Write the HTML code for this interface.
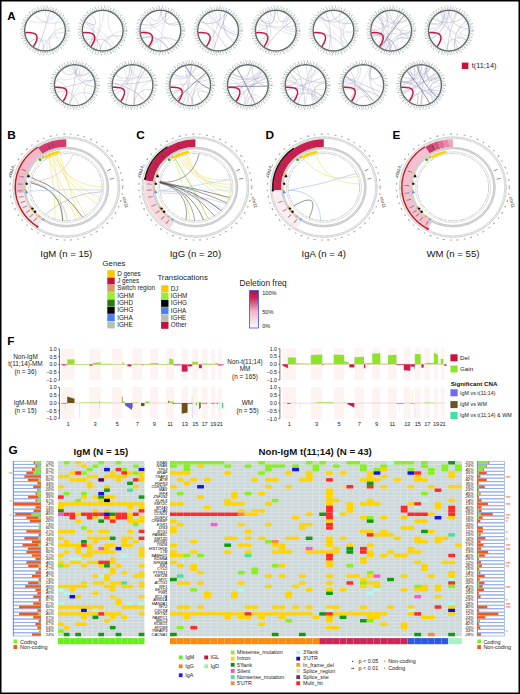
<!DOCTYPE html>
<html><head><meta charset="utf-8"><style>
html,body{margin:0;padding:0;background:#fff;}
svg{display:block;font-family:"Liberation Sans", sans-serif;}
</style></head><body>
<svg width="520" height="694" viewBox="0 0 520 694">
<rect x="0" y="0" width="520" height="694" fill="#fff"/>
<circle cx="45" cy="30.6" r="23.5" fill="none" stroke="#b9c6c1" stroke-width="1.8" stroke-dasharray="1.1 1.9 0.8 2.4 1.0 2.1"/>
<circle cx="45" cy="30.6" r="24.6" fill="none" stroke="#a0aea9" stroke-width="0.9" stroke-dasharray="0.8 4 0.6 5 0.7 3.5"/>
<circle cx="45" cy="30.6" r="21.9" fill="none" stroke="#76847f" stroke-width="1.0" stroke-dasharray="0.8 1.6"/>
<circle cx="45" cy="30.6" r="20.4" fill="#fff" stroke="#5f6e69" stroke-width="1.4"/>
<path d="M56.95,15.06 Q44.51,27.86 28.39,20.2" fill="none" stroke="#c4c4da" stroke-width="0.45" />
<path d="M42.78,50.07 Q46.39,32.27 64.54,32.07" fill="none" stroke="#b6b6d0" stroke-width="0.45" />
<path d="M62.17,21.14 Q45.6,28.07 33.89,14.45" fill="none" stroke="#b6b6d0" stroke-width="0.45" />
<path d="M33.23,46.27 Q44.76,32.18 51.64,49.04" fill="none" stroke="#c4c4da" stroke-width="0.45" />
<path d="M47.21,50.07 Q45.42,31.2 62.48,39.47" fill="none" stroke="#c4c4da" stroke-width="0.45" />
<path d="M60.32,42.82 Q49.26,30.41 59.15,17.04" fill="none" stroke="#cacade" stroke-width="0.45" />
<path d="M49.77,11.59 Q44.91,30.57 38.01,48.91" fill="none" stroke="#9c9cbe" stroke-width="0.45" />
<path d="M50.15,49.51 Q45.67,31.04 64.39,27.74" fill="none" stroke="#b6b6d0" stroke-width="0.45" />
<path d="M29.35,42.39 Q44.58,31.36 43.25,50.12" fill="none" stroke="#9c9cbe" stroke-width="0.45" />
<path d="M54.76,13.6 Q46.46,25.27 45.28,11" fill="none" stroke="#c4c4da" stroke-width="0.45" />
<path d="M25.31,32.67 C36.31,32.07 41,35.1 33.36,46.62" fill="none" stroke="#c8163f" stroke-width="1.5"/>
<circle cx="102.7" cy="30.6" r="23.5" fill="none" stroke="#b9c6c1" stroke-width="1.8" stroke-dasharray="1.1 1.9 0.8 2.4 1.0 2.1"/>
<circle cx="102.7" cy="30.6" r="24.6" fill="none" stroke="#a0aea9" stroke-width="0.9" stroke-dasharray="0.8 4 0.6 5 0.7 3.5"/>
<circle cx="102.7" cy="30.6" r="21.9" fill="none" stroke="#76847f" stroke-width="1.0" stroke-dasharray="0.8 1.6"/>
<circle cx="102.7" cy="30.6" r="20.4" fill="#fff" stroke="#5f6e69" stroke-width="1.4"/>
<path d="M85.59,40.17 Q100.06,34.63 100.79,50.11" fill="none" stroke="#9c9cbe" stroke-width="0.45" />
<path d="M83.52,26.58 Q101.74,31.83 111.29,48.22" fill="none" stroke="#c4c4da" stroke-width="0.45" />
<path d="M119.73,40.31 Q103.86,30.17 109.22,12.12" fill="none" stroke="#c4c4da" stroke-width="0.45" />
<path d="M84.57,23.15 Q102.26,30.68 88.19,43.77" fill="none" stroke="#c4c4da" stroke-width="0.45" />
<path d="M105.14,50.05 Q105.3,32.94 122.3,30.95" fill="none" stroke="#cacade" stroke-width="0.45" />
<path d="M104.08,11.05 Q102.38,30.48 91.07,46.38" fill="none" stroke="#cacade" stroke-width="0.45" />
<path d="M84.96,22.27 Q99.66,31.19 89.34,44.94" fill="none" stroke="#b6b6d0" stroke-width="0.45" />
<path d="M88.83,44.45 Q102.47,32.42 112.76,47.42" fill="none" stroke="#a6a6c6" stroke-width="0.45" />
<path d="M88.47,17.12 Q99.62,30.7 89.36,44.96" fill="none" stroke="#cacade" stroke-width="0.45" />
<path d="M85.62,20.99 Q102.36,31.02 115.5,45.44" fill="none" stroke="#c4c4da" stroke-width="0.45" />
<path d="M91.63,14.42 Q102.66,30.56 85.27,21.63" fill="none" stroke="#a6a6c6" stroke-width="0.45" />
<path d="M84.68,38.32 Q101.14,32.31 96.63,49.24" fill="none" stroke="#b6b6d0" stroke-width="0.45" />
<path d="M99.3,11.3 Q101.45,30.42 93.91,48.12" fill="none" stroke="#cacade" stroke-width="0.45" />
<path d="M100.03,50.02 Q103.85,32.38 121.48,36.2" fill="none" stroke="#9c9cbe" stroke-width="0.45" />
<path d="M83.01,32.67 C94.01,32.07 98.7,35.1 91.06,46.62" fill="none" stroke="#c8163f" stroke-width="1.5"/>
<circle cx="160.4" cy="30.6" r="23.5" fill="none" stroke="#b9c6c1" stroke-width="1.8" stroke-dasharray="1.1 1.9 0.8 2.4 1.0 2.1"/>
<circle cx="160.4" cy="30.6" r="24.6" fill="none" stroke="#a0aea9" stroke-width="0.9" stroke-dasharray="0.8 4 0.6 5 0.7 3.5"/>
<circle cx="160.4" cy="30.6" r="21.9" fill="none" stroke="#76847f" stroke-width="1.0" stroke-dasharray="0.8 1.6"/>
<circle cx="160.4" cy="30.6" r="20.4" fill="#fff" stroke="#5f6e69" stroke-width="1.4"/>
<path d="M172.1,14.88 Q159.75,29.12 140.91,28.49" fill="none" stroke="#c4c4da" stroke-width="0.45" />
<path d="M149.99,47.21 Q160.09,33.83 167.49,48.87" fill="none" stroke="#a6a6c6" stroke-width="0.45" />
<path d="M142.47,38.53 Q158.04,32.56 149.31,46.76" fill="none" stroke="#9c9cbe" stroke-width="0.45" />
<path d="M159.95,50.19 Q161.06,30.72 166.83,12.08" fill="none" stroke="#c4c4da" stroke-width="0.45" />
<path d="M146.36,16.93 Q159.98,30.49 141.55,35.98" fill="none" stroke="#c4c4da" stroke-width="0.45" />
<path d="M178.93,24.21 Q162.02,28.94 166.29,11.91" fill="none" stroke="#9c9cbe" stroke-width="0.45" />
<path d="M140.8,30.73 Q158.08,31.95 150.54,47.54" fill="none" stroke="#9c9cbe" stroke-width="0.45" />
<path d="M140.83,29.47 Q158.28,32.45 158.88,50.14" fill="none" stroke="#cacade" stroke-width="0.45" />
<path d="M160.84,11 Q159.74,28.62 148.34,15.15" fill="none" stroke="#a6a6c6" stroke-width="0.45" />
<path d="M167.1,12.18 Q159.63,29 141.84,24.3" fill="none" stroke="#9c9cbe" stroke-width="0.45" />
<path d="M144.66,18.92 Q160.22,30.79 172.76,45.81" fill="none" stroke="#c4c4da" stroke-width="0.45" />
<path d="M178.04,22.05 Q161.6,28.77 161.21,11.02" fill="none" stroke="#a6a6c6" stroke-width="0.45" />
<path d="M142.09,37.59 Q159.13,33.68 168.43,48.48" fill="none" stroke="#a6a6c6" stroke-width="0.45" />
<path d="M147.83,45.64 Q160.67,32.31 177.02,40.99" fill="none" stroke="#9c9cbe" stroke-width="0.45" />
<path d="M140.71,32.67 C151.71,32.07 156.4,35.1 148.76,46.62" fill="none" stroke="#c8163f" stroke-width="1.5"/>
<circle cx="218.1" cy="30.6" r="23.5" fill="none" stroke="#b9c6c1" stroke-width="1.8" stroke-dasharray="1.1 1.9 0.8 2.4 1.0 2.1"/>
<circle cx="218.1" cy="30.6" r="24.6" fill="none" stroke="#a0aea9" stroke-width="0.9" stroke-dasharray="0.8 4 0.6 5 0.7 3.5"/>
<circle cx="218.1" cy="30.6" r="21.9" fill="none" stroke="#76847f" stroke-width="1.0" stroke-dasharray="0.8 1.6"/>
<circle cx="218.1" cy="30.6" r="20.4" fill="#fff" stroke="#5f6e69" stroke-width="1.4"/>
<path d="M237.53,33.17 Q220.17,28.84 218.72,11.01" fill="none" stroke="#c4c4da" stroke-width="0.45" />
<path d="M234.8,40.86 Q218.84,30.02 212.04,11.96" fill="none" stroke="#cacade" stroke-width="0.45" />
<path d="M207.79,13.93 Q217.9,30.62 211.85,49.18" fill="none" stroke="#cacade" stroke-width="0.45" />
<path d="M221.47,11.29 Q218.05,30.58 206.43,46.35" fill="none" stroke="#b6b6d0" stroke-width="0.45" />
<path d="M237.14,35.26 Q218.86,29.61 208.77,13.36" fill="none" stroke="#9c9cbe" stroke-width="0.45" />
<path d="M226.06,12.69 Q217.04,27.74 200.41,22.16" fill="none" stroke="#9c9cbe" stroke-width="0.45" />
<path d="M201.23,20.63 Q217.15,31.48 226.77,48.18" fill="none" stroke="#9c9cbe" stroke-width="0.45" />
<path d="M203.61,43.8 Q216.56,33.43 214.92,49.94" fill="none" stroke="#c4c4da" stroke-width="0.45" />
<path d="M236.58,37.14 Q219.91,29.03 214.24,11.38" fill="none" stroke="#cacade" stroke-width="0.45" />
<path d="M213.46,49.64 Q218.71,30.83 227.34,13.32" fill="none" stroke="#9c9cbe" stroke-width="0.45" />
<path d="M233.55,42.66 Q219.1,30.32 225.13,12.31" fill="none" stroke="#9c9cbe" stroke-width="0.45" />
<path d="M198.63,28.34 Q215.46,31.41 203.29,43.44" fill="none" stroke="#cacade" stroke-width="0.45" />
<path d="M198.41,32.67 C209.41,32.07 214.1,35.1 206.46,46.62" fill="none" stroke="#c8163f" stroke-width="1.5"/>
<circle cx="275.8" cy="30.6" r="23.5" fill="none" stroke="#b9c6c1" stroke-width="1.8" stroke-dasharray="1.1 1.9 0.8 2.4 1.0 2.1"/>
<circle cx="275.8" cy="30.6" r="24.6" fill="none" stroke="#a0aea9" stroke-width="0.9" stroke-dasharray="0.8 4 0.6 5 0.7 3.5"/>
<circle cx="275.8" cy="30.6" r="21.9" fill="none" stroke="#76847f" stroke-width="1.0" stroke-dasharray="0.8 1.6"/>
<circle cx="275.8" cy="30.6" r="20.4" fill="#fff" stroke="#5f6e69" stroke-width="1.4"/>
<path d="M294.78,35.48 Q275.96,30.24 259.6,19.56" fill="none" stroke="#c4c4da" stroke-width="0.45" />
<path d="M295.38,29.77 Q280.32,28.53 289.21,16.31" fill="none" stroke="#b6b6d0" stroke-width="0.45" />
<path d="M291.29,18.59 Q277.47,27.5 277.31,11.06" fill="none" stroke="#b6b6d0" stroke-width="0.45" />
<path d="M266.39,13.41 Q274.22,30.63 267.13,48.18" fill="none" stroke="#c4c4da" stroke-width="0.45" />
<path d="M260.61,18.22 Q275,30.58 259.9,42.06" fill="none" stroke="#9c9cbe" stroke-width="0.45" />
<path d="M269.85,11.93 Q274.13,28.06 261.01,17.74" fill="none" stroke="#cacade" stroke-width="0.45" />
<path d="M274.77,11.03 Q275.7,30.42 259.58,19.6" fill="none" stroke="#9c9cbe" stroke-width="0.45" />
<path d="M294.83,25.93 Q275.87,29.21 257.32,24.08" fill="none" stroke="#b6b6d0" stroke-width="0.45" />
<path d="M275.52,11 Q274.76,29.57 256.2,30.64" fill="none" stroke="#b6b6d0" stroke-width="0.45" />
<path d="M295.37,31.64 Q275.99,30.51 287.61,14.96" fill="none" stroke="#b6b6d0" stroke-width="0.45" />
<path d="M266.1,47.63 Q276.32,31.11 292.74,20.74" fill="none" stroke="#9c9cbe" stroke-width="0.45" />
<path d="M289.02,16.13 Q276.01,29.71 270.21,11.82" fill="none" stroke="#c4c4da" stroke-width="0.45" />
<path d="M256.4,33.38 Q275.64,30.67 260.64,43.03" fill="none" stroke="#cacade" stroke-width="0.45" />
<path d="M256.75,25.98 Q275.38,30.71 261.76,44.28" fill="none" stroke="#cacade" stroke-width="0.45" />
<path d="M256.11,32.67 C267.11,32.07 271.8,35.1 264.16,46.62" fill="none" stroke="#c8163f" stroke-width="1.5"/>
<circle cx="333.5" cy="30.6" r="23.5" fill="none" stroke="#b9c6c1" stroke-width="1.8" stroke-dasharray="1.1 1.9 0.8 2.4 1.0 2.1"/>
<circle cx="333.5" cy="30.6" r="24.6" fill="none" stroke="#a0aea9" stroke-width="0.9" stroke-dasharray="0.8 4 0.6 5 0.7 3.5"/>
<circle cx="333.5" cy="30.6" r="21.9" fill="none" stroke="#76847f" stroke-width="1.0" stroke-dasharray="0.8 1.6"/>
<circle cx="333.5" cy="30.6" r="20.4" fill="#fff" stroke="#5f6e69" stroke-width="1.4"/>
<path d="M347.63,44.19 Q337.8,30.93 349.51,19.29" fill="none" stroke="#b6b6d0" stroke-width="0.45" />
<path d="M326.03,12.48 Q332.97,30.64 328.92,49.66" fill="none" stroke="#a6a6c6" stroke-width="0.45" />
<path d="M345,46.47 Q333.97,30.86 353.07,31.76" fill="none" stroke="#c4c4da" stroke-width="0.45" />
<path d="M317.94,18.69 Q333.27,30.85 346.58,45.2" fill="none" stroke="#cacade" stroke-width="0.45" />
<path d="M342.96,47.77 Q336.08,31.06 348.32,17.78" fill="none" stroke="#c4c4da" stroke-width="0.45" />
<path d="M341.5,12.71 Q332.56,26.37 318.69,17.77" fill="none" stroke="#9c9cbe" stroke-width="0.45" />
<path d="M351.67,23.25 Q335.69,26.82 330.86,11.18" fill="none" stroke="#9c9cbe" stroke-width="0.45" />
<path d="M321.17,15.36 Q331.52,31.23 332.29,50.16" fill="none" stroke="#c4c4da" stroke-width="0.45" />
<path d="M352.87,33.57 Q334.46,28.88 320.8,15.67" fill="none" stroke="#cacade" stroke-width="0.45" />
<path d="M347.72,44.09 Q336.11,30 340.35,12.24" fill="none" stroke="#cacade" stroke-width="0.45" />
<path d="M313.99,32.51 Q332.55,32.54 343.9,47.21" fill="none" stroke="#9c9cbe" stroke-width="0.45" />
<path d="M347.43,16.81 Q333.52,27.66 319.72,16.66" fill="none" stroke="#a6a6c6" stroke-width="0.45" />
<path d="M313.81,32.67 C324.81,32.07 329.5,35.1 321.86,46.62" fill="none" stroke="#c8163f" stroke-width="1.5"/>
<circle cx="391.2" cy="30.6" r="23.5" fill="none" stroke="#b9c6c1" stroke-width="1.8" stroke-dasharray="1.1 1.9 0.8 2.4 1.0 2.1"/>
<circle cx="391.2" cy="30.6" r="24.6" fill="none" stroke="#a0aea9" stroke-width="0.9" stroke-dasharray="0.8 4 0.6 5 0.7 3.5"/>
<circle cx="391.2" cy="30.6" r="21.9" fill="none" stroke="#76847f" stroke-width="1.0" stroke-dasharray="0.8 1.6"/>
<circle cx="391.2" cy="30.6" r="20.4" fill="#fff" stroke="#5f6e69" stroke-width="1.4"/>
<path d="M386.41,49.6 Q391.6,30.76 400.85,13.54" fill="none" stroke="#b6b6d0" stroke-width="0.45" />
<path d="M371.88,33.89 Q389.62,33.24 397.41,49.19" fill="none" stroke="#a6a6c6" stroke-width="0.45" />
<path d="M398.68,12.48 Q391.11,30.56 382.34,48.08" fill="none" stroke="#a6a6c6" stroke-width="0.45" />
<path d="M390.01,50.16 Q393.06,33.71 409.02,38.77" fill="none" stroke="#c4c4da" stroke-width="0.45" />
<path d="M387.75,11.31 Q390.61,30.26 372.8,37.35" fill="none" stroke="#c4c4da" stroke-width="0.45" />
<path d="M378.26,15.88 Q389.64,30.36 374.37,40.64" fill="none" stroke="#a6a6c6" stroke-width="0.45" />
<path d="M398.99,48.58 Q391.54,30.89 410.23,35.3" fill="none" stroke="#cacade" stroke-width="0.45" />
<path d="M407.55,19.79 Q392.41,27.11 385.07,11.98" fill="none" stroke="#c4c4da" stroke-width="0.45" />
<path d="M377.48,16.61 Q389.82,31.11 389.85,50.15" fill="none" stroke="#a6a6c6" stroke-width="0.45" />
<path d="M371.6,30.19 Q388.56,33.17 391.07,50.2" fill="none" stroke="#c4c4da" stroke-width="0.45" />
<path d="M371.63,29.5 Q389.6,31.23 377.56,44.68" fill="none" stroke="#c4c4da" stroke-width="0.45" />
<path d="M406.44,42.92 Q392.8,30.88 409.72,24.17" fill="none" stroke="#c4c4da" stroke-width="0.45" />
<path d="M409.52,37.56 Q392.55,29.57 389.23,11.1" fill="none" stroke="#a6a6c6" stroke-width="0.45" />
<path d="M372.45,24.89 Q390.26,31.05 383.76,48.73" fill="none" stroke="#cacade" stroke-width="0.45" />
<path d="M371.81,33.49 Q388.84,33.53 392.52,50.16" fill="none" stroke="#cacade" stroke-width="0.45" />
<path d="M380.51,47.03 Q391.17,30.78 395.77,49.66" fill="none" stroke="#9c9cbe" stroke-width="0.45" />
<path d="M380.02,14.5 Q388.5,30.51 378.98,45.93" fill="none" stroke="#b6b6d0" stroke-width="0.45" />
<path d="M386.63,49.66 Q392.84,32.84 410.75,32.07" fill="none" stroke="#9c9cbe" stroke-width="0.45" />
<path d="M372.54,36.6 Q391.29,31.83 410.53,33.85" fill="none" stroke="#c4c4da" stroke-width="0.45" />
<path d="M407.45,19.65 Q391.38,29.68 380.3,14.31" fill="none" stroke="#a6a6c6" stroke-width="0.45" />
<path d="M385.9,11.73 Q391.09,30.6 385.31,49.29" fill="none" stroke="#b6b6d0" stroke-width="0.45" />
<path d="M389.39,50.12 Q393.42,34.3 409.28,38.16" fill="none" stroke="#a6a6c6" stroke-width="0.45" />
<path d="M410.78,31.42 Q391.38,30 374.46,20.4" fill="none" stroke="#b6b6d0" stroke-width="0.45" />
<path d="M372.13,35.13 Q387.39,33.19 379.97,46.67" fill="none" stroke="#a6a6c6" stroke-width="0.45" />
<path d="M386.25,11.64 Q390.45,29.14 378.62,15.57" fill="none" stroke="#c4c4da" stroke-width="0.45" />
<path d="M400.87,13.55 Q390.41,29.22 371.6,30.31" fill="none" stroke="#b6b6d0" stroke-width="0.45" />
<path d="M380.57,47.19 Q391.52,30.84 403.95,15.59" fill="none" stroke="#6a6a90" stroke-width="0.7" />
<path d="M371.51,32.67 C382.51,32.07 387.2,35.1 379.56,46.62" fill="none" stroke="#c8163f" stroke-width="1.5"/>
<circle cx="448.9" cy="30.6" r="23.5" fill="none" stroke="#b9c6c1" stroke-width="1.8" stroke-dasharray="1.1 1.9 0.8 2.4 1.0 2.1"/>
<circle cx="448.9" cy="30.6" r="24.6" fill="none" stroke="#a0aea9" stroke-width="0.9" stroke-dasharray="0.8 4 0.6 5 0.7 3.5"/>
<circle cx="448.9" cy="30.6" r="21.9" fill="none" stroke="#76847f" stroke-width="1.0" stroke-dasharray="0.8 1.6"/>
<circle cx="448.9" cy="30.6" r="20.4" fill="#fff" stroke="#5f6e69" stroke-width="1.4"/>
<path d="M449.33,11 Q447.63,29.75 430.97,38.52" fill="none" stroke="#cacade" stroke-width="0.45" />
<path d="M441.8,12.33 Q446.05,27.69 430.78,23.13" fill="none" stroke="#9c9cbe" stroke-width="0.45" />
<path d="M448.89,11 Q446.69,29.25 431.46,39.55" fill="none" stroke="#a6a6c6" stroke-width="0.45" />
<path d="M456.08,12.36 Q448.3,30.27 437.41,46.48" fill="none" stroke="#c4c4da" stroke-width="0.45" />
<path d="M447,50.11 Q449.09,31.18 461.78,45.38" fill="none" stroke="#a6a6c6" stroke-width="0.45" />
<path d="M467.76,35.95 Q449.76,30.58 467.44,24.23" fill="none" stroke="#c4c4da" stroke-width="0.45" />
<path d="M446.37,11.16 Q447.53,28.9 430.47,23.93" fill="none" stroke="#cacade" stroke-width="0.45" />
<path d="M457.51,48.21 Q450.46,32.21 466.23,39.76" fill="none" stroke="#a6a6c6" stroke-width="0.45" />
<path d="M443.85,11.66 Q445.79,28.04 429.34,29.3" fill="none" stroke="#b6b6d0" stroke-width="0.45" />
<path d="M446.74,50.08 Q449.04,30.64 456.73,12.63" fill="none" stroke="#a6a6c6" stroke-width="0.45" />
<path d="M452.65,11.36 Q448.14,25.65 439.52,13.39" fill="none" stroke="#cacade" stroke-width="0.45" />
<path d="M454.7,49.32 Q449.03,30.57 444.33,11.54" fill="none" stroke="#c4c4da" stroke-width="0.45" />
<path d="M454.87,49.27 Q451.92,31.77 465.91,20.87" fill="none" stroke="#9c9cbe" stroke-width="0.45" />
<path d="M429.36,32.11 Q445.91,33.43 446.37,50.04" fill="none" stroke="#cacade" stroke-width="0.45" />
<path d="M466.48,39.26 Q453.43,31.47 468.44,29.08" fill="none" stroke="#cacade" stroke-width="0.45" />
<path d="M463.65,17.69 Q448.74,27.08 433.02,19.11" fill="none" stroke="#a6a6c6" stroke-width="0.45" />
<path d="M468.43,28.94 Q451.42,27.77 448.24,11.01" fill="none" stroke="#9c9cbe" stroke-width="0.45" />
<path d="M444.72,11.45 Q445.78,28.36 429.42,32.72" fill="none" stroke="#a6a6c6" stroke-width="0.45" />
<path d="M465.96,40.25 Q449.24,30.13 434.29,17.54" fill="none" stroke="#c4c4da" stroke-width="0.45" />
<path d="M464.57,42.37 Q448.95,30.54 435.73,16.08" fill="none" stroke="#cacade" stroke-width="0.45" />
<path d="M429.21,32.67 C440.21,32.07 444.9,35.1 437.26,46.62" fill="none" stroke="#c8163f" stroke-width="1.5"/>
<circle cx="74.8" cy="85.2" r="23.5" fill="none" stroke="#b9c6c1" stroke-width="1.8" stroke-dasharray="1.1 1.9 0.8 2.4 1.0 2.1"/>
<circle cx="74.8" cy="85.2" r="24.6" fill="none" stroke="#a0aea9" stroke-width="0.9" stroke-dasharray="0.8 4 0.6 5 0.7 3.5"/>
<circle cx="74.8" cy="85.2" r="21.9" fill="none" stroke="#76847f" stroke-width="1.0" stroke-dasharray="0.8 1.6"/>
<circle cx="74.8" cy="85.2" r="20.4" fill="#fff" stroke="#5f6e69" stroke-width="1.4"/>
<path d="M93.6,79.66 Q75.33,84.68 80.55,66.46" fill="none" stroke="#b6b6d0" stroke-width="0.45" />
<path d="M87.29,100.3 Q78.05,86.21 93.65,79.82" fill="none" stroke="#b6b6d0" stroke-width="0.45" />
<path d="M69.91,104.18 Q75.29,85.56 91.43,74.83" fill="none" stroke="#cacade" stroke-width="0.45" />
<path d="M55.82,80.3 Q73.27,85.55 59.88,97.91" fill="none" stroke="#b6b6d0" stroke-width="0.45" />
<path d="M68.84,103.87 Q75.59,87.14 92.06,94.49" fill="none" stroke="#b6b6d0" stroke-width="0.45" />
<path d="M77.28,65.76 Q74.53,85.15 69.53,104.08" fill="none" stroke="#a6a6c6" stroke-width="0.45" />
<path d="M88.94,71.63 Q75.81,82.8 74.63,65.6" fill="none" stroke="#c4c4da" stroke-width="0.45" />
<path d="M85.25,68.62 Q75.17,80.93 67.39,67.05" fill="none" stroke="#cacade" stroke-width="0.45" />
<path d="M89.81,72.59 Q76.18,81.4 71.41,65.9" fill="none" stroke="#a6a6c6" stroke-width="0.45" />
<path d="M86.75,69.66 Q74.18,83.15 56.23,78.94" fill="none" stroke="#c4c4da" stroke-width="0.45" />
<path d="M93.59,79.63 Q74.76,85.06 55.7,89.6" fill="none" stroke="#a6a6c6" stroke-width="0.45" />
<path d="M94.32,86.92 Q75.59,84.44 74.03,65.61" fill="none" stroke="#a6a6c6" stroke-width="0.45" />
<path d="M78.96,66.05 Q73.55,80.71 61.34,70.95" fill="none" stroke="#a6a6c6" stroke-width="0.45" />
<path d="M56.36,91.85 Q73.22,87.98 78.47,104.45" fill="none" stroke="#a6a6c6" stroke-width="0.45" />
<path d="M55.11,87.27 C66.11,86.67 70.8,89.7 63.16,101.22" fill="none" stroke="#c8163f" stroke-width="1.5"/>
<circle cx="132.5" cy="85.2" r="23.5" fill="none" stroke="#b9c6c1" stroke-width="1.8" stroke-dasharray="1.1 1.9 0.8 2.4 1.0 2.1"/>
<circle cx="132.5" cy="85.2" r="24.6" fill="none" stroke="#a0aea9" stroke-width="0.9" stroke-dasharray="0.8 4 0.6 5 0.7 3.5"/>
<circle cx="132.5" cy="85.2" r="21.9" fill="none" stroke="#76847f" stroke-width="1.0" stroke-dasharray="0.8 1.6"/>
<circle cx="132.5" cy="85.2" r="20.4" fill="#fff" stroke="#5f6e69" stroke-width="1.4"/>
<path d="M150.38,77.18 Q134.21,82 129.22,65.88" fill="none" stroke="#b6b6d0" stroke-width="0.45" />
<path d="M123.47,67.8 Q131.06,85.3 126.07,103.72" fill="none" stroke="#cacade" stroke-width="0.45" />
<path d="M129.96,65.77 Q130.55,83.95 113.78,90.99" fill="none" stroke="#9c9cbe" stroke-width="0.45" />
<path d="M145.03,70.13 Q132.44,85.01 113.75,79.51" fill="none" stroke="#cacade" stroke-width="0.45" />
<path d="M135,65.76 Q132.49,85.2 125.15,103.37" fill="none" stroke="#c4c4da" stroke-width="0.45" />
<path d="M147.8,72.95 Q132.33,83.04 115.48,75.48" fill="none" stroke="#c4c4da" stroke-width="0.45" />
<path d="M113.02,83.01 Q131.57,86.93 145.01,100.29" fill="none" stroke="#9c9cbe" stroke-width="0.45" />
<path d="M133.79,104.76 Q133.62,85.56 145.03,70.13" fill="none" stroke="#9c9cbe" stroke-width="0.45" />
<path d="M133.93,104.75 Q133.32,85.39 142.33,68.24" fill="none" stroke="#a6a6c6" stroke-width="0.45" />
<path d="M133.96,104.75 Q135.26,88.38 151.65,89.39" fill="none" stroke="#a6a6c6" stroke-width="0.45" />
<path d="M146.93,98.46 Q134.72,85.82 151.71,81.3" fill="none" stroke="#cacade" stroke-width="0.45" />
<path d="M151.46,80.24 Q132.5,85.19 112.95,83.87" fill="none" stroke="#a6a6c6" stroke-width="0.45" />
<path d="M115.71,75.09 Q132.07,85.66 143.62,101.34" fill="none" stroke="#c4c4da" stroke-width="0.45" />
<path d="M132.28,65.6 Q132.22,85.03 115.09,94.2" fill="none" stroke="#a6a6c6" stroke-width="0.45" />
<path d="M112.81,87.27 C123.81,86.67 128.5,89.7 120.86,101.22" fill="none" stroke="#c8163f" stroke-width="1.5"/>
<circle cx="190.2" cy="85.2" r="23.5" fill="none" stroke="#b9c6c1" stroke-width="1.8" stroke-dasharray="1.1 1.9 0.8 2.4 1.0 2.1"/>
<circle cx="190.2" cy="85.2" r="24.6" fill="none" stroke="#a0aea9" stroke-width="0.9" stroke-dasharray="0.8 4 0.6 5 0.7 3.5"/>
<circle cx="190.2" cy="85.2" r="21.9" fill="none" stroke="#76847f" stroke-width="1.0" stroke-dasharray="0.8 1.6"/>
<circle cx="190.2" cy="85.2" r="20.4" fill="#fff" stroke="#5f6e69" stroke-width="1.4"/>
<path d="M191.91,104.73 Q192.39,86.11 205.23,72.62" fill="none" stroke="#cacade" stroke-width="0.45" />
<path d="M196.73,66.72 Q189.46,83.53 172.13,77.62" fill="none" stroke="#b6b6d0" stroke-width="0.45" />
<path d="M201.81,100.99 Q191.65,86.35 208.23,92.89" fill="none" stroke="#9c9cbe" stroke-width="0.45" />
<path d="M191.75,65.66 Q189.75,84.9 172.91,94.43" fill="none" stroke="#9c9cbe" stroke-width="0.45" />
<path d="M174.18,73.91 Q188.48,85.64 181.49,102.76" fill="none" stroke="#cacade" stroke-width="0.45" />
<path d="M185.95,104.33 Q191.17,85.88 206.78,74.75" fill="none" stroke="#b6b6d0" stroke-width="0.45" />
<path d="M190.55,104.8 Q191.01,85.92 209.72,83.39" fill="none" stroke="#cacade" stroke-width="0.45" />
<path d="M208.99,79.63 Q190.2,85.17 170.6,85.44" fill="none" stroke="#b6b6d0" stroke-width="0.45" />
<path d="M188.88,65.64 Q189.87,84.63 173.9,74.31" fill="none" stroke="#c4c4da" stroke-width="0.45" />
<path d="M203.84,71.13 Q190.76,83.04 185.09,66.28" fill="none" stroke="#c4c4da" stroke-width="0.45" />
<path d="M191.7,65.66 Q190.04,85.17 183.29,103.54" fill="none" stroke="#a6a6c6" stroke-width="0.45" />
<path d="M185.08,66.28 Q189.17,85.29 188.25,104.7" fill="none" stroke="#c4c4da" stroke-width="0.45" />
<path d="M192.53,104.66 Q191.26,85.65 205.87,73.43" fill="none" stroke="#cacade" stroke-width="0.45" />
<path d="M191.73,104.74 Q190.7,85.72 209.66,87.54" fill="none" stroke="#cacade" stroke-width="0.45" />
<path d="M171.79,91.92 Q189.95,85.63 193.31,104.55" fill="none" stroke="#a6a6c6" stroke-width="0.45" />
<path d="M196.47,66.63 Q188.75,80.99 173.84,74.41" fill="none" stroke="#b6b6d0" stroke-width="0.45" />
<path d="M209.54,88.93 Q193.83,81.39 185.54,66.06" fill="none" stroke="#6a6a90" stroke-width="0.7" />
<path d="M205.76,73.12 Q190.45,85.48 176.62,99.47" fill="none" stroke="#6a6a90" stroke-width="0.7" />
<path d="M170.51,87.27 C181.51,86.67 186.2,89.7 178.56,101.22" fill="none" stroke="#c8163f" stroke-width="1.5"/>
<circle cx="247.9" cy="85.2" r="23.5" fill="none" stroke="#b9c6c1" stroke-width="1.8" stroke-dasharray="1.1 1.9 0.8 2.4 1.0 2.1"/>
<circle cx="247.9" cy="85.2" r="24.6" fill="none" stroke="#a0aea9" stroke-width="0.9" stroke-dasharray="0.8 4 0.6 5 0.7 3.5"/>
<circle cx="247.9" cy="85.2" r="21.9" fill="none" stroke="#76847f" stroke-width="1.0" stroke-dasharray="0.8 1.6"/>
<circle cx="247.9" cy="85.2" r="20.4" fill="#fff" stroke="#5f6e69" stroke-width="1.4"/>
<path d="M264.4,74.62 Q247.5,84.12 228.5,88" fill="none" stroke="#9c9cbe" stroke-width="0.45" />
<path d="M267.18,81.67 Q247.89,85.17 228.56,88.35" fill="none" stroke="#a6a6c6" stroke-width="0.45" />
<path d="M244.62,104.52 Q248.91,85.72 261.64,71.22" fill="none" stroke="#a6a6c6" stroke-width="0.45" />
<path d="M247.61,104.8 Q249.02,88 261.66,99.16" fill="none" stroke="#b6b6d0" stroke-width="0.45" />
<path d="M267.47,86.27 Q250.03,83.62 252.58,66.17" fill="none" stroke="#a6a6c6" stroke-width="0.45" />
<path d="M229.51,78.43 Q246.94,85.76 244.89,104.57" fill="none" stroke="#b6b6d0" stroke-width="0.45" />
<path d="M265.46,76.5 Q248.06,83.34 232.11,73.58" fill="none" stroke="#a6a6c6" stroke-width="0.45" />
<path d="M262.3,71.91 Q247.57,84.74 230.75,94.7" fill="none" stroke="#cacade" stroke-width="0.45" />
<path d="M260.45,70.15 Q247.85,84.96 230.18,76.83" fill="none" stroke="#a6a6c6" stroke-width="0.45" />
<path d="M234.84,99.82 Q248.42,85.94 266.09,77.91" fill="none" stroke="#a6a6c6" stroke-width="0.45" />
<path d="M251.06,104.54 Q250.4,86.07 262.4,72.01" fill="none" stroke="#b6b6d0" stroke-width="0.45" />
<path d="M250.53,65.78 Q246.75,84.59 233.26,98.23" fill="none" stroke="#b6b6d0" stroke-width="0.45" />
<path d="M261.52,71.11 Q247.84,85.05 228.35,83.78" fill="none" stroke="#b6b6d0" stroke-width="0.45" />
<path d="M252.13,66.06 Q247.06,82.94 232.16,73.52" fill="none" stroke="#a6a6c6" stroke-width="0.45" />
<path d="M246.38,104.74 Q249.09,90.06 258.27,101.83" fill="none" stroke="#c4c4da" stroke-width="0.45" />
<path d="M236.9,101.42 Q248.4,85.79 265.79,77.2" fill="none" stroke="#b6b6d0" stroke-width="0.45" />
<path d="M254.87,103.63 Q246.97,85.67 237.11,68.72" fill="none" stroke="#6a6a90" stroke-width="0.7" />
<path d="M267.57,86.25 Q247.92,85.94 228.3,87.14" fill="none" stroke="#6a6a90" stroke-width="0.7" />
<path d="M228.21,87.27 C239.21,86.67 243.9,89.7 236.26,101.22" fill="none" stroke="#c8163f" stroke-width="1.5"/>
<circle cx="305.6" cy="85.2" r="23.5" fill="none" stroke="#b9c6c1" stroke-width="1.8" stroke-dasharray="1.1 1.9 0.8 2.4 1.0 2.1"/>
<circle cx="305.6" cy="85.2" r="24.6" fill="none" stroke="#a0aea9" stroke-width="0.9" stroke-dasharray="0.8 4 0.6 5 0.7 3.5"/>
<circle cx="305.6" cy="85.2" r="21.9" fill="none" stroke="#76847f" stroke-width="1.0" stroke-dasharray="0.8 1.6"/>
<circle cx="305.6" cy="85.2" r="20.4" fill="#fff" stroke="#5f6e69" stroke-width="1.4"/>
<path d="M289.97,73.37 Q304.49,84.84 286,85.59" fill="none" stroke="#9c9cbe" stroke-width="0.45" />
<path d="M288.95,74.86 Q305.09,85.76 317.34,100.9" fill="none" stroke="#b6b6d0" stroke-width="0.45" />
<path d="M316.31,68.79 Q305.51,85.13 293.48,100.6" fill="none" stroke="#b6b6d0" stroke-width="0.45" />
<path d="M286.59,80.41 Q305.29,85.93 322.21,95.61" fill="none" stroke="#9c9cbe" stroke-width="0.45" />
<path d="M314.42,102.7 Q306.55,85.97 324.55,90.2" fill="none" stroke="#c4c4da" stroke-width="0.45" />
<path d="M318.08,100.31 Q307.76,86.07 325.08,83.05" fill="none" stroke="#a6a6c6" stroke-width="0.45" />
<path d="M311.01,66.36 Q305.56,85.19 298.1,103.31" fill="none" stroke="#a6a6c6" stroke-width="0.45" />
<path d="M286.18,87.87 Q305.23,86.78 321.84,96.17" fill="none" stroke="#b6b6d0" stroke-width="0.45" />
<path d="M319.28,71.16 Q305.34,83.88 287.6,77.43" fill="none" stroke="#cacade" stroke-width="0.45" />
<path d="M321.62,96.49 Q307.08,84.71 311.72,66.58" fill="none" stroke="#cacade" stroke-width="0.45" />
<path d="M296.84,67.67 Q304.29,85.49 304.93,104.79" fill="none" stroke="#a6a6c6" stroke-width="0.45" />
<path d="M315.97,101.83 Q307.09,84.81 306.42,65.62" fill="none" stroke="#c4c4da" stroke-width="0.45" />
<path d="M287.1,78.73 Q305.15,85.78 316.54,101.46" fill="none" stroke="#cacade" stroke-width="0.45" />
<path d="M312.62,103.5 Q308.26,86.64 324.75,81.04" fill="none" stroke="#cacade" stroke-width="0.45" />
<path d="M324.93,81.97 Q305.79,84.68 292.76,70.39" fill="none" stroke="#a6a6c6" stroke-width="0.45" />
<path d="M323.55,77.32 Q305.46,84.81 286.66,90.26" fill="none" stroke="#9c9cbe" stroke-width="0.45" />
<path d="M305.57,104.8 Q306.83,85.59 316.87,69.16" fill="none" stroke="#cacade" stroke-width="0.45" />
<path d="M291.01,98.28 Q305.59,87.4 320.04,98.45" fill="none" stroke="#9c9cbe" stroke-width="0.45" />
<path d="M285.91,87.27 C296.91,86.67 301.6,89.7 293.96,101.22" fill="none" stroke="#c8163f" stroke-width="1.5"/>
<circle cx="363.3" cy="85.2" r="23.5" fill="none" stroke="#b9c6c1" stroke-width="1.8" stroke-dasharray="1.1 1.9 0.8 2.4 1.0 2.1"/>
<circle cx="363.3" cy="85.2" r="24.6" fill="none" stroke="#a0aea9" stroke-width="0.9" stroke-dasharray="0.8 4 0.6 5 0.7 3.5"/>
<circle cx="363.3" cy="85.2" r="21.9" fill="none" stroke="#76847f" stroke-width="1.0" stroke-dasharray="0.8 1.6"/>
<circle cx="363.3" cy="85.2" r="20.4" fill="#fff" stroke="#5f6e69" stroke-width="1.4"/>
<path d="M345.34,77.35 Q362.02,86.48 371.18,103.15" fill="none" stroke="#9c9cbe" stroke-width="0.45" />
<path d="M344.08,81.34 Q363.07,85.54 373.94,101.66" fill="none" stroke="#9c9cbe" stroke-width="0.45" />
<path d="M369.72,66.68 Q362.21,84.52 349.42,99.04" fill="none" stroke="#c4c4da" stroke-width="0.45" />
<path d="M355.36,103.12 Q363.58,88.96 373.85,101.72" fill="none" stroke="#a6a6c6" stroke-width="0.45" />
<path d="M378.71,97.31 Q365.5,84.66 371.35,67.33" fill="none" stroke="#a6a6c6" stroke-width="0.45" />
<path d="M359.99,65.88 Q363.02,84.95 343.73,84.06" fill="none" stroke="#b6b6d0" stroke-width="0.45" />
<path d="M358.11,66.3 Q360.87,82.78 344.38,80.09" fill="none" stroke="#b6b6d0" stroke-width="0.45" />
<path d="M344.11,89.18 Q363.05,86.43 379.37,96.41" fill="none" stroke="#a6a6c6" stroke-width="0.45" />
<path d="M350.38,70.46 Q359.49,85.25 350.78,100.28" fill="none" stroke="#a6a6c6" stroke-width="0.45" />
<path d="M382.8,87.2 Q366.84,83.15 371.23,67.28" fill="none" stroke="#b6b6d0" stroke-width="0.45" />
<path d="M380.9,76.58 Q363.85,84.61 370.97,67.16" fill="none" stroke="#9c9cbe" stroke-width="0.45" />
<path d="M343.7,85.42 Q363.03,85.92 377.83,98.35" fill="none" stroke="#cacade" stroke-width="0.45" />
<path d="M345.85,76.28 Q362.31,86.3 373.96,101.65" fill="none" stroke="#9c9cbe" stroke-width="0.45" />
<path d="M381.52,92.42 Q363.36,85.06 345.63,76.72" fill="none" stroke="#9c9cbe" stroke-width="0.45" />
<path d="M343.61,87.27 C354.61,86.67 359.3,89.7 351.66,101.22" fill="none" stroke="#c8163f" stroke-width="1.5"/>
<circle cx="421" cy="85.2" r="23.5" fill="none" stroke="#b9c6c1" stroke-width="1.8" stroke-dasharray="1.1 1.9 0.8 2.4 1.0 2.1"/>
<circle cx="421" cy="85.2" r="24.6" fill="none" stroke="#a0aea9" stroke-width="0.9" stroke-dasharray="0.8 4 0.6 5 0.7 3.5"/>
<circle cx="421" cy="85.2" r="21.9" fill="none" stroke="#76847f" stroke-width="1.0" stroke-dasharray="0.8 1.6"/>
<circle cx="421" cy="85.2" r="20.4" fill="#fff" stroke="#5f6e69" stroke-width="1.4"/>
<path d="M440.57,84.14 Q424.1,82.67 425.94,66.23" fill="none" stroke="#c4c4da" stroke-width="0.45" />
<path d="M436.55,97.14 Q421.05,85.14 406.4,72.13" fill="none" stroke="#c4c4da" stroke-width="0.45" />
<path d="M437.96,95.02 Q422.04,85.33 439.88,79.95" fill="none" stroke="#9c9cbe" stroke-width="0.45" />
<path d="M419.99,104.77 Q422.61,87.9 438.7,93.61" fill="none" stroke="#cacade" stroke-width="0.45" />
<path d="M414.36,66.76 Q417.27,83.48 402.65,92.1" fill="none" stroke="#9c9cbe" stroke-width="0.45" />
<path d="M438.99,77.42 Q420.93,84.7 401.59,82.44" fill="none" stroke="#a6a6c6" stroke-width="0.45" />
<path d="M436.8,73.61 Q420.89,85.02 403.73,94.48" fill="none" stroke="#c4c4da" stroke-width="0.45" />
<path d="M428.3,67.01 Q421.43,82.28 419.23,65.68" fill="none" stroke="#9c9cbe" stroke-width="0.45" />
<path d="M421.68,104.79 Q421.06,85.21 426.86,66.5" fill="none" stroke="#9c9cbe" stroke-width="0.45" />
<path d="M438.75,76.89 Q423.35,82.45 426.42,66.36" fill="none" stroke="#a6a6c6" stroke-width="0.45" />
<path d="M428.56,103.29 Q423.81,86.5 439.69,79.29" fill="none" stroke="#c4c4da" stroke-width="0.45" />
<path d="M430.07,67.83 Q420.92,85.11 402.83,92.55" fill="none" stroke="#c4c4da" stroke-width="0.45" />
<path d="M436.19,72.82 Q421.24,84.2 413.07,67.27" fill="none" stroke="#cacade" stroke-width="0.45" />
<path d="M430.22,67.91 Q419.51,82.13 401.7,81.8" fill="none" stroke="#a6a6c6" stroke-width="0.45" />
<path d="M439.38,78.4 Q421,85.2 429.97,67.77" fill="none" stroke="#b6b6d0" stroke-width="0.45" />
<path d="M401.82,81.16 Q420.82,85.55 435.4,98.5" fill="none" stroke="#a6a6c6" stroke-width="0.45" />
<path d="M409.55,101.11 Q421.17,85.71 439.7,91.07" fill="none" stroke="#9c9cbe" stroke-width="0.45" />
<path d="M409.89,69.05 Q417.54,83.37 401.4,85.13" fill="none" stroke="#9c9cbe" stroke-width="0.45" />
<path d="M420.95,104.8 Q421.02,85.21 437.66,74.87" fill="none" stroke="#b6b6d0" stroke-width="0.45" />
<path d="M419.24,65.68 Q418.89,82.94 401.65,82.06" fill="none" stroke="#b6b6d0" stroke-width="0.45" />
<path d="M421.47,65.61 Q420.92,85.19 417.02,104.39" fill="none" stroke="#c4c4da" stroke-width="0.45" />
<path d="M401.67,81.95 Q420.67,85.84 434.97,98.95" fill="none" stroke="#c4c4da" stroke-width="0.45" />
<path d="M422.11,65.63 Q420.39,84.17 403.25,76.89" fill="none" stroke="#a6a6c6" stroke-width="0.45" />
<path d="M436.35,73.01 Q420.92,85.08 403.1,93.2" fill="none" stroke="#a6a6c6" stroke-width="0.45" />
<path d="M433.13,100.6 Q425.26,87.36 440.59,85.88" fill="none" stroke="#a6a6c6" stroke-width="0.45" />
<path d="M409.23,100.87 Q420.63,86.02 417.28,104.44" fill="none" stroke="#9c9cbe" stroke-width="0.45" />
<path d="M418.26,65.79 Q419.42,81.8 407.97,70.56" fill="none" stroke="#9c9cbe" stroke-width="0.45" />
<path d="M425.41,66.1 Q420.73,85.06 408.15,100" fill="none" stroke="#cacade" stroke-width="0.45" />
<path d="M436.72,97.08 Q422.67,84.14 416.85,65.94" fill="none" stroke="#6a6a90" stroke-width="0.7" />
<path d="M407.1,71.24 Q419.76,86.08 429.62,102.91" fill="none" stroke="#6a6a90" stroke-width="0.7" />
<path d="M401.31,87.27 C412.31,86.67 417,89.7 409.36,101.22" fill="none" stroke="#c8163f" stroke-width="1.5"/>
<text x="7.2" y="20.4" font-size="11.6" text-anchor="start" font-weight="bold" font-style="normal" fill="#000" >A</text>
<rect x="461.8" y="62.6" width="6.6" height="6.4" fill="#c8143c" />
<text x="471.8" y="68.4" font-size="7.3" text-anchor="start" font-weight="normal" font-style="normal" fill="#222" >t(11;14)</text>
<g transform="translate(66.3,187.1) scale(1,0.94)">
<circle cx="0" cy="0" r="56.4" fill="none" stroke="#a4a8a8" stroke-width="1.2" stroke-dasharray="2.2 4.6 1.6 5.4"/>
<circle cx="0" cy="0" r="52.75" fill="none" stroke="#bcc0c0" stroke-width="1.7" stroke-dasharray="0.35 0.9"/>
<circle cx="0" cy="0" r="51.9" fill="none" stroke="#a6aaaa" stroke-width="0.45"/>
<circle cx="0" cy="0" r="53.6" fill="none" stroke="#a6aaaa" stroke-width="0.45"/>
<path d="M0,-50.9 A50.9,50.9 0 0 0 -28.46,-42.2 L-23.82,-35.32 A42.6,42.6 0 0 1 0,-42.6 Z" fill="#d43a6e" />
<path d="M-28.46,-42.2 A50.9,50.9 0 0 0 -50.4,7.08 L-42.19,5.93 A42.6,42.6 0 0 1 -23.82,-35.32 Z" fill="#f4b8ca" />
<path d="M-50.4,7.08 A50.9,50.9 0 0 0 -28.83,41.95 L-24.13,35.11 A42.6,42.6 0 0 1 -42.19,5.93 Z" fill="#fce3e9" />
<path d="M-28.57,-42.36 A51.1,51.1 0 0 0 -28.94,42.11" fill="none" stroke="#c41616" stroke-width="1.35" />
<circle cx="-28.94" cy="42.11" r="1.2" fill="#c41616"/>
<line x1="-16.48" y1="-40.8" x2="-18.21" y2="-45.06" stroke="#444" stroke-width="1.1" stroke-opacity="0.7" stroke-dasharray="0.8 0.3"/>
<line x1="-12.86" y1="-42.08" x2="-14.21" y2="-46.48" stroke="#444" stroke-width="1.1" stroke-opacity="0.7" stroke-dasharray="0.8 0.3"/>
<line x1="-40.5" y1="-17.19" x2="-44.74" y2="-18.99" stroke="#444" stroke-width="1.1" stroke-opacity="0.7" stroke-dasharray="0.8 0.3"/>
<line x1="-42.69" y1="-10.64" x2="-47.16" y2="-11.76" stroke="#444" stroke-width="1.1" stroke-opacity="0.7" stroke-dasharray="0.8 0.3"/>
<line x1="-43.89" y1="-3.07" x2="-48.48" y2="-3.39" stroke="#444" stroke-width="1.1" stroke-opacity="0.7" stroke-dasharray="0.8 0.3"/>
<line x1="-43.83" y1="3.83" x2="-48.42" y2="4.24" stroke="#444" stroke-width="1.1" stroke-opacity="0.7" stroke-dasharray="0.8 0.3"/>
<line x1="-42.87" y1="9.9" x2="-47.35" y2="10.93" stroke="#444" stroke-width="1.1" stroke-opacity="0.7" stroke-dasharray="0.8 0.3"/>
<line x1="-41.35" y1="15.05" x2="-45.67" y2="16.62" stroke="#444" stroke-width="1.1" stroke-opacity="0.7" stroke-dasharray="0.8 0.3"/>
<line x1="-39.2" y1="19.98" x2="-43.3" y2="22.06" stroke="#444" stroke-width="1.1" stroke-opacity="0.7" stroke-dasharray="0.8 0.3"/>
<line x1="-36.48" y1="24.6" x2="-40.29" y2="27.18" stroke="#444" stroke-width="1.1" stroke-opacity="0.7" stroke-dasharray="0.8 0.3"/>
<line x1="-33.21" y1="28.87" x2="-36.68" y2="31.88" stroke="#444" stroke-width="1.1" stroke-opacity="0.7" stroke-dasharray="0.8 0.3"/>
<line x1="-29.44" y1="32.7" x2="-32.52" y2="36.12" stroke="#444" stroke-width="1.1" stroke-opacity="0.7" stroke-dasharray="0.8 0.3"/>
<line x1="40.96" y1="-17.39" x2="44.64" y2="-18.95" stroke="#555" stroke-width="0.7"/>
<line x1="43.68" y1="-8.49" x2="47.61" y2="-9.25" stroke="#555" stroke-width="0.7"/>
<circle cx="0" cy="0" r="41.6" fill="none" stroke="#e4e6e6" stroke-width="2.0"/>
<circle cx="0" cy="0" r="41.6" fill="none" stroke="#b8bcbc" stroke-width="1.6" stroke-dasharray="0.35 0.9"/>
<circle cx="0" cy="0" r="42.5" fill="none" stroke="#a6aaaa" stroke-width="0.45"/>
<circle cx="0" cy="0" r="40.7" fill="none" stroke="#a6aaaa" stroke-width="0.45"/>
<circle cx="0" cy="0" r="37.6" fill="none" stroke="#b4b8b8" stroke-width="0.45"/>
<circle cx="0" cy="0" r="35.8" fill="none" stroke="#8e9292" stroke-width="0.45" stroke-dasharray="6 1.2 3 0.8"/>
<path d="M-6.88,-39 A39.6,39.6 0 0 0 -22.14,-32.83 L-20.58,-30.51 A36.8,36.8 0 0 1 -6.39,-36.24 Z" fill="#f8d400" />
<circle cx="-26.23" cy="-29.13" r="1.25" fill="#2a9a10"/>
<circle cx="-24.13" cy="-30.89" r="1.25" fill="#b8f060"/>
<circle cx="-22.76" cy="-31.91" r="1.25" fill="#f0a878"/>
<circle cx="-38.27" cy="-13.55" r="1.25" fill="#f0b040"/>
<circle cx="-37.87" cy="-11.58" r="1.25" fill="#111"/>
<circle cx="-40.25" cy="-5.3" r="1.25" fill="#f0b040"/>
<circle cx="-39.65" cy="-3.47" r="1.25" fill="#111"/>
<circle cx="-40.41" cy="3.89" r="1.25" fill="#f0b040"/>
<circle cx="-39.61" cy="5.57" r="1.25" fill="#5c8ef0"/>
<circle cx="-35.3" cy="21.63" r="1.25" fill="#f0b040"/>
<circle cx="-33.82" cy="22.82" r="1.25" fill="#111"/>
<circle cx="-32.84" cy="25.2" r="1.25" fill="#f0b040"/>
<circle cx="-31.25" cy="26.23" r="1.25" fill="#111"/>
<circle cx="-27.03" cy="31.09" r="1.25" fill="#f0b040"/>
<circle cx="-23.04" cy="34.16" r="1.25" fill="#88aaee"/>
<path d="M-12.31,-33.83 Q1.18,-1.69 36,0" fill="none" stroke="#f0e678" stroke-width="0.7" />
<path d="M-9.32,-34.77 Q1.5,-1.42 34.24,11.12" fill="none" stroke="#f0e678" stroke-width="0.7" />
<path d="M-15.21,-32.63 Q1.2,-1.1 31.18,18" fill="none" stroke="#f0e678" stroke-width="0.7" />
<path d="M-6.25,-35.45 Q1.83,-0.51 12.9,33.61" fill="none" stroke="#f0e678" stroke-width="0.7" />
<path d="M-18,-31.18 Q-2.42,1.03 9.92,34.61" fill="none" stroke="#f0e678" stroke-width="0.7" />
<path d="M-13.49,-33.38 Q-6.65,0.99 -3.14,35.86" fill="none" stroke="#f0e678" stroke-width="0.7" />
<path d="M-16.9,-31.79 Q-11.21,0.98 -11.12,34.24" fill="none" stroke="#f0e678" stroke-width="0.7" />
<path d="M-11.12,-34.24 Q1.79,-0.83 19.08,30.53" fill="none" stroke="#f0e678" stroke-width="0.7" />
<path d="M-34.61,-9.92 Q-2.01,2.44 16.34,32.08" fill="none" stroke="#555" stroke-width="0.7" />
<path d="M-35.7,-4.64 Q-3.95,3.12 -3.76,35.8" fill="none" stroke="#444" stroke-width="0.7" />
<path d="M-35.45,-6.25 Q-4.27,3.72 1.26,35.98" fill="none" stroke="#999" stroke-width="0.5" />
<path d="M6.87,-35.34 Q-4.29,-6.24 -35.45,-6.25" fill="none" stroke="#f0b8c8" stroke-width="0.7" />
<path d="M-35.76,4.14 Q0.03,1.82 35.86,3.14" fill="none" stroke="#bcd2f2" stroke-width="0.8" />
<path d="M-20.91,29.31 Q2.58,6.01 35.65,5.01" fill="none" stroke="#b0b0e8" stroke-width="0.7" />
</g>
<g transform="translate(195.4,187.1) scale(1,0.94)">
<circle cx="0" cy="0" r="56.4" fill="none" stroke="#a4a8a8" stroke-width="1.2" stroke-dasharray="2.2 4.6 1.6 5.4"/>
<circle cx="0" cy="0" r="52.75" fill="none" stroke="#bcc0c0" stroke-width="1.7" stroke-dasharray="0.35 0.9"/>
<circle cx="0" cy="0" r="51.9" fill="none" stroke="#a6aaaa" stroke-width="0.45"/>
<circle cx="0" cy="0" r="53.6" fill="none" stroke="#a6aaaa" stroke-width="0.45"/>
<path d="M0,-50.9 A50.9,50.9 0 0 0 -50.4,-7.08 L-42.19,-5.93 A42.6,42.6 0 0 1 0,-42.6 Z" fill="#c8204e" />
<path d="M-50.4,-7.08 A50.9,50.9 0 0 0 -25.45,44.08 L-21.3,36.89 A42.6,42.6 0 0 1 -42.19,-5.93 Z" fill="#f9d8df" />
<path d="M-27.83,-42.86 A51.1,51.1 0 0 0 -50.32,-8.87" fill="none" stroke="#111" stroke-width="1.35" />
<circle cx="-50.32" cy="-8.87" r="1.2" fill="#111"/>
<line x1="-16.48" y1="-40.8" x2="-18.21" y2="-45.06" stroke="#444" stroke-width="1.1" stroke-opacity="0.7" stroke-dasharray="0.8 0.3"/>
<line x1="-31.11" y1="-31.11" x2="-34.37" y2="-34.37" stroke="#444" stroke-width="1.1" stroke-opacity="0.7" stroke-dasharray="0.8 0.3"/>
<line x1="-37.31" y1="-23.32" x2="-41.22" y2="-25.75" stroke="#444" stroke-width="1.1" stroke-opacity="0.7" stroke-dasharray="0.8 0.3"/>
<line x1="-41.35" y1="-15.05" x2="-45.67" y2="-16.62" stroke="#444" stroke-width="1.1" stroke-opacity="0.7" stroke-dasharray="0.8 0.3"/>
<line x1="-43.89" y1="-3.07" x2="-48.48" y2="-3.39" stroke="#444" stroke-width="1.1" stroke-opacity="0.7" stroke-dasharray="0.8 0.3"/>
<line x1="-43.89" y1="3.07" x2="-48.48" y2="3.39" stroke="#444" stroke-width="1.1" stroke-opacity="0.7" stroke-dasharray="0.8 0.3"/>
<line x1="-42.87" y1="9.9" x2="-47.35" y2="10.93" stroke="#444" stroke-width="1.1" stroke-opacity="0.7" stroke-dasharray="0.8 0.3"/>
<line x1="-39.88" y1="18.6" x2="-44.05" y2="20.54" stroke="#444" stroke-width="1.1" stroke-opacity="0.7" stroke-dasharray="0.8 0.3"/>
<line x1="-36.04" y1="25.24" x2="-39.81" y2="27.88" stroke="#444" stroke-width="1.1" stroke-opacity="0.7" stroke-dasharray="0.8 0.3"/>
<line x1="-31.11" y1="31.11" x2="-34.37" y2="34.37" stroke="#444" stroke-width="1.1" stroke-opacity="0.7" stroke-dasharray="0.8 0.3"/>
<line x1="-26.48" y1="35.14" x2="-29.25" y2="38.81" stroke="#444" stroke-width="1.1" stroke-opacity="0.7" stroke-dasharray="0.8 0.3"/>
<line x1="40.96" y1="-17.39" x2="44.64" y2="-18.95" stroke="#555" stroke-width="0.7"/>
<line x1="43.68" y1="-8.49" x2="47.61" y2="-9.25" stroke="#555" stroke-width="0.7"/>
<circle cx="0" cy="0" r="41.6" fill="none" stroke="#e4e6e6" stroke-width="2.0"/>
<circle cx="0" cy="0" r="41.6" fill="none" stroke="#b8bcbc" stroke-width="1.6" stroke-dasharray="0.35 0.9"/>
<circle cx="0" cy="0" r="42.5" fill="none" stroke="#a6aaaa" stroke-width="0.45"/>
<circle cx="0" cy="0" r="40.7" fill="none" stroke="#a6aaaa" stroke-width="0.45"/>
<circle cx="0" cy="0" r="37.6" fill="none" stroke="#b4b8b8" stroke-width="0.45"/>
<circle cx="0" cy="0" r="35.8" fill="none" stroke="#8e9292" stroke-width="0.45" stroke-dasharray="6 1.2 3 0.8"/>
<path d="M-6.88,-39 A39.6,39.6 0 0 0 -22.14,-32.83 L-20.58,-30.51 A36.8,36.8 0 0 1 -6.39,-36.24 Z" fill="#f8d400" />
<circle cx="-26.23" cy="-29.13" r="1.25" fill="#2a9a10"/>
<circle cx="-24.13" cy="-30.89" r="1.25" fill="#b8f060"/>
<circle cx="-22.76" cy="-31.91" r="1.25" fill="#f0a878"/>
<circle cx="-38.27" cy="-13.55" r="1.25" fill="#f0b040"/>
<circle cx="-37.87" cy="-11.58" r="1.25" fill="#111"/>
<circle cx="-40.25" cy="-5.3" r="1.25" fill="#f0b040"/>
<circle cx="-39.65" cy="-3.47" r="1.25" fill="#111"/>
<circle cx="-40.41" cy="3.89" r="1.25" fill="#f0b040"/>
<circle cx="-39.61" cy="5.57" r="1.25" fill="#5c8ef0"/>
<circle cx="-35.3" cy="21.63" r="1.25" fill="#f0b040"/>
<circle cx="-33.82" cy="22.82" r="1.25" fill="#111"/>
<circle cx="-32.84" cy="25.2" r="1.25" fill="#f0b040"/>
<circle cx="-31.25" cy="26.23" r="1.25" fill="#111"/>
<circle cx="-27.03" cy="31.09" r="1.25" fill="#f0b040"/>
<circle cx="-23.04" cy="34.16" r="1.25" fill="#88aaee"/>
<path d="M-12.31,-33.83 Q1.36,-2.54 34.96,-8.59" fill="none" stroke="#f0e678" stroke-width="0.7" />
<path d="M-9.92,-34.61 Q1.54,-1.72 35.51,5.94" fill="none" stroke="#f0e678" stroke-width="0.7" />
<path d="M-14.64,-32.89 Q1.39,-1.43 33.24,13.83" fill="none" stroke="#f0e678" stroke-width="0.7" />
<path d="M-8.1,-35.08 Q1.67,-2.03 35.98,1.26" fill="none" stroke="#f0e678" stroke-width="0.7" />
<path d="M-16.9,-31.79 Q1.14,-2.1 35.86,-3.14" fill="none" stroke="#f0e678" stroke-width="0.7" />
<path d="M-20.13,-29.85 Q-1.81,0.94 12.9,33.61" fill="none" stroke="#a8e050" stroke-width="0.9" />
<path d="M-21.16,-29.12 Q-9.38,2.25 -5.63,35.56" fill="none" stroke="#c8f080" stroke-width="0.7" />
<path d="M-35.65,-5.01 Q-0.18,0.76 34.24,11.12" fill="none" stroke="#444" stroke-width="0.6" />
<path d="M-35.56,-5.63 Q-0.47,1.41 31.79,16.9" fill="none" stroke="#555" stroke-width="0.6" />
<path d="M-35.65,-5.01 Q-1.22,2.5 25.9,25.01" fill="none" stroke="#333" stroke-width="0.7" />
<path d="M-35.45,-6.25 Q-2.05,3.03 19.08,30.53" fill="none" stroke="#555" stroke-width="0.6" />
<path d="M-35.65,-5.01 Q-3.44,3.76 8.1,35.08" fill="none" stroke="#444" stroke-width="0.6" />
<path d="M-35.56,-5.63 Q-4.52,3.8 -0.63,35.99" fill="none" stroke="#666" stroke-width="0.6" />
<path d="M-35.73,-4.39 Q-5.63,3.8 -9.32,34.77" fill="none" stroke="#555" stroke-width="0.6" />
<path d="M3.76,-35.8 Q-3.19,-4.08 -35.65,-5.01" fill="none" stroke="#555" stroke-width="0.6" />
<path d="M-35.8,3.76 Q-0.22,-1.3 35.08,-8.1" fill="none" stroke="#b8d0f0" stroke-width="0.7" />
<path d="M-35.65,5.01 Q0.06,2.44 35.86,3.14" fill="none" stroke="#c0d8f0" stroke-width="0.6" />
<path d="M-35.45,6.25 Q-1.07,6.06 31.18,18" fill="none" stroke="#e0b0c0" stroke-width="0.6" />
<path d="M-35.86,3.14 Q-1.66,5.26 27.58,23.14" fill="none" stroke="#a0c0e0" stroke-width="0.5" />
<path d="M-35.21,-7.48 Q-1.81,3.01 23.14,27.58" fill="none" stroke="#c8a8b8" stroke-width="0.5" />
</g>
<g transform="translate(323.8,187.1) scale(1,0.94)">
<circle cx="0" cy="0" r="56.4" fill="none" stroke="#a4a8a8" stroke-width="1.2" stroke-dasharray="2.2 4.6 1.6 5.4"/>
<circle cx="0" cy="0" r="52.75" fill="none" stroke="#bcc0c0" stroke-width="1.7" stroke-dasharray="0.35 0.9"/>
<circle cx="0" cy="0" r="51.9" fill="none" stroke="#a6aaaa" stroke-width="0.45"/>
<circle cx="0" cy="0" r="53.6" fill="none" stroke="#a6aaaa" stroke-width="0.45"/>
<path d="M0,-50.9 A50.9,50.9 0 0 0 -50.78,3.55 L-42.5,2.97 A42.6,42.6 0 0 1 0,-42.6 Z" fill="#c8204e" />
<path d="M-50.78,3.55 A50.9,50.9 0 0 0 -26.6,43.4 L-22.26,36.32 A42.6,42.6 0 0 1 -42.5,2.97 Z" fill="#fdedf0" />
<path d="M-30.04,-41.34 A51.1,51.1 0 0 0 -50.98,3.56" fill="none" stroke="#111" stroke-width="1.35" />
<circle cx="-50.98" cy="3.56" r="1.2" fill="#111"/>
<line x1="-38.11" y1="-22" x2="-42.09" y2="-24.3" stroke="#444" stroke-width="1.1" stroke-opacity="0.7" stroke-dasharray="0.8 0.3"/>
<line x1="-41.35" y1="-15.05" x2="-45.67" y2="-16.62" stroke="#444" stroke-width="1.1" stroke-opacity="0.7" stroke-dasharray="0.8 0.3"/>
<line x1="-43.57" y1="-6.12" x2="-48.13" y2="-6.76" stroke="#444" stroke-width="1.1" stroke-opacity="0.7" stroke-dasharray="0.8 0.3"/>
<line x1="-41.35" y1="15.05" x2="-45.67" y2="16.62" stroke="#444" stroke-width="1.1" stroke-opacity="0.7" stroke-dasharray="0.8 0.3"/>
<line x1="-37.31" y1="23.32" x2="-41.22" y2="25.75" stroke="#444" stroke-width="1.1" stroke-opacity="0.7" stroke-dasharray="0.8 0.3"/>
<line x1="-32.7" y1="29.44" x2="-36.12" y2="32.52" stroke="#444" stroke-width="1.1" stroke-opacity="0.7" stroke-dasharray="0.8 0.3"/>
<line x1="-27.09" y1="34.67" x2="-29.92" y2="38.3" stroke="#444" stroke-width="1.1" stroke-opacity="0.7" stroke-dasharray="0.8 0.3"/>
<line x1="40.96" y1="-17.39" x2="44.64" y2="-18.95" stroke="#555" stroke-width="0.7"/>
<line x1="43.68" y1="-8.49" x2="47.61" y2="-9.25" stroke="#555" stroke-width="0.7"/>
<circle cx="0" cy="0" r="41.6" fill="none" stroke="#e4e6e6" stroke-width="2.0"/>
<circle cx="0" cy="0" r="41.6" fill="none" stroke="#b8bcbc" stroke-width="1.6" stroke-dasharray="0.35 0.9"/>
<circle cx="0" cy="0" r="42.5" fill="none" stroke="#a6aaaa" stroke-width="0.45"/>
<circle cx="0" cy="0" r="40.7" fill="none" stroke="#a6aaaa" stroke-width="0.45"/>
<circle cx="0" cy="0" r="37.6" fill="none" stroke="#b4b8b8" stroke-width="0.45"/>
<circle cx="0" cy="0" r="35.8" fill="none" stroke="#8e9292" stroke-width="0.45" stroke-dasharray="6 1.2 3 0.8"/>
<path d="M-6.88,-39 A39.6,39.6 0 0 0 -22.14,-32.83 L-20.58,-30.51 A36.8,36.8 0 0 1 -6.39,-36.24 Z" fill="#f8d400" />
<circle cx="-26.23" cy="-29.13" r="1.25" fill="#2a9a10"/>
<circle cx="-24.13" cy="-30.89" r="1.25" fill="#b8f060"/>
<circle cx="-22.76" cy="-31.91" r="1.25" fill="#f0a878"/>
<circle cx="-38.27" cy="-13.55" r="1.25" fill="#f0b040"/>
<circle cx="-37.87" cy="-11.58" r="1.25" fill="#111"/>
<circle cx="-40.25" cy="-5.3" r="1.25" fill="#f0b040"/>
<circle cx="-39.65" cy="-3.47" r="1.25" fill="#111"/>
<circle cx="-40.41" cy="3.89" r="1.25" fill="#f0b040"/>
<circle cx="-39.61" cy="5.57" r="1.25" fill="#5c8ef0"/>
<circle cx="-35.3" cy="21.63" r="1.25" fill="#f0b040"/>
<circle cx="-33.82" cy="22.82" r="1.25" fill="#111"/>
<circle cx="-32.84" cy="25.2" r="1.25" fill="#f0b040"/>
<circle cx="-31.25" cy="26.23" r="1.25" fill="#111"/>
<circle cx="-27.03" cy="31.09" r="1.25" fill="#f0b040"/>
<circle cx="-23.04" cy="34.16" r="1.25" fill="#88aaee"/>
<path d="M-20.13,-29.85 Q1.04,-3.12 34.04,-11.72" fill="none" stroke="#d8ec80" stroke-width="0.7" />
<path d="M-7.85,-35.13 Q2.1,-2.88 35.85,-3.33" fill="none" stroke="#f0e678" stroke-width="0.7" />
<path d="M-35.8,3.76 Q-0.8,-2.99 32.89,-14.64" fill="none" stroke="#a8c4ec" stroke-width="0.7" />
<path d="M-35.86,3.14 Q-3.9,3.9 -3.14,35.86" fill="none" stroke="#a8c4ec" stroke-width="0.7" />
<path d="M-29.99,19.92 Q-2.23,2.64 -14.64,32.89" fill="none" stroke="#666" stroke-width="0.7" />
</g>
<g transform="translate(452.9,187.1) scale(1,0.94)">
<circle cx="0" cy="0" r="56.4" fill="none" stroke="#a4a8a8" stroke-width="1.2" stroke-dasharray="2.2 4.6 1.6 5.4"/>
<circle cx="0" cy="0" r="52.75" fill="none" stroke="#bcc0c0" stroke-width="1.7" stroke-dasharray="0.35 0.9"/>
<circle cx="0" cy="0" r="51.9" fill="none" stroke="#a6aaaa" stroke-width="0.45"/>
<circle cx="0" cy="0" r="53.6" fill="none" stroke="#a6aaaa" stroke-width="0.45"/>
<path d="M0,-50.9 A50.9,50.9 0 0 0 -4.44,-50.71 L-3.71,-42.44 A42.6,42.6 0 0 1 0,-42.6 Z" fill="#eea4bb" />
<path d="M-4.44,-50.71 A50.9,50.9 0 0 0 -9.71,-49.96 L-8.13,-41.82 A42.6,42.6 0 0 1 -3.71,-42.44 Z" fill="#e68aa8" />
<path d="M-9.71,-49.96 A50.9,50.9 0 0 0 -14.88,-48.68 L-12.46,-40.74 A42.6,42.6 0 0 1 -8.13,-41.82 Z" fill="#df6f94" />
<path d="M-14.88,-48.68 A50.9,50.9 0 0 0 -19.89,-46.85 L-16.65,-39.21 A42.6,42.6 0 0 1 -12.46,-40.74 Z" fill="#d65683" />
<path d="M-19.89,-46.85 A50.9,50.9 0 0 0 -27.72,-42.69 L-23.2,-35.73 A42.6,42.6 0 0 1 -16.65,-39.21 Z" fill="#cd3e70" />
<path d="M-27.72,-42.69 A50.9,50.9 0 0 0 -25.06,44.3 L-20.98,37.08 A42.6,42.6 0 0 1 -23.2,-35.73 Z" fill="#f7c0d0" />
<path d="M-27.83,-42.86 A51.1,51.1 0 0 0 -25.16,44.48" fill="none" stroke="#c41616" stroke-width="1.35" />
<circle cx="-25.16" cy="44.48" r="1.2" fill="#c41616"/>
<line x1="-18.6" y1="-39.88" x2="-20.54" y2="-44.05" stroke="#444" stroke-width="1.1" stroke-opacity="0.7" stroke-dasharray="0.8 0.3"/>
<line x1="-41.08" y1="-15.77" x2="-45.37" y2="-17.42" stroke="#444" stroke-width="1.1" stroke-opacity="0.7" stroke-dasharray="0.8 0.3"/>
<line x1="-43.97" y1="-1.54" x2="-48.57" y2="-1.7" stroke="#444" stroke-width="1.1" stroke-opacity="0.7" stroke-dasharray="0.8 0.3"/>
<line x1="-43.57" y1="6.12" x2="-48.13" y2="6.76" stroke="#444" stroke-width="1.1" stroke-opacity="0.7" stroke-dasharray="0.8 0.3"/>
<line x1="-42.08" y1="12.86" x2="-46.48" y2="14.21" stroke="#444" stroke-width="1.1" stroke-opacity="0.7" stroke-dasharray="0.8 0.3"/>
<line x1="-39.2" y1="19.98" x2="-43.3" y2="22.06" stroke="#444" stroke-width="1.1" stroke-opacity="0.7" stroke-dasharray="0.8 0.3"/>
<line x1="-36.48" y1="24.6" x2="-40.29" y2="27.18" stroke="#444" stroke-width="1.1" stroke-opacity="0.7" stroke-dasharray="0.8 0.3"/>
<line x1="-33.71" y1="28.28" x2="-37.23" y2="31.24" stroke="#444" stroke-width="1.1" stroke-opacity="0.7" stroke-dasharray="0.8 0.3"/>
<line x1="-30.01" y1="32.18" x2="-33.15" y2="35.54" stroke="#444" stroke-width="1.1" stroke-opacity="0.7" stroke-dasharray="0.8 0.3"/>
<line x1="-24.6" y1="36.48" x2="-27.18" y2="40.29" stroke="#444" stroke-width="1.1" stroke-opacity="0.7" stroke-dasharray="0.8 0.3"/>
<line x1="40.96" y1="-17.39" x2="44.64" y2="-18.95" stroke="#555" stroke-width="0.7"/>
<line x1="43.68" y1="-8.49" x2="47.61" y2="-9.25" stroke="#555" stroke-width="0.7"/>
<circle cx="0" cy="0" r="41.6" fill="none" stroke="#e4e6e6" stroke-width="2.0"/>
<circle cx="0" cy="0" r="41.6" fill="none" stroke="#b8bcbc" stroke-width="1.6" stroke-dasharray="0.35 0.9"/>
<circle cx="0" cy="0" r="42.5" fill="none" stroke="#a6aaaa" stroke-width="0.45"/>
<circle cx="0" cy="0" r="40.7" fill="none" stroke="#a6aaaa" stroke-width="0.45"/>
<circle cx="0" cy="0" r="37.6" fill="none" stroke="#b4b8b8" stroke-width="0.45"/>
<circle cx="0" cy="0" r="35.8" fill="none" stroke="#8e9292" stroke-width="0.45" stroke-dasharray="6 1.2 3 0.8"/>
<path d="M-6.88,-39 A39.6,39.6 0 0 0 -22.14,-32.83 L-20.58,-30.51 A36.8,36.8 0 0 1 -6.39,-36.24 Z" fill="#f8d400" />
<circle cx="-26.23" cy="-29.13" r="1.25" fill="#2a9a10"/>
<circle cx="-24.13" cy="-30.89" r="1.25" fill="#b8f060"/>
<circle cx="-22.76" cy="-31.91" r="1.25" fill="#f0a878"/>
<circle cx="-38.27" cy="-13.55" r="1.25" fill="#f0b040"/>
<circle cx="-37.87" cy="-11.58" r="1.25" fill="#111"/>
<circle cx="-40.25" cy="-5.3" r="1.25" fill="#f0b040"/>
<circle cx="-39.65" cy="-3.47" r="1.25" fill="#111"/>
<circle cx="-40.41" cy="3.89" r="1.25" fill="#f0b040"/>
<circle cx="-39.61" cy="5.57" r="1.25" fill="#5c8ef0"/>
<circle cx="-35.3" cy="21.63" r="1.25" fill="#f0b040"/>
<circle cx="-33.82" cy="22.82" r="1.25" fill="#111"/>
<circle cx="-32.84" cy="25.2" r="1.25" fill="#f0b040"/>
<circle cx="-31.25" cy="26.23" r="1.25" fill="#111"/>
<circle cx="-27.03" cy="31.09" r="1.25" fill="#f0b040"/>
<circle cx="-23.04" cy="34.16" r="1.25" fill="#88aaee"/>
</g>
<text x="0" y="0" font-size="4.6" fill="#333" transform="translate(11.1,177.5) rotate(-72)">chr14</text>
<text x="0" y="0" font-size="4.6" fill="#333" transform="translate(122.5,197.5) rotate(75)">chr11</text>
<text x="0" y="0" font-size="4.6" fill="#333" transform="translate(140.2,177.5) rotate(-72)">chr14</text>
<text x="0" y="0" font-size="4.6" fill="#333" transform="translate(251.6,197.5) rotate(75)">chr11</text>
<text x="0" y="0" font-size="4.6" fill="#333" transform="translate(268.6,177.5) rotate(-72)">chr14</text>
<text x="0" y="0" font-size="4.6" fill="#333" transform="translate(380,197.5) rotate(75)">chr11</text>
<text x="0" y="0" font-size="4.6" fill="#333" transform="translate(397.7,177.5) rotate(-72)">chr14</text>
<text x="0" y="0" font-size="4.6" fill="#333" transform="translate(509.1,197.5) rotate(75)">chr11</text>
<text x="7.3" y="138.7" font-size="11.8" text-anchor="start" font-weight="bold" font-style="normal" fill="#000" >B</text>
<text x="136.2" y="138.7" font-size="11.8" text-anchor="start" font-weight="bold" font-style="normal" fill="#000" >C</text>
<text x="265.4" y="138.7" font-size="11.8" text-anchor="start" font-weight="bold" font-style="normal" fill="#000" >D</text>
<text x="392.4" y="138.7" font-size="11.8" text-anchor="start" font-weight="bold" font-style="normal" fill="#000" >E</text>
<text x="66.3" y="256.6" font-size="9.6" text-anchor="middle" font-weight="normal" font-style="normal" fill="#111" >IgM (n = 15)</text>
<text x="195.4" y="256.6" font-size="9.6" text-anchor="middle" font-weight="normal" font-style="normal" fill="#111" >IgG (n = 20)</text>
<text x="323.8" y="256.6" font-size="9.6" text-anchor="middle" font-weight="normal" font-style="normal" fill="#111" >IgA (n = 4)</text>
<text x="452.9" y="256.6" font-size="9.6" text-anchor="middle" font-weight="normal" font-style="normal" fill="#111" >WM (n = 55)</text>
<text x="102.5" y="265.6" font-size="7.8" text-anchor="start" font-weight="normal" font-style="normal" fill="#222" >Genes</text>
<rect x="107.3" y="270.2" width="7.4" height="7" fill="#f8c800" />
<text x="117.2" y="275.6" font-size="6.3" text-anchor="start" font-weight="normal" font-style="normal" fill="#222" >D genes</text>
<rect x="107.3" y="277.52" width="7.4" height="7" fill="#c0143c" />
<text x="117.2" y="282.92" font-size="6.3" text-anchor="start" font-weight="normal" font-style="normal" fill="#222" >J genes</text>
<rect x="107.3" y="284.84" width="7.4" height="7" fill="#d2a264" />
<text x="117.2" y="290.24" font-size="6.3" text-anchor="start" font-weight="normal" font-style="normal" fill="#222" >Switch region</text>
<rect x="107.3" y="292.16" width="7.4" height="7" fill="#9aee30" />
<text x="117.2" y="297.56" font-size="6.3" text-anchor="start" font-weight="normal" font-style="normal" fill="#222" >IGHM</text>
<rect x="107.3" y="299.48" width="7.4" height="7" fill="#2e7a12" />
<text x="117.2" y="304.88" font-size="6.3" text-anchor="start" font-weight="normal" font-style="normal" fill="#222" >IGHD</text>
<rect x="107.3" y="306.8" width="7.4" height="7" fill="#050505" />
<text x="117.2" y="312.2" font-size="6.3" text-anchor="start" font-weight="normal" font-style="normal" fill="#222" >IGHG</text>
<rect x="107.3" y="314.12" width="7.4" height="7" fill="#4a80ee" />
<text x="117.2" y="319.52" font-size="6.3" text-anchor="start" font-weight="normal" font-style="normal" fill="#222" >IGHA</text>
<rect x="107.3" y="321.44" width="7.4" height="7" fill="#b2bfbd" />
<text x="117.2" y="326.84" font-size="6.3" text-anchor="start" font-weight="normal" font-style="normal" fill="#222" >IGHE</text>
<text x="157.4" y="280.2" font-size="7.8" text-anchor="start" font-weight="normal" font-style="normal" fill="#222" >Translocations</text>
<rect x="161.1" y="285.2" width="7.4" height="7" fill="#f8c800" />
<text x="170.8" y="290.6" font-size="6.3" text-anchor="start" font-weight="normal" font-style="normal" fill="#222" >DJ</text>
<rect x="161.1" y="292.52" width="7.4" height="7" fill="#9aee30" />
<text x="170.8" y="297.92" font-size="6.3" text-anchor="start" font-weight="normal" font-style="normal" fill="#222" >IGHM</text>
<rect x="161.1" y="299.84" width="7.4" height="7" fill="#050505" />
<text x="170.8" y="305.24" font-size="6.3" text-anchor="start" font-weight="normal" font-style="normal" fill="#222" >IGHG</text>
<rect x="161.1" y="307.16" width="7.4" height="7" fill="#4a80ee" />
<text x="170.8" y="312.56" font-size="6.3" text-anchor="start" font-weight="normal" font-style="normal" fill="#222" >IGHA</text>
<rect x="161.1" y="314.48" width="7.4" height="7" fill="#b2bfbd" />
<text x="170.8" y="319.88" font-size="6.3" text-anchor="start" font-weight="normal" font-style="normal" fill="#222" >IGHE</text>
<rect x="161.1" y="321.8" width="7.4" height="7" fill="#c0143c" />
<text x="170.8" y="327.2" font-size="6.3" text-anchor="start" font-weight="normal" font-style="normal" fill="#222" >Other</text>
<text x="239.6" y="285.8" font-size="8.3" text-anchor="start" font-weight="normal" font-style="normal" fill="#222" >Deletion freq</text>
<defs><linearGradient id="delg" x1="0" y1="0" x2="0" y2="1"><stop offset="0" stop-color="#b5103f"/><stop offset="0.2" stop-color="#c52a5a"/><stop offset="0.55" stop-color="#f0b4c6"/><stop offset="1" stop-color="#fffafa"/></linearGradient></defs>
<rect x="249.6" y="290.6" width="8.8" height="37.4" fill="url(#delg)" stroke="#3a4ee0" stroke-width="0.8"/>
<text x="262.2" y="294.6" font-size="5.6" text-anchor="start" font-weight="normal" font-style="normal" fill="#222" >100%</text>
<text x="262.2" y="313.6" font-size="5.6" text-anchor="start" font-weight="normal" font-style="normal" fill="#222" >50%</text>
<text x="262.2" y="327.8" font-size="5.6" text-anchor="start" font-weight="normal" font-style="normal" fill="#222" >0%</text>
<rect x="61.3" y="348.7" width="13.2" height="31.4" fill="#fdf3f1" />
<rect x="89.3" y="348.7" width="11.4" height="31.4" fill="#fdf3f1" />
<rect x="112" y="348.7" width="10.4" height="31.4" fill="#fdf3f1" />
<rect x="132.5" y="348.7" width="9.5" height="31.4" fill="#fdf3f1" />
<rect x="150.2" y="348.7" width="8" height="31.4" fill="#fdf3f1" />
<rect x="165.8" y="348.7" width="8.4" height="31.4" fill="#fdf3f1" />
<rect x="181.4" y="348.7" width="6.5" height="31.4" fill="#fdf3f1" />
<rect x="192.3" y="348.7" width="5.8" height="31.4" fill="#fdf3f1" />
<rect x="201.8" y="348.7" width="5.6" height="31.4" fill="#fdf3f1" />
<rect x="211.2" y="348.7" width="4" height="31.4" fill="#fdf3f1" />
<rect x="218" y="348.7" width="3.6" height="31.4" fill="#fdf3f1" />
<line x1="61.3" y1="364.5" x2="223.6" y2="364.5" stroke="#f4b8c8" stroke-width="0.6"/>
<path d="M61.3,364.5 L61.3,365.12 L67.24,365.12 L67.24,364.5 Z" fill="#d2184c"/>
<path d="M63.28,364.5 L63.28,365.74 L64.6,365.74 L64.6,364.5 Z" fill="#d2184c"/>
<path d="M67.24,364.5 L67.24,359.38 L74.5,359.38 L74.5,364.5 Z" fill="#8ee42a"/>
<path d="M74.5,364.5 L74.5,364.04 L89.3,364.04 L89.3,364.5 Z" fill="#8ee42a"/>
<path d="M89.3,364.5 L89.3,365.58 L92.72,365.58 L92.72,364.5 Z" fill="#d2184c"/>
<path d="M92.72,364.5 L92.72,362.95 L100.7,362.33 L100.7,364.5 Z" fill="#8ee42a"/>
<path d="M100.7,364.5 L100.7,363.73 L112,363.73 L112,364.5 Z" fill="#8ee42a"/>
<path d="M112,364.5 L112,364.19 L122.4,364.19 L122.4,364.5 Z" fill="#8ee42a"/>
<path d="M122.4,364.5 L122.4,362.02 L124.42,363.73 L124.42,364.5 Z" fill="#8ee42a"/>
<path d="M127.45,364.5 L127.45,366.36 L131.49,366.36 L131.49,364.5 Z" fill="#d2184c"/>
<path d="M132.5,364.5 L132.5,363.88 L142,363.88 L142,364.5 Z" fill="#8ee42a"/>
<path d="M142,364.5 L142,365.27 L143.23,365.27 L143.23,364.5 Z" fill="#d2184c"/>
<path d="M143.23,364.5 L143.23,363.88 L150.2,363.88 L150.2,364.5 Z" fill="#8ee42a"/>
<path d="M150.2,364.5 L150.2,363.26 L158.2,362.95 L158.2,364.5 Z" fill="#8ee42a"/>
<path d="M158.2,364.5 L158.2,364.04 L165.8,364.04 L165.8,364.5 Z" fill="#8ee42a"/>
<path d="M165.8,364.5 L165.8,363.88 L169.16,363.88 L169.16,364.5 Z" fill="#8ee42a"/>
<path d="M169.16,364.5 L169.16,358.61 L173.36,359.38 L173.36,364.5 Z" fill="#8ee42a"/>
<path d="M173.36,364.5 L173.36,365.27 L174.2,365.27 L174.2,364.5 Z" fill="#d2184c"/>
<path d="M174.2,364.5 L174.2,365.27 L181.4,365.27 L181.4,364.5 Z" fill="#d2184c"/>
<path d="M181.72,364.5 L181.72,371.63 L187.58,371.63 L187.58,364.5 Z" fill="#d2184c"/>
<path d="M187.9,364.5 L187.9,366.36 L192.3,366.36 L192.3,364.5 Z" fill="#d2184c"/>
<path d="M192.3,364.5 L192.3,361.87 L198.1,361.87 L198.1,364.5 Z" fill="#8ee42a"/>
<path d="M198.84,364.5 L198.84,368.22 L201.8,368.22 L201.8,364.5 Z" fill="#d2184c"/>
<path d="M201.8,364.5 L201.8,363.57 L207.4,363.57 L207.4,364.5 Z" fill="#8ee42a"/>
<path d="M207.4,364.5 L207.4,363.73 L211.2,363.73 L211.2,364.5 Z" fill="#8ee42a"/>
<path d="M211.2,364.5 L211.2,363.88 L215.2,363.88 L215.2,364.5 Z" fill="#8ee42a"/>
<path d="M215.2,364.5 L215.2,362.95 L218,362.95 L218,364.5 Z" fill="#8ee42a"/>
<path d="M218,364.5 L218,365.43 L221.6,365.43 L221.6,364.5 Z" fill="#d2184c"/>
<path d="M221.6,364.5 L221.6,365.27 L223.6,365.27 L223.6,364.5 Z" fill="#d2184c"/>
<line x1="59.5" y1="348.9" x2="59.5" y2="380.1" stroke="#222" stroke-width="0.6"/>
<line x1="58" y1="348.9" x2="59.5" y2="348.9" stroke="#222" stroke-width="0.6"/>
<text x="56.6" y="350.75" font-size="5.2" text-anchor="end" font-weight="normal" font-style="normal" fill="#111" >1.0</text>
<line x1="58" y1="356.7" x2="59.5" y2="356.7" stroke="#222" stroke-width="0.6"/>
<text x="56.6" y="358.55" font-size="5.2" text-anchor="end" font-weight="normal" font-style="normal" fill="#111" >0.5</text>
<line x1="58" y1="364.5" x2="59.5" y2="364.5" stroke="#222" stroke-width="0.6"/>
<text x="56.6" y="366.35" font-size="5.2" text-anchor="end" font-weight="normal" font-style="normal" fill="#111" >0.0</text>
<line x1="58" y1="372.3" x2="59.5" y2="372.3" stroke="#222" stroke-width="0.6"/>
<text x="56.6" y="374.15" font-size="5.2" text-anchor="end" font-weight="normal" font-style="normal" fill="#111" >−0.5</text>
<line x1="58" y1="380.1" x2="59.5" y2="380.1" stroke="#222" stroke-width="0.6"/>
<text x="56.6" y="381.95" font-size="5.2" text-anchor="end" font-weight="normal" font-style="normal" fill="#111" >−1.0</text>
<rect x="282.5" y="348.5" width="13.33" height="31.4" fill="#fdf3f1" />
<rect x="310.78" y="348.5" width="11.51" height="31.4" fill="#fdf3f1" />
<rect x="333.7" y="348.5" width="10.5" height="31.4" fill="#fdf3f1" />
<rect x="354.4" y="348.5" width="9.59" height="31.4" fill="#fdf3f1" />
<rect x="372.28" y="348.5" width="8.08" height="31.4" fill="#fdf3f1" />
<rect x="388.03" y="348.5" width="8.48" height="31.4" fill="#fdf3f1" />
<rect x="403.79" y="348.5" width="6.56" height="31.4" fill="#fdf3f1" />
<rect x="414.8" y="348.5" width="5.86" height="31.4" fill="#fdf3f1" />
<rect x="424.39" y="348.5" width="5.66" height="31.4" fill="#fdf3f1" />
<rect x="433.88" y="348.5" width="4.04" height="31.4" fill="#fdf3f1" />
<rect x="440.75" y="348.5" width="3.64" height="31.4" fill="#fdf3f1" />
<line x1="282.5" y1="364.3" x2="446.41" y2="364.3" stroke="#f4b8c8" stroke-width="0.6"/>
<path d="M282.5,364.3 L282.5,365.54 L287.83,368.18 L287.83,364.3 Z" fill="#d2184c"/>
<path d="M287.83,364.3 L287.83,357.48 L295.83,357.48 L295.83,364.3 Z" fill="#8ee42a"/>
<path d="M295.83,364.3 L295.83,363.37 L310.78,363.68 L310.78,364.3 Z" fill="#8ee42a"/>
<path d="M310.78,364.3 L310.78,355 L322.29,354.38 L322.29,364.3 Z" fill="#8ee42a"/>
<path d="M322.29,364.3 L322.29,365.07 L323.43,365.07 L323.43,364.3 Z" fill="#d2184c"/>
<path d="M323.43,364.3 L323.43,363.53 L333.7,363.53 L333.7,364.3 Z" fill="#8ee42a"/>
<path d="M333.7,364.3 L333.7,354.38 L344.2,355 L344.2,364.3 Z" fill="#8ee42a"/>
<path d="M344.2,364.3 L344.2,360.89 L348.79,362.44 L348.79,364.3 Z" fill="#8ee42a"/>
<path d="M349.3,364.3 L349.3,367.4 L354.4,367.4 L354.4,364.3 Z" fill="#d2184c"/>
<path d="M354.4,364.3 L354.4,357.32 L364,356.86 L364,364.3 Z" fill="#8ee42a"/>
<path d="M364,364.3 L364,368.18 L365.24,368.18 L365.24,364.3 Z" fill="#d2184c"/>
<path d="M365.24,364.3 L365.24,363.37 L372.28,362.75 L372.28,364.3 Z" fill="#8ee42a"/>
<path d="M372.28,364.3 L372.28,353.45 L380.36,353.14 L380.36,364.3 Z" fill="#8ee42a"/>
<path d="M380.36,364.3 L380.36,363.68 L388.03,363.68 L388.03,364.3 Z" fill="#8ee42a"/>
<path d="M388.03,364.3 L388.03,355.31 L396.52,354.69 L396.52,364.3 Z" fill="#8ee42a"/>
<path d="M396.52,364.3 L396.52,365.07 L403.79,365.07 L403.79,364.3 Z" fill="#d2184c"/>
<path d="M403.79,364.3 L403.79,370.19 L410.35,370.81 L410.35,364.3 Z" fill="#d2184c"/>
<path d="M410.35,364.3 L410.35,366.62 L414.8,366.62 L414.8,364.3 Z" fill="#d2184c"/>
<path d="M413.91,364.3 L413.91,368.95 L414.35,368.95 L414.35,364.3 Z" fill="#d2184c"/>
<path d="M414.8,364.3 L414.8,354.07 L420.65,354.07 L420.65,364.3 Z" fill="#8ee42a"/>
<path d="M421.4,364.3 L421.4,367.71 L423.64,367.71 L423.64,364.3 Z" fill="#d2184c"/>
<path d="M424.39,364.3 L424.39,363.53 L430.05,362.44 L430.05,364.3 Z" fill="#8ee42a"/>
<path d="M430.05,364.3 L430.05,363.06 L433.88,362.75 L433.88,364.3 Z" fill="#8ee42a"/>
<path d="M433.88,364.3 L433.88,352.21 L437.92,355 L437.92,364.3 Z" fill="#8ee42a"/>
<path d="M437.92,364.3 L437.92,363.68 L440.75,363.68 L440.75,364.3 Z" fill="#8ee42a"/>
<path d="M440.75,364.3 L440.75,358.88 L443.3,358.88 L443.3,364.3 Z" fill="#8ee42a"/>
<path d="M444.39,364.3 L444.39,365.85 L446.41,365.85 L446.41,364.3 Z" fill="#d2184c"/>
<line x1="279.9" y1="348.7" x2="279.9" y2="379.9" stroke="#222" stroke-width="0.6"/>
<line x1="278.4" y1="348.7" x2="279.9" y2="348.7" stroke="#222" stroke-width="0.6"/>
<text x="277" y="350.55" font-size="5.2" text-anchor="end" font-weight="normal" font-style="normal" fill="#111" >1.0</text>
<line x1="278.4" y1="356.5" x2="279.9" y2="356.5" stroke="#222" stroke-width="0.6"/>
<text x="277" y="358.35" font-size="5.2" text-anchor="end" font-weight="normal" font-style="normal" fill="#111" >0.5</text>
<line x1="278.4" y1="364.3" x2="279.9" y2="364.3" stroke="#222" stroke-width="0.6"/>
<text x="277" y="366.15" font-size="5.2" text-anchor="end" font-weight="normal" font-style="normal" fill="#111" >0.0</text>
<line x1="278.4" y1="372.1" x2="279.9" y2="372.1" stroke="#222" stroke-width="0.6"/>
<text x="277" y="373.95" font-size="5.2" text-anchor="end" font-weight="normal" font-style="normal" fill="#111" >−0.5</text>
<line x1="278.4" y1="379.9" x2="279.9" y2="379.9" stroke="#222" stroke-width="0.6"/>
<text x="277" y="381.75" font-size="5.2" text-anchor="end" font-weight="normal" font-style="normal" fill="#111" >−1.0</text>
<rect x="61.3" y="387.2" width="13.2" height="31.4" fill="#fdf3f1" />
<rect x="89.3" y="387.2" width="11.4" height="31.4" fill="#fdf3f1" />
<rect x="112" y="387.2" width="10.4" height="31.4" fill="#fdf3f1" />
<rect x="132.5" y="387.2" width="9.5" height="31.4" fill="#fdf3f1" />
<rect x="150.2" y="387.2" width="8" height="31.4" fill="#fdf3f1" />
<rect x="165.8" y="387.2" width="8.4" height="31.4" fill="#fdf3f1" />
<rect x="181.4" y="387.2" width="6.5" height="31.4" fill="#fdf3f1" />
<rect x="192.3" y="387.2" width="5.8" height="31.4" fill="#fdf3f1" />
<rect x="201.8" y="387.2" width="5.6" height="31.4" fill="#fdf3f1" />
<rect x="211.2" y="387.2" width="4" height="31.4" fill="#fdf3f1" />
<rect x="218" y="387.2" width="3.6" height="31.4" fill="#fdf3f1" />
<line x1="61.3" y1="403" x2="223.6" y2="403" stroke="#f4b8c8" stroke-width="0.6"/>
<path d="M61.3,403 L61.3,403.46 L67.24,403.46 L67.24,403 Z" fill="#d2184c"/>
<path d="M67.24,403 L67.24,396.49 L74.5,398.66 L74.5,403 Z" fill="#6b5018"/>
<path d="M80.42,403 L80.42,402.54 L89.3,402.54 L89.3,403 Z" fill="#8ee42a"/>
<path d="M89.3,403 L89.3,402.54 L100.7,402.54 L100.7,403 Z" fill="#8ee42a"/>
<path d="M98.99,403 L98.99,401.45 L100.13,401.45 L100.13,403 Z" fill="#8ee42a"/>
<path d="M100.7,403 L100.7,402.69 L112,402.69 L112,403 Z" fill="#8ee42a"/>
<path d="M121.88,403 L121.88,396.8 L122.4,396.8 L122.4,403 Z" fill="#6b5018"/>
<path d="M122.4,403 L122.4,401.45 L124.93,401.45 L124.93,403 Z" fill="#8ee42a"/>
<path d="M124.93,403 L124.93,405.32 L132,409.98 L132,403 Z" fill="#5b5bf0"/>
<path d="M131.49,403 L131.49,407.65 L132.5,407.65 L132.5,403 Z" fill="#d2184c"/>
<path d="M132.5,403 L132.5,402.54 L138.2,402.54 L138.2,403 Z" fill="#8ee42a"/>
<path d="M141.05,403 L141.05,406.1 L142,406.1 L142,403 Z" fill="#6b5018"/>
<path d="M142,403 L142,406.1 L144.46,406.1 L144.46,403 Z" fill="#6b5018"/>
<path d="M145.28,403 L145.28,401.45 L149.38,401.45 L149.38,403 Z" fill="#8ee42a"/>
<path d="M168.32,403 L168.32,400.68 L169.16,400.68 L169.16,403 Z" fill="#6b5018"/>
<path d="M169.16,403 L169.16,401.45 L173.36,401.45 L173.36,403 Z" fill="#8ee42a"/>
<path d="M172.52,403 L172.52,403.77 L174.2,403.77 L174.2,403 Z" fill="#d2184c"/>
<path d="M174.2,403 L174.2,403.46 L181.4,403.46 L181.4,403 Z" fill="#d2184c"/>
<path d="M181.72,403 L181.72,413.85 L187.58,412.61 L187.58,403 Z" fill="#6b5018"/>
<path d="M187.9,403 L187.9,403.62 L192.3,403.62 L192.3,403 Z" fill="#d2184c"/>
<path d="M195.78,403 L195.78,405.32 L196.94,405.32 L196.94,403 Z" fill="#3ee0a0"/>
<path d="M198.47,403 L198.47,402.07 L201.43,402.07 L201.43,403 Z" fill="#8ee42a"/>
<path d="M199.21,403 L199.21,409.2 L200.69,407.65 L200.69,403 Z" fill="#6b5018"/>
<path d="M201.8,403 L201.8,403.46 L207.4,403.46 L207.4,403 Z" fill="#d2184c"/>
<path d="M211.2,403 L211.2,403.46 L215.2,403.46 L215.2,403 Z" fill="#d2184c"/>
<path d="M216.6,403 L216.6,403.77 L218,403.77 L218,403 Z" fill="#d2184c"/>
<path d="M221.8,403 L221.8,408.43 L223.4,408.43 L223.4,403 Z" fill="#3ee0a0"/>
<line x1="65.26" y1="403" x2="65.26" y2="409.2" stroke="#3ee0a0" stroke-width="0.5" stroke-opacity="0.6"/>
<line x1="79.68" y1="403" x2="79.68" y2="418.5" stroke="#3ee0a0" stroke-width="0.5" stroke-opacity="0.6"/>
<line x1="99.56" y1="403" x2="99.56" y2="408.43" stroke="#3ee0a0" stroke-width="0.5" stroke-opacity="0.6"/>
<line x1="192.3" y1="403" x2="192.3" y2="418.5" stroke="#9a9af0" stroke-width="0.5" stroke-opacity="0.6"/>
<line x1="192.08" y1="403" x2="192.08" y2="395.25" stroke="#8ee42a" stroke-width="0.5" stroke-opacity="0.6"/>
<line x1="219.44" y1="403" x2="219.44" y2="410.75" stroke="#f0b0c8" stroke-width="0.5" stroke-opacity="0.6"/>
<line x1="59.5" y1="387.4" x2="59.5" y2="418.6" stroke="#222" stroke-width="0.6"/>
<line x1="58" y1="387.4" x2="59.5" y2="387.4" stroke="#222" stroke-width="0.6"/>
<text x="56.6" y="389.25" font-size="5.2" text-anchor="end" font-weight="normal" font-style="normal" fill="#111" >1.0</text>
<line x1="58" y1="395.2" x2="59.5" y2="395.2" stroke="#222" stroke-width="0.6"/>
<text x="56.6" y="397.05" font-size="5.2" text-anchor="end" font-weight="normal" font-style="normal" fill="#111" >0.5</text>
<line x1="58" y1="403" x2="59.5" y2="403" stroke="#222" stroke-width="0.6"/>
<text x="56.6" y="404.85" font-size="5.2" text-anchor="end" font-weight="normal" font-style="normal" fill="#111" >0.0</text>
<line x1="58" y1="410.8" x2="59.5" y2="410.8" stroke="#222" stroke-width="0.6"/>
<text x="56.6" y="412.65" font-size="5.2" text-anchor="end" font-weight="normal" font-style="normal" fill="#111" >−0.5</text>
<line x1="58" y1="418.6" x2="59.5" y2="418.6" stroke="#222" stroke-width="0.6"/>
<text x="56.6" y="420.45" font-size="5.2" text-anchor="end" font-weight="normal" font-style="normal" fill="#111" >−1.0</text>
<rect x="282.5" y="387.3" width="13.33" height="31.4" fill="#fdf3f1" />
<rect x="310.78" y="387.3" width="11.51" height="31.4" fill="#fdf3f1" />
<rect x="333.7" y="387.3" width="10.5" height="31.4" fill="#fdf3f1" />
<rect x="354.4" y="387.3" width="9.59" height="31.4" fill="#fdf3f1" />
<rect x="372.28" y="387.3" width="8.08" height="31.4" fill="#fdf3f1" />
<rect x="388.03" y="387.3" width="8.48" height="31.4" fill="#fdf3f1" />
<rect x="403.79" y="387.3" width="6.56" height="31.4" fill="#fdf3f1" />
<rect x="414.8" y="387.3" width="5.86" height="31.4" fill="#fdf3f1" />
<rect x="424.39" y="387.3" width="5.66" height="31.4" fill="#fdf3f1" />
<rect x="433.88" y="387.3" width="4.04" height="31.4" fill="#fdf3f1" />
<rect x="440.75" y="387.3" width="3.64" height="31.4" fill="#fdf3f1" />
<line x1="282.5" y1="403.1" x2="446.41" y2="403.1" stroke="#f4b8c8" stroke-width="0.6"/>
<path d="M287.17,403.1 L287.17,403.88 L290.5,403.88 L290.5,403.1 Z" fill="#d2184c"/>
<path d="M316.53,403.1 L316.53,402.33 L322.29,402.33 L322.29,403.1 Z" fill="#8ee42a"/>
<path d="M322.29,403.1 L322.29,402.33 L333.7,402.33 L333.7,403.1 Z" fill="#8ee42a"/>
<path d="M344.2,403.1 L344.2,402.48 L346.24,402.48 L346.24,403.1 Z" fill="#8ee42a"/>
<path d="M347.26,403.1 L347.26,403.88 L354.4,407.75 L354.4,403.1 Z" fill="#d2184c"/>
<path d="M396.52,403.1 L396.52,403.56 L403.79,403.56 L403.79,403.1 Z" fill="#d2184c"/>
<path d="M410.35,403.1 L410.35,403.41 L414.8,403.41 L414.8,403.1 Z" fill="#d2184c"/>
<path d="M424.39,403.1 L424.39,402.48 L430.05,402.48 L430.05,403.1 Z" fill="#8ee42a"/>
<path d="M430.05,403.1 L430.05,402.64 L433.88,402.64 L433.88,403.1 Z" fill="#8ee42a"/>
<line x1="300.31" y1="403.1" x2="300.31" y2="409.3" stroke="#f0b0c8" stroke-width="0.5" stroke-opacity="0.6"/>
<line x1="412.13" y1="403.1" x2="412.13" y2="389.93" stroke="#8ee42a" stroke-width="0.5" stroke-opacity="0.6"/>
<line x1="414.8" y1="403.1" x2="414.8" y2="417.83" stroke="#f0b0c8" stroke-width="0.5" stroke-opacity="0.6"/>
<line x1="399.43" y1="403.1" x2="399.43" y2="410.85" stroke="#c8c8f0" stroke-width="0.5" stroke-opacity="0.6"/>
<line x1="279.9" y1="387.5" x2="279.9" y2="418.7" stroke="#222" stroke-width="0.6"/>
<line x1="278.4" y1="387.5" x2="279.9" y2="387.5" stroke="#222" stroke-width="0.6"/>
<text x="277" y="389.35" font-size="5.2" text-anchor="end" font-weight="normal" font-style="normal" fill="#111" >1.0</text>
<line x1="278.4" y1="395.3" x2="279.9" y2="395.3" stroke="#222" stroke-width="0.6"/>
<text x="277" y="397.15" font-size="5.2" text-anchor="end" font-weight="normal" font-style="normal" fill="#111" >0.5</text>
<line x1="278.4" y1="403.1" x2="279.9" y2="403.1" stroke="#222" stroke-width="0.6"/>
<text x="277" y="404.95" font-size="5.2" text-anchor="end" font-weight="normal" font-style="normal" fill="#111" >0.0</text>
<line x1="278.4" y1="410.9" x2="279.9" y2="410.9" stroke="#222" stroke-width="0.6"/>
<text x="277" y="412.75" font-size="5.2" text-anchor="end" font-weight="normal" font-style="normal" fill="#111" >−0.5</text>
<line x1="278.4" y1="418.7" x2="279.9" y2="418.7" stroke="#222" stroke-width="0.6"/>
<text x="277" y="420.55" font-size="5.2" text-anchor="end" font-weight="normal" font-style="normal" fill="#111" >−1.0</text>
<text x="67.9" y="426.4" font-size="5.7" text-anchor="middle" font-weight="normal" font-style="normal" fill="#222" letter-spacing="-0.3">1</text>
<text x="289.17" y="426.4" font-size="5.7" text-anchor="middle" font-weight="normal" font-style="normal" fill="#222" letter-spacing="-0.3">1</text>
<text x="95" y="426.4" font-size="5.7" text-anchor="middle" font-weight="normal" font-style="normal" fill="#222" letter-spacing="-0.3">3</text>
<text x="316.53" y="426.4" font-size="5.7" text-anchor="middle" font-weight="normal" font-style="normal" fill="#222" letter-spacing="-0.3">3</text>
<text x="117.2" y="426.4" font-size="5.7" text-anchor="middle" font-weight="normal" font-style="normal" fill="#222" letter-spacing="-0.3">5</text>
<text x="338.95" y="426.4" font-size="5.7" text-anchor="middle" font-weight="normal" font-style="normal" fill="#222" letter-spacing="-0.3">5</text>
<text x="137.25" y="426.4" font-size="5.7" text-anchor="middle" font-weight="normal" font-style="normal" fill="#222" letter-spacing="-0.3">7</text>
<text x="359.2" y="426.4" font-size="5.7" text-anchor="middle" font-weight="normal" font-style="normal" fill="#222" letter-spacing="-0.3">7</text>
<text x="154.2" y="426.4" font-size="5.7" text-anchor="middle" font-weight="normal" font-style="normal" fill="#222" letter-spacing="-0.3">9</text>
<text x="376.32" y="426.4" font-size="5.7" text-anchor="middle" font-weight="normal" font-style="normal" fill="#222" letter-spacing="-0.3">9</text>
<text x="170" y="426.4" font-size="5.7" text-anchor="middle" font-weight="normal" font-style="normal" fill="#222" letter-spacing="-0.3">11</text>
<text x="392.28" y="426.4" font-size="5.7" text-anchor="middle" font-weight="normal" font-style="normal" fill="#222" letter-spacing="-0.3">11</text>
<text x="184.65" y="426.4" font-size="5.7" text-anchor="middle" font-weight="normal" font-style="normal" fill="#222" letter-spacing="-0.3">13</text>
<text x="407.07" y="426.4" font-size="5.7" text-anchor="middle" font-weight="normal" font-style="normal" fill="#222" letter-spacing="-0.3">13</text>
<text x="195.2" y="426.4" font-size="5.7" text-anchor="middle" font-weight="normal" font-style="normal" fill="#222" letter-spacing="-0.3">15</text>
<text x="417.73" y="426.4" font-size="5.7" text-anchor="middle" font-weight="normal" font-style="normal" fill="#222" letter-spacing="-0.3">15</text>
<text x="204.6" y="426.4" font-size="5.7" text-anchor="middle" font-weight="normal" font-style="normal" fill="#222" letter-spacing="-0.3">17</text>
<text x="427.22" y="426.4" font-size="5.7" text-anchor="middle" font-weight="normal" font-style="normal" fill="#222" letter-spacing="-0.3">17</text>
<text x="213.2" y="426.4" font-size="5.7" text-anchor="middle" font-weight="normal" font-style="normal" fill="#222" letter-spacing="-0.3">19</text>
<text x="435.9" y="426.4" font-size="5.7" text-anchor="middle" font-weight="normal" font-style="normal" fill="#222" letter-spacing="-0.3">19</text>
<text x="219.8" y="426.4" font-size="5.7" text-anchor="middle" font-weight="normal" font-style="normal" fill="#222" letter-spacing="-0.3">21</text>
<text x="442.57" y="426.4" font-size="5.7" text-anchor="middle" font-weight="normal" font-style="normal" fill="#222" letter-spacing="-0.3">21</text>
<text x="7.3" y="345.4" font-size="11.8" text-anchor="start" font-weight="bold" font-style="normal" fill="#000" >F</text>
<text x="25.5" y="358.6" font-size="6.4" text-anchor="middle" font-weight="normal" font-style="normal" fill="#222" >Non-IgM</text>
<text x="25.5" y="366.2" font-size="6.4" text-anchor="middle" font-weight="normal" font-style="normal" fill="#222" >t(11;14)-MM</text>
<text x="25.5" y="373.8" font-size="6.4" text-anchor="middle" font-weight="normal" font-style="normal" fill="#222" >(n = 36)</text>
<text x="25.5" y="405.4" font-size="6.4" text-anchor="middle" font-weight="normal" font-style="normal" fill="#222" >IgM-MM</text>
<text x="25.5" y="412.8" font-size="6.4" text-anchor="middle" font-weight="normal" font-style="normal" fill="#222" >(n = 15)</text>
<text x="245" y="363.9" font-size="6.4" text-anchor="middle" font-weight="normal" font-style="normal" fill="#222" >Non-t(11;14)</text>
<text x="245" y="371.4" font-size="6.4" text-anchor="middle" font-weight="normal" font-style="normal" fill="#222" >MM</text>
<text x="245" y="378.9" font-size="6.4" text-anchor="middle" font-weight="normal" font-style="normal" fill="#222" >(n = 165)</text>
<text x="247.5" y="404.6" font-size="6.4" text-anchor="middle" font-weight="normal" font-style="normal" fill="#222" >WM</text>
<text x="247.5" y="412.6" font-size="6.4" text-anchor="middle" font-weight="normal" font-style="normal" fill="#222" >(n = 55)</text>
<rect x="450.4" y="354.3" width="7.2" height="7" fill="#c8143c" />
<text x="460" y="359.6" font-size="6.2" text-anchor="start" font-weight="normal" font-style="normal" fill="#222" >Del</text>
<rect x="450.4" y="365.5" width="7.2" height="7" fill="#8ee42a" />
<text x="460" y="370.8" font-size="6.2" text-anchor="start" font-weight="normal" font-style="normal" fill="#222" >Gain</text>
<text x="450.7" y="385.6" font-size="6.2" text-anchor="start" font-weight="bold" font-style="normal" fill="#111" >Significant CNA</text>
<rect x="450.4" y="389.3" width="7.2" height="7" fill="#6a6cf2" />
<text x="460" y="394.5" font-size="5.4" text-anchor="start" font-weight="normal" font-style="normal" fill="#222" >IgM vs t(11;14)</text>
<rect x="450.4" y="401.1" width="7.2" height="7" fill="#6d5222" />
<text x="460" y="406.3" font-size="5.4" text-anchor="start" font-weight="normal" font-style="normal" fill="#222" >IgM vs WM</text>
<rect x="450.4" y="412" width="7.2" height="7" fill="#42e2a2" />
<text x="460" y="417.2" font-size="5.4" text-anchor="start" font-weight="normal" font-style="normal" fill="#222" >IgM vs t(11;14) &amp; WM</text>
<rect x="58" y="461" width="86.4" height="175.24" fill="#ccd8d9" />
<path d="M63.76,461V636.24M69.52,461V636.24M75.28,461V636.24M81.04,461V636.24M86.8,461V636.24M92.56,461V636.24M98.32,461V636.24M104.08,461V636.24M109.84,461V636.24M115.6,461V636.24M121.36,461V636.24M127.12,461V636.24M132.88,461V636.24M138.64,461V636.24M58,464.44H144.4M58,467.87H144.4M58,471.31H144.4M58,474.74H144.4M58,478.18H144.4M58,481.62H144.4M58,485.05H144.4M58,488.49H144.4M58,491.92H144.4M58,495.36H144.4M58,498.8H144.4M58,502.23H144.4M58,505.67H144.4M58,509.1H144.4M58,512.54H144.4M58,515.98H144.4M58,519.41H144.4M58,522.85H144.4M58,526.28H144.4M58,529.72H144.4M58,533.16H144.4M58,536.59H144.4M58,540.03H144.4M58,543.46H144.4M58,546.9H144.4M58,550.34H144.4M58,553.77H144.4M58,557.21H144.4M58,560.64H144.4M58,564.08H144.4M58,567.52H144.4M58,570.95H144.4M58,574.39H144.4M58,577.82H144.4M58,581.26H144.4M58,584.7H144.4M58,588.13H144.4M58,591.57H144.4M58,595H144.4M58,598.44H144.4M58,601.88H144.4M58,605.31H144.4M58,608.75H144.4M58,612.18H144.4M58,615.62H144.4M58,619.06H144.4M58,622.49H144.4M58,625.93H144.4M58,629.36H144.4M58,632.8H144.4" stroke="#dfe6e8" stroke-width="0.7" fill="none"/>
<rect x="63.76" y="461" width="5.76" height="3.44" fill="#88f01e" />
<rect x="75.28" y="461" width="5.76" height="3.44" fill="#ffd400" />
<rect x="98.32" y="461" width="5.76" height="3.44" fill="#88f01e" />
<rect x="115.6" y="461" width="5.76" height="3.44" fill="#88f01e" />
<rect x="81.04" y="464.44" width="5.76" height="3.44" fill="#ffd400" />
<rect x="92.56" y="464.44" width="5.76" height="3.44" fill="#88f01e" />
<rect x="132.88" y="464.44" width="5.76" height="3.44" fill="#88f01e" />
<rect x="86.8" y="467.87" width="5.76" height="3.44" fill="#88f01e" />
<rect x="104.08" y="467.87" width="5.76" height="3.44" fill="#1414e0" />
<rect x="115.6" y="467.87" width="5.76" height="3.44" fill="#ff2a2a" />
<rect x="121.36" y="467.87" width="5.76" height="3.44" fill="#88f01e" />
<rect x="138.64" y="467.87" width="5.76" height="3.44" fill="#1414e0" />
<rect x="69.52" y="471.31" width="5.76" height="3.44" fill="#ffd400" />
<rect x="75.28" y="471.31" width="5.76" height="3.44" fill="#ff2a2a" />
<rect x="81.04" y="471.31" width="5.76" height="3.44" fill="#88f01e" />
<rect x="109.84" y="471.31" width="5.76" height="3.44" fill="#ffd400" />
<rect x="121.36" y="471.31" width="5.76" height="3.44" fill="#ff2a2a" />
<rect x="127.12" y="471.31" width="5.76" height="3.44" fill="#ffd400" />
<rect x="132.88" y="471.31" width="5.76" height="3.44" fill="#88f01e" />
<rect x="138.64" y="471.31" width="5.76" height="3.44" fill="#ffd400" />
<rect x="58" y="474.74" width="5.76" height="3.44" fill="#ffd400" />
<rect x="63.76" y="474.74" width="5.76" height="3.44" fill="#ffd400" />
<rect x="86.8" y="474.74" width="5.76" height="3.44" fill="#ffd400" />
<rect x="92.56" y="474.74" width="5.76" height="3.44" fill="#ffd400" />
<rect x="104.08" y="474.74" width="5.76" height="3.44" fill="#ffd400" />
<rect x="109.84" y="474.74" width="5.76" height="3.44" fill="#ffd400" />
<rect x="115.6" y="474.74" width="5.76" height="3.44" fill="#ffd400" />
<rect x="121.36" y="474.74" width="5.76" height="3.44" fill="#ffd400" />
<rect x="138.64" y="474.74" width="5.76" height="3.44" fill="#ffd400" />
<rect x="69.52" y="478.18" width="5.76" height="3.44" fill="#ffd400" />
<rect x="75.28" y="478.18" width="5.76" height="3.44" fill="#ffd400" />
<rect x="81.04" y="478.18" width="5.76" height="3.44" fill="#ffd400" />
<rect x="98.32" y="478.18" width="5.76" height="3.44" fill="#5a0a50" />
<rect x="115.6" y="478.18" width="5.76" height="3.44" fill="#ffd400" />
<rect x="132.88" y="478.18" width="5.76" height="3.44" fill="#ff2a2a" />
<rect x="138.64" y="478.18" width="5.76" height="3.44" fill="#ffd400" />
<rect x="86.8" y="481.62" width="5.76" height="3.44" fill="#ffd400" />
<rect x="127.12" y="481.62" width="5.76" height="3.44" fill="#129a12" />
<rect x="58" y="485.05" width="5.76" height="3.44" fill="#ffd400" />
<rect x="86.8" y="485.05" width="5.76" height="3.44" fill="#ffd400" />
<rect x="104.08" y="485.05" width="5.76" height="3.44" fill="#ffd400" />
<rect x="132.88" y="485.05" width="5.76" height="3.44" fill="#ffd400" />
<rect x="104.08" y="488.49" width="5.76" height="3.44" fill="#129a12" />
<rect x="127.12" y="488.49" width="5.76" height="3.44" fill="#44e29c" />
<rect x="63.76" y="491.92" width="5.76" height="3.44" fill="#88f01e" />
<rect x="81.04" y="491.92" width="5.76" height="3.44" fill="#88f01e" />
<rect x="98.32" y="491.92" width="5.76" height="3.44" fill="#1414e0" />
<rect x="58" y="495.36" width="5.76" height="3.44" fill="#ff2a2a" />
<rect x="81.04" y="495.36" width="5.76" height="3.44" fill="#ffd400" />
<rect x="92.56" y="495.36" width="5.76" height="3.44" fill="#ffd400" />
<rect x="98.32" y="495.36" width="5.76" height="3.44" fill="#129a12" />
<rect x="104.08" y="495.36" width="5.76" height="3.44" fill="#ffd400" />
<rect x="109.84" y="495.36" width="5.76" height="3.44" fill="#ffd400" />
<rect x="138.64" y="495.36" width="5.76" height="3.44" fill="#129a12" />
<rect x="75.28" y="498.8" width="5.76" height="3.44" fill="#88f01e" />
<rect x="98.32" y="498.8" width="5.76" height="3.44" fill="#ffd400" />
<rect x="104.08" y="498.8" width="5.76" height="3.44" fill="#050505" />
<rect x="58" y="502.23" width="5.76" height="3.44" fill="#ffd400" />
<rect x="63.76" y="502.23" width="5.76" height="3.44" fill="#ffd400" />
<rect x="69.52" y="502.23" width="5.76" height="3.44" fill="#ffd400" />
<rect x="75.28" y="502.23" width="5.76" height="3.44" fill="#ffd400" />
<rect x="81.04" y="502.23" width="5.76" height="3.44" fill="#ffd400" />
<rect x="86.8" y="502.23" width="5.76" height="3.44" fill="#ffd400" />
<rect x="92.56" y="502.23" width="5.76" height="3.44" fill="#ffd400" />
<rect x="98.32" y="502.23" width="5.76" height="3.44" fill="#ffd400" />
<rect x="104.08" y="502.23" width="5.76" height="3.44" fill="#ffd400" />
<rect x="109.84" y="502.23" width="5.76" height="3.44" fill="#ffd400" />
<rect x="115.6" y="502.23" width="5.76" height="3.44" fill="#ffd400" />
<rect x="121.36" y="502.23" width="5.76" height="3.44" fill="#ffd400" />
<rect x="127.12" y="502.23" width="5.76" height="3.44" fill="#ffd400" />
<rect x="132.88" y="502.23" width="5.76" height="3.44" fill="#ffd400" />
<rect x="138.64" y="502.23" width="5.76" height="3.44" fill="#ffd400" />
<rect x="58" y="505.67" width="5.76" height="3.44" fill="#ffd400" />
<rect x="127.12" y="505.67" width="5.76" height="3.44" fill="#ffd400" />
<rect x="138.64" y="505.67" width="5.76" height="3.44" fill="#ffd400" />
<rect x="58" y="509.1" width="5.76" height="3.44" fill="#129a12" />
<rect x="92.56" y="509.1" width="5.76" height="3.44" fill="#ffd400" />
<rect x="104.08" y="509.1" width="5.76" height="3.44" fill="#ffd400" />
<rect x="138.64" y="509.1" width="5.76" height="3.44" fill="#ff2a2a" />
<rect x="58" y="512.54" width="5.76" height="3.44" fill="#ff55d4" />
<rect x="63.76" y="512.54" width="5.76" height="3.44" fill="#ff2a2a" />
<rect x="69.52" y="512.54" width="5.76" height="3.44" fill="#ff2a2a" />
<rect x="75.28" y="512.54" width="5.76" height="3.44" fill="#ffd400" />
<rect x="81.04" y="512.54" width="5.76" height="3.44" fill="#ff2a2a" />
<rect x="86.8" y="512.54" width="5.76" height="3.44" fill="#ff2a2a" />
<rect x="92.56" y="512.54" width="5.76" height="3.44" fill="#ff2a2a" />
<rect x="98.32" y="512.54" width="5.76" height="3.44" fill="#ff2a2a" />
<rect x="104.08" y="512.54" width="5.76" height="3.44" fill="#1414e0" />
<rect x="109.84" y="512.54" width="5.76" height="3.44" fill="#129a12" />
<rect x="115.6" y="512.54" width="5.76" height="3.44" fill="#ff2a2a" />
<rect x="121.36" y="512.54" width="5.76" height="3.44" fill="#ff2a2a" />
<rect x="127.12" y="512.54" width="5.76" height="3.44" fill="#ffd400" />
<rect x="132.88" y="512.54" width="5.76" height="3.44" fill="#ff2a2a" />
<rect x="69.52" y="515.98" width="5.76" height="3.44" fill="#ff2a2a" />
<rect x="86.8" y="515.98" width="5.76" height="3.44" fill="#ff2a2a" />
<rect x="92.56" y="515.98" width="5.76" height="3.44" fill="#ffd400" />
<rect x="104.08" y="515.98" width="5.76" height="3.44" fill="#ff2a2a" />
<rect x="109.84" y="515.98" width="5.76" height="3.44" fill="#ffd400" />
<rect x="115.6" y="515.98" width="5.76" height="3.44" fill="#ff2a2a" />
<rect x="121.36" y="515.98" width="5.76" height="3.44" fill="#ff2a2a" />
<rect x="127.12" y="515.98" width="5.76" height="3.44" fill="#ffd400" />
<rect x="138.64" y="515.98" width="5.76" height="3.44" fill="#ffd400" />
<rect x="75.28" y="519.41" width="5.76" height="3.44" fill="#ffd400" />
<rect x="98.32" y="519.41" width="5.76" height="3.44" fill="#129a12" />
<rect x="109.84" y="519.41" width="5.76" height="3.44" fill="#ff2a2a" />
<rect x="127.12" y="519.41" width="5.76" height="3.44" fill="#ffd400" />
<rect x="132.88" y="519.41" width="5.76" height="3.44" fill="#ffd400" />
<rect x="138.64" y="519.41" width="5.76" height="3.44" fill="#ffd400" />
<rect x="132.88" y="522.85" width="5.76" height="3.44" fill="#88f01e" />
<rect x="81.04" y="526.28" width="5.76" height="3.44" fill="#88f01e" />
<rect x="58" y="529.72" width="5.76" height="3.44" fill="#ffd400" />
<rect x="63.76" y="529.72" width="5.76" height="3.44" fill="#ffd400" />
<rect x="69.52" y="529.72" width="5.76" height="3.44" fill="#ffd400" />
<rect x="86.8" y="529.72" width="5.76" height="3.44" fill="#ffd400" />
<rect x="98.32" y="529.72" width="5.76" height="3.44" fill="#ffd400" />
<rect x="104.08" y="529.72" width="5.76" height="3.44" fill="#ffd400" />
<rect x="127.12" y="529.72" width="5.76" height="3.44" fill="#ffd400" />
<rect x="138.64" y="529.72" width="5.76" height="3.44" fill="#ff2a2a" />
<rect x="138.64" y="533.16" width="5.76" height="3.44" fill="#b4f7ea" />
<rect x="58" y="536.59" width="5.76" height="3.44" fill="#ffd400" />
<rect x="86.8" y="536.59" width="5.76" height="3.44" fill="#ffd400" />
<rect x="92.56" y="536.59" width="5.76" height="3.44" fill="#ffd400" />
<rect x="98.32" y="536.59" width="5.76" height="3.44" fill="#ffd400" />
<rect x="104.08" y="536.59" width="5.76" height="3.44" fill="#ffd400" />
<rect x="109.84" y="536.59" width="5.76" height="3.44" fill="#129a12" />
<rect x="121.36" y="536.59" width="5.76" height="3.44" fill="#ffd400" />
<rect x="127.12" y="536.59" width="5.76" height="3.44" fill="#ffd400" />
<rect x="138.64" y="536.59" width="5.76" height="3.44" fill="#ff2a2a" />
<rect x="63.76" y="540.03" width="5.76" height="3.44" fill="#ffd400" />
<rect x="81.04" y="540.03" width="5.76" height="3.44" fill="#129a12" />
<rect x="92.56" y="540.03" width="5.76" height="3.44" fill="#ffd400" />
<rect x="121.36" y="540.03" width="5.76" height="3.44" fill="#ffd400" />
<rect x="132.88" y="540.03" width="5.76" height="3.44" fill="#ffd400" />
<rect x="58" y="543.46" width="5.76" height="3.44" fill="#ffd400" />
<rect x="63.76" y="543.46" width="5.76" height="3.44" fill="#ffd400" />
<rect x="69.52" y="543.46" width="5.76" height="3.44" fill="#ffd400" />
<rect x="75.28" y="543.46" width="5.76" height="3.44" fill="#ffd400" />
<rect x="81.04" y="543.46" width="5.76" height="3.44" fill="#ff2a2a" />
<rect x="86.8" y="543.46" width="5.76" height="3.44" fill="#ffd400" />
<rect x="104.08" y="543.46" width="5.76" height="3.44" fill="#ffd400" />
<rect x="109.84" y="543.46" width="5.76" height="3.44" fill="#ffd400" />
<rect x="121.36" y="543.46" width="5.76" height="3.44" fill="#ffd400" />
<rect x="127.12" y="543.46" width="5.76" height="3.44" fill="#ffd400" />
<rect x="75.28" y="546.9" width="5.76" height="3.44" fill="#ffd400" />
<rect x="86.8" y="546.9" width="5.76" height="3.44" fill="#ffd400" />
<rect x="98.32" y="546.9" width="5.76" height="3.44" fill="#ff55d4" />
<rect x="104.08" y="546.9" width="5.76" height="3.44" fill="#ffd400" />
<rect x="115.6" y="546.9" width="5.76" height="3.44" fill="#1414e0" />
<rect x="138.64" y="546.9" width="5.76" height="3.44" fill="#ffd400" />
<rect x="63.76" y="550.34" width="5.76" height="3.44" fill="#ffd400" />
<rect x="75.28" y="550.34" width="5.76" height="3.44" fill="#ffd400" />
<rect x="86.8" y="550.34" width="5.76" height="3.44" fill="#ffd400" />
<rect x="92.56" y="550.34" width="5.76" height="3.44" fill="#ffd400" />
<rect x="98.32" y="550.34" width="5.76" height="3.44" fill="#ffd400" />
<rect x="104.08" y="550.34" width="5.76" height="3.44" fill="#ffd400" />
<rect x="109.84" y="550.34" width="5.76" height="3.44" fill="#ffd400" />
<rect x="138.64" y="550.34" width="5.76" height="3.44" fill="#ffd400" />
<rect x="58" y="553.77" width="5.76" height="3.44" fill="#ffd400" />
<rect x="81.04" y="553.77" width="5.76" height="3.44" fill="#ffd400" />
<rect x="86.8" y="553.77" width="5.76" height="3.44" fill="#ffd400" />
<rect x="121.36" y="553.77" width="5.76" height="3.44" fill="#b4f7ea" />
<rect x="138.64" y="553.77" width="5.76" height="3.44" fill="#ffd400" />
<rect x="69.52" y="557.21" width="5.76" height="3.44" fill="#b4f7ea" />
<rect x="75.28" y="557.21" width="5.76" height="3.44" fill="#b4f7ea" />
<rect x="109.84" y="557.21" width="5.76" height="3.44" fill="#ffd400" />
<rect x="58" y="560.64" width="5.76" height="3.44" fill="#ffd400" />
<rect x="69.52" y="560.64" width="5.76" height="3.44" fill="#ffd400" />
<rect x="75.28" y="560.64" width="5.76" height="3.44" fill="#ffd400" />
<rect x="86.8" y="560.64" width="5.76" height="3.44" fill="#ffd400" />
<rect x="92.56" y="560.64" width="5.76" height="3.44" fill="#ffd400" />
<rect x="98.32" y="560.64" width="5.76" height="3.44" fill="#ff2a2a" />
<rect x="104.08" y="560.64" width="5.76" height="3.44" fill="#ff2a2a" />
<rect x="109.84" y="560.64" width="5.76" height="3.44" fill="#ffd400" />
<rect x="58" y="564.08" width="5.76" height="3.44" fill="#88f01e" />
<rect x="63.76" y="564.08" width="5.76" height="3.44" fill="#ffd400" />
<rect x="81.04" y="564.08" width="5.76" height="3.44" fill="#ffd400" />
<rect x="98.32" y="564.08" width="5.76" height="3.44" fill="#ffd400" />
<rect x="104.08" y="564.08" width="5.76" height="3.44" fill="#129a12" />
<rect x="115.6" y="564.08" width="5.76" height="3.44" fill="#ffd400" />
<rect x="138.64" y="564.08" width="5.76" height="3.44" fill="#ffd400" />
<rect x="109.84" y="567.52" width="5.76" height="3.44" fill="#ffd400" />
<rect x="109.84" y="570.95" width="5.76" height="3.44" fill="#ffd400" />
<rect x="121.36" y="570.95" width="5.76" height="3.44" fill="#ffd400" />
<rect x="138.64" y="570.95" width="5.76" height="3.44" fill="#ffd400" />
<rect x="92.56" y="574.39" width="5.76" height="3.44" fill="#ffd400" />
<rect x="98.32" y="574.39" width="5.76" height="3.44" fill="#b4f7ea" />
<rect x="104.08" y="574.39" width="5.76" height="3.44" fill="#ffd400" />
<rect x="132.88" y="574.39" width="5.76" height="3.44" fill="#ffd400" />
<rect x="138.64" y="574.39" width="5.76" height="3.44" fill="#ffd400" />
<rect x="104.08" y="577.82" width="5.76" height="3.44" fill="#ffd400" />
<rect x="81.04" y="581.26" width="5.76" height="3.44" fill="#ffd400" />
<rect x="92.56" y="581.26" width="5.76" height="3.44" fill="#ffd400" />
<rect x="98.32" y="581.26" width="5.76" height="3.44" fill="#ffd400" />
<rect x="109.84" y="581.26" width="5.76" height="3.44" fill="#ffd400" />
<rect x="115.6" y="581.26" width="5.76" height="3.44" fill="#ffd400" />
<rect x="121.36" y="581.26" width="5.76" height="3.44" fill="#44e29c" />
<rect x="138.64" y="581.26" width="5.76" height="3.44" fill="#ffd400" />
<rect x="58" y="584.7" width="5.76" height="3.44" fill="#ffd400" />
<rect x="63.76" y="584.7" width="5.76" height="3.44" fill="#ffd400" />
<rect x="69.52" y="584.7" width="5.76" height="3.44" fill="#ffd400" />
<rect x="75.28" y="584.7" width="5.76" height="3.44" fill="#ffd400" />
<rect x="81.04" y="584.7" width="5.76" height="3.44" fill="#ffd400" />
<rect x="104.08" y="584.7" width="5.76" height="3.44" fill="#ffd400" />
<rect x="109.84" y="584.7" width="5.76" height="3.44" fill="#ffd400" />
<rect x="121.36" y="584.7" width="5.76" height="3.44" fill="#ffd400" />
<rect x="127.12" y="584.7" width="5.76" height="3.44" fill="#ffd400" />
<rect x="138.64" y="584.7" width="5.76" height="3.44" fill="#ffd400" />
<rect x="58" y="588.13" width="5.76" height="3.44" fill="#b4f7ea" />
<rect x="69.52" y="588.13" width="5.76" height="3.44" fill="#ffd400" />
<rect x="109.84" y="588.13" width="5.76" height="3.44" fill="#ffd400" />
<rect x="63.76" y="591.57" width="5.76" height="3.44" fill="#b4f7ea" />
<rect x="92.56" y="591.57" width="5.76" height="3.44" fill="#ffd400" />
<rect x="69.52" y="595" width="5.76" height="3.44" fill="#1414e0" />
<rect x="75.28" y="595" width="5.76" height="3.44" fill="#ffd400" />
<rect x="109.84" y="595" width="5.76" height="3.44" fill="#ffd400" />
<rect x="138.64" y="595" width="5.76" height="3.44" fill="#ffd400" />
<rect x="115.6" y="598.44" width="5.76" height="3.44" fill="#ffd400" />
<rect x="58" y="601.88" width="5.76" height="3.44" fill="#b4f7ea" />
<rect x="115.6" y="601.88" width="5.76" height="3.44" fill="#ffd400" />
<rect x="127.12" y="601.88" width="5.76" height="3.44" fill="#b4f7ea" />
<rect x="138.64" y="601.88" width="5.76" height="3.44" fill="#b4f7ea" />
<rect x="58" y="605.31" width="5.76" height="3.44" fill="#ffd400" />
<rect x="63.76" y="605.31" width="5.76" height="3.44" fill="#ffd400" />
<rect x="69.52" y="605.31" width="5.76" height="3.44" fill="#ffd400" />
<rect x="75.28" y="605.31" width="5.76" height="3.44" fill="#ffd400" />
<rect x="81.04" y="605.31" width="5.76" height="3.44" fill="#ffd400" />
<rect x="86.8" y="605.31" width="5.76" height="3.44" fill="#ffd400" />
<rect x="92.56" y="605.31" width="5.76" height="3.44" fill="#ffd400" />
<rect x="98.32" y="605.31" width="5.76" height="3.44" fill="#ffd400" />
<rect x="121.36" y="605.31" width="5.76" height="3.44" fill="#ffd400" />
<rect x="127.12" y="605.31" width="5.76" height="3.44" fill="#ffd400" />
<rect x="132.88" y="605.31" width="5.76" height="3.44" fill="#ffd400" />
<rect x="138.64" y="605.31" width="5.76" height="3.44" fill="#ffd400" />
<rect x="81.04" y="608.75" width="5.76" height="3.44" fill="#1414e0" />
<rect x="92.56" y="608.75" width="5.76" height="3.44" fill="#b4f7ea" />
<rect x="58" y="612.18" width="5.76" height="3.44" fill="#ffd400" />
<rect x="63.76" y="612.18" width="5.76" height="3.44" fill="#ffd400" />
<rect x="69.52" y="612.18" width="5.76" height="3.44" fill="#ffd400" />
<rect x="75.28" y="612.18" width="5.76" height="3.44" fill="#ffd400" />
<rect x="81.04" y="612.18" width="5.76" height="3.44" fill="#ffd400" />
<rect x="86.8" y="612.18" width="5.76" height="3.44" fill="#ffd400" />
<rect x="92.56" y="612.18" width="5.76" height="3.44" fill="#ffd400" />
<rect x="98.32" y="612.18" width="5.76" height="3.44" fill="#ff2a2a" />
<rect x="104.08" y="612.18" width="5.76" height="3.44" fill="#ffd400" />
<rect x="109.84" y="612.18" width="5.76" height="3.44" fill="#ffd400" />
<rect x="115.6" y="612.18" width="5.76" height="3.44" fill="#ffd400" />
<rect x="138.64" y="612.18" width="5.76" height="3.44" fill="#ffd400" />
<rect x="81.04" y="615.62" width="5.76" height="3.44" fill="#ffd400" />
<rect x="92.56" y="615.62" width="5.76" height="3.44" fill="#129a12" />
<rect x="109.84" y="615.62" width="5.76" height="3.44" fill="#ffd400" />
<rect x="121.36" y="615.62" width="5.76" height="3.44" fill="#ffd400" />
<rect x="104.08" y="619.06" width="5.76" height="3.44" fill="#ffd400" />
<rect x="58" y="622.49" width="5.76" height="3.44" fill="#ffd400" />
<rect x="75.28" y="622.49" width="5.76" height="3.44" fill="#ffd400" />
<rect x="81.04" y="622.49" width="5.76" height="3.44" fill="#ffd400" />
<rect x="63.76" y="625.93" width="5.76" height="3.44" fill="#ffd400" />
<rect x="109.84" y="625.93" width="5.76" height="3.44" fill="#129a12" />
<rect x="58" y="629.36" width="5.76" height="3.44" fill="#88f01e" />
<rect x="63.76" y="632.8" width="5.76" height="3.44" fill="#129a12" />
<rect x="75.28" y="632.8" width="5.76" height="3.44" fill="#129a12" />
<rect x="98.32" y="632.8" width="5.76" height="3.44" fill="#129a12" />
<rect x="115.6" y="632.8" width="5.76" height="3.44" fill="#129a12" />
<rect x="138.64" y="632.8" width="5.76" height="3.44" fill="#129a12" />
<rect x="170" y="461" width="291.8" height="175.24" fill="#ccd8d9" />
<path d="M176.79,461V636.24M183.57,461V636.24M190.36,461V636.24M197.14,461V636.24M203.93,461V636.24M210.72,461V636.24M217.5,461V636.24M224.29,461V636.24M231.07,461V636.24M237.86,461V636.24M244.65,461V636.24M251.43,461V636.24M258.22,461V636.24M265,461V636.24M271.79,461V636.24M278.58,461V636.24M285.36,461V636.24M292.15,461V636.24M298.93,461V636.24M305.72,461V636.24M312.51,461V636.24M319.29,461V636.24M326.08,461V636.24M332.86,461V636.24M339.65,461V636.24M346.44,461V636.24M353.22,461V636.24M360.01,461V636.24M366.79,461V636.24M373.58,461V636.24M380.37,461V636.24M387.15,461V636.24M393.94,461V636.24M400.72,461V636.24M407.51,461V636.24M414.3,461V636.24M421.08,461V636.24M427.87,461V636.24M434.65,461V636.24M441.44,461V636.24M448.23,461V636.24M455.01,461V636.24M170,464.44H461.8M170,467.87H461.8M170,471.31H461.8M170,474.74H461.8M170,478.18H461.8M170,481.62H461.8M170,485.05H461.8M170,488.49H461.8M170,491.92H461.8M170,495.36H461.8M170,498.8H461.8M170,502.23H461.8M170,505.67H461.8M170,509.1H461.8M170,512.54H461.8M170,515.98H461.8M170,519.41H461.8M170,522.85H461.8M170,526.28H461.8M170,529.72H461.8M170,533.16H461.8M170,536.59H461.8M170,540.03H461.8M170,543.46H461.8M170,546.9H461.8M170,550.34H461.8M170,553.77H461.8M170,557.21H461.8M170,560.64H461.8M170,564.08H461.8M170,567.52H461.8M170,570.95H461.8M170,574.39H461.8M170,577.82H461.8M170,581.26H461.8M170,584.7H461.8M170,588.13H461.8M170,591.57H461.8M170,595H461.8M170,598.44H461.8M170,601.88H461.8M170,605.31H461.8M170,608.75H461.8M170,612.18H461.8M170,615.62H461.8M170,619.06H461.8M170,622.49H461.8M170,625.93H461.8M170,629.36H461.8M170,632.8H461.8" stroke="#dfe6e8" stroke-width="0.7" fill="none"/>
<rect x="170" y="461" width="6.79" height="3.44" fill="#88f01e" />
<rect x="176.79" y="461" width="6.79" height="3.44" fill="#88f01e" />
<rect x="183.57" y="461" width="6.79" height="3.44" fill="#88f01e" />
<rect x="190.36" y="461" width="6.79" height="3.44" fill="#88f01e" />
<rect x="197.14" y="461" width="6.79" height="3.44" fill="#88f01e" />
<rect x="203.93" y="461" width="6.79" height="3.44" fill="#88f01e" />
<rect x="210.72" y="461" width="6.79" height="3.44" fill="#88f01e" />
<rect x="217.5" y="461" width="6.79" height="3.44" fill="#88f01e" />
<rect x="258.22" y="461" width="6.79" height="3.44" fill="#88f01e" />
<rect x="305.72" y="461" width="6.79" height="3.44" fill="#88f01e" />
<rect x="319.29" y="461" width="6.79" height="3.44" fill="#88f01e" />
<rect x="346.44" y="461" width="6.79" height="3.44" fill="#88f01e" />
<rect x="353.22" y="461" width="6.79" height="3.44" fill="#88f01e" />
<rect x="387.15" y="461" width="6.79" height="3.44" fill="#b4f7ea" />
<rect x="393.94" y="461" width="6.79" height="3.44" fill="#88f01e" />
<rect x="400.72" y="461" width="6.79" height="3.44" fill="#88f01e" />
<rect x="407.51" y="461" width="6.79" height="3.44" fill="#88f01e" />
<rect x="421.08" y="461" width="6.79" height="3.44" fill="#88f01e" />
<rect x="448.23" y="461" width="6.79" height="3.44" fill="#129a12" />
<rect x="170" y="464.44" width="6.79" height="3.44" fill="#88f01e" />
<rect x="183.57" y="464.44" width="6.79" height="3.44" fill="#88f01e" />
<rect x="197.14" y="464.44" width="6.79" height="3.44" fill="#ffd400" />
<rect x="224.29" y="464.44" width="6.79" height="3.44" fill="#88f01e" />
<rect x="244.65" y="464.44" width="6.79" height="3.44" fill="#88f01e" />
<rect x="265" y="464.44" width="6.79" height="3.44" fill="#88f01e" />
<rect x="271.79" y="464.44" width="6.79" height="3.44" fill="#88f01e" />
<rect x="278.58" y="464.44" width="6.79" height="3.44" fill="#88f01e" />
<rect x="292.15" y="464.44" width="6.79" height="3.44" fill="#88f01e" />
<rect x="312.51" y="464.44" width="6.79" height="3.44" fill="#88f01e" />
<rect x="332.86" y="464.44" width="6.79" height="3.44" fill="#88f01e" />
<rect x="360.01" y="464.44" width="6.79" height="3.44" fill="#88f01e" />
<rect x="380.37" y="464.44" width="6.79" height="3.44" fill="#88f01e" />
<rect x="421.08" y="464.44" width="6.79" height="3.44" fill="#88f01e" />
<rect x="441.44" y="464.44" width="6.79" height="3.44" fill="#88f01e" />
<rect x="455.01" y="464.44" width="6.79" height="3.44" fill="#88f01e" />
<rect x="183.57" y="467.87" width="6.79" height="3.44" fill="#88f01e" />
<rect x="265" y="467.87" width="6.79" height="3.44" fill="#88f01e" />
<rect x="292.15" y="467.87" width="6.79" height="3.44" fill="#1414e0" />
<rect x="312.51" y="467.87" width="6.79" height="3.44" fill="#88f01e" />
<rect x="360.01" y="467.87" width="6.79" height="3.44" fill="#88f01e" />
<rect x="373.58" y="467.87" width="6.79" height="3.44" fill="#88f01e" />
<rect x="380.37" y="467.87" width="6.79" height="3.44" fill="#ffd400" />
<rect x="407.51" y="467.87" width="6.79" height="3.44" fill="#88f01e" />
<rect x="427.87" y="467.87" width="6.79" height="3.44" fill="#88f01e" />
<rect x="441.44" y="467.87" width="6.79" height="3.44" fill="#88f01e" />
<rect x="455.01" y="467.87" width="6.79" height="3.44" fill="#88f01e" />
<rect x="170" y="471.31" width="6.79" height="3.44" fill="#ffd400" />
<rect x="176.79" y="471.31" width="6.79" height="3.44" fill="#ffd400" />
<rect x="183.57" y="471.31" width="6.79" height="3.44" fill="#ffd400" />
<rect x="224.29" y="471.31" width="6.79" height="3.44" fill="#ffd400" />
<rect x="258.22" y="471.31" width="6.79" height="3.44" fill="#88f01e" />
<rect x="285.36" y="471.31" width="6.79" height="3.44" fill="#ffd400" />
<rect x="305.72" y="471.31" width="6.79" height="3.44" fill="#ffd400" />
<rect x="326.08" y="471.31" width="6.79" height="3.44" fill="#ffd400" />
<rect x="339.65" y="471.31" width="6.79" height="3.44" fill="#ffd400" />
<rect x="366.79" y="471.31" width="6.79" height="3.44" fill="#ffd400" />
<rect x="373.58" y="471.31" width="6.79" height="3.44" fill="#1414e0" />
<rect x="407.51" y="471.31" width="6.79" height="3.44" fill="#1414e0" />
<rect x="414.3" y="471.31" width="6.79" height="3.44" fill="#ff2a2a" />
<rect x="427.87" y="471.31" width="6.79" height="3.44" fill="#88f01e" />
<rect x="448.23" y="471.31" width="6.79" height="3.44" fill="#ffd400" />
<rect x="305.72" y="474.74" width="6.79" height="3.44" fill="#ffd400" />
<rect x="366.79" y="474.74" width="6.79" height="3.44" fill="#ffd400" />
<rect x="380.37" y="474.74" width="6.79" height="3.44" fill="#ffd400" />
<rect x="414.3" y="474.74" width="6.79" height="3.44" fill="#ffd400" />
<rect x="448.23" y="474.74" width="6.79" height="3.44" fill="#ffd400" />
<rect x="176.79" y="478.18" width="6.79" height="3.44" fill="#ffd400" />
<rect x="190.36" y="478.18" width="6.79" height="3.44" fill="#ffd400" />
<rect x="203.93" y="478.18" width="6.79" height="3.44" fill="#ffd400" />
<rect x="251.43" y="478.18" width="6.79" height="3.44" fill="#ffd400" />
<rect x="265" y="478.18" width="6.79" height="3.44" fill="#ffd400" />
<rect x="271.79" y="478.18" width="6.79" height="3.44" fill="#ffd400" />
<rect x="298.93" y="478.18" width="6.79" height="3.44" fill="#ffd400" />
<rect x="305.72" y="478.18" width="6.79" height="3.44" fill="#ffd400" />
<rect x="326.08" y="478.18" width="6.79" height="3.44" fill="#ff2a2a" />
<rect x="360.01" y="478.18" width="6.79" height="3.44" fill="#ffd400" />
<rect x="366.79" y="478.18" width="6.79" height="3.44" fill="#ffd400" />
<rect x="373.58" y="478.18" width="6.79" height="3.44" fill="#ffd400" />
<rect x="393.94" y="478.18" width="6.79" height="3.44" fill="#ffd400" />
<rect x="414.3" y="478.18" width="6.79" height="3.44" fill="#ffd400" />
<rect x="421.08" y="478.18" width="6.79" height="3.44" fill="#ffd400" />
<rect x="183.57" y="481.62" width="6.79" height="3.44" fill="#ffd400" />
<rect x="366.79" y="481.62" width="6.79" height="3.44" fill="#129a12" />
<rect x="170" y="485.05" width="6.79" height="3.44" fill="#ffd400" />
<rect x="197.14" y="485.05" width="6.79" height="3.44" fill="#1414e0" />
<rect x="265" y="485.05" width="6.79" height="3.44" fill="#ffd400" />
<rect x="285.36" y="485.05" width="6.79" height="3.44" fill="#ffd400" />
<rect x="339.65" y="485.05" width="6.79" height="3.44" fill="#ecd7a6" />
<rect x="346.44" y="485.05" width="6.79" height="3.44" fill="#ff2a2a" />
<rect x="366.79" y="485.05" width="6.79" height="3.44" fill="#ff2a2a" />
<rect x="380.37" y="485.05" width="6.79" height="3.44" fill="#ffd400" />
<rect x="407.51" y="485.05" width="6.79" height="3.44" fill="#ffd400" />
<rect x="427.87" y="485.05" width="6.79" height="3.44" fill="#ffd400" />
<rect x="448.23" y="485.05" width="6.79" height="3.44" fill="#ffd400" />
<rect x="455.01" y="485.05" width="6.79" height="3.44" fill="#ffd400" />
<rect x="326.08" y="488.49" width="6.79" height="3.44" fill="#ffd400" />
<rect x="434.65" y="488.49" width="6.79" height="3.44" fill="#ff2a2a" />
<rect x="176.79" y="491.92" width="6.79" height="3.44" fill="#88f01e" />
<rect x="231.07" y="491.92" width="6.79" height="3.44" fill="#ffd400" />
<rect x="244.65" y="491.92" width="6.79" height="3.44" fill="#88f01e" />
<rect x="258.22" y="491.92" width="6.79" height="3.44" fill="#ffd400" />
<rect x="326.08" y="491.92" width="6.79" height="3.44" fill="#ffd400" />
<rect x="421.08" y="491.92" width="6.79" height="3.44" fill="#88f01e" />
<rect x="197.14" y="495.36" width="6.79" height="3.44" fill="#ffd400" />
<rect x="231.07" y="495.36" width="6.79" height="3.44" fill="#ffd400" />
<rect x="326.08" y="495.36" width="6.79" height="3.44" fill="#ffd400" />
<rect x="224.29" y="498.8" width="6.79" height="3.44" fill="#ffd400" />
<rect x="271.79" y="498.8" width="6.79" height="3.44" fill="#88f01e" />
<rect x="326.08" y="498.8" width="6.79" height="3.44" fill="#ffd400" />
<rect x="332.86" y="498.8" width="6.79" height="3.44" fill="#ffd400" />
<rect x="366.79" y="498.8" width="6.79" height="3.44" fill="#ffd400" />
<rect x="421.08" y="498.8" width="6.79" height="3.44" fill="#b4f7ea" />
<rect x="448.23" y="498.8" width="6.79" height="3.44" fill="#ffd400" />
<rect x="170" y="502.23" width="6.79" height="3.44" fill="#ffd400" />
<rect x="176.79" y="502.23" width="6.79" height="3.44" fill="#ffd400" />
<rect x="224.29" y="502.23" width="6.79" height="3.44" fill="#ffd400" />
<rect x="231.07" y="502.23" width="6.79" height="3.44" fill="#ffd400" />
<rect x="237.86" y="502.23" width="6.79" height="3.44" fill="#ffd400" />
<rect x="265" y="502.23" width="6.79" height="3.44" fill="#ffd400" />
<rect x="326.08" y="502.23" width="6.79" height="3.44" fill="#ffd400" />
<rect x="346.44" y="502.23" width="6.79" height="3.44" fill="#ffd400" />
<rect x="360.01" y="502.23" width="6.79" height="3.44" fill="#ffd400" />
<rect x="366.79" y="502.23" width="6.79" height="3.44" fill="#ffd400" />
<rect x="373.58" y="502.23" width="6.79" height="3.44" fill="#ffd400" />
<rect x="407.51" y="502.23" width="6.79" height="3.44" fill="#ffd400" />
<rect x="414.3" y="502.23" width="6.79" height="3.44" fill="#ff2a2a" />
<rect x="434.65" y="502.23" width="6.79" height="3.44" fill="#ffd400" />
<rect x="203.93" y="505.67" width="6.79" height="3.44" fill="#ffd400" />
<rect x="326.08" y="505.67" width="6.79" height="3.44" fill="#ff2a2a" />
<rect x="346.44" y="505.67" width="6.79" height="3.44" fill="#ffd400" />
<rect x="400.72" y="505.67" width="6.79" height="3.44" fill="#ff2a2a" />
<rect x="414.3" y="505.67" width="6.79" height="3.44" fill="#b4f7ea" />
<rect x="434.65" y="505.67" width="6.79" height="3.44" fill="#ffd400" />
<rect x="448.23" y="505.67" width="6.79" height="3.44" fill="#ff2a2a" />
<rect x="237.86" y="509.1" width="6.79" height="3.44" fill="#ffd400" />
<rect x="251.43" y="509.1" width="6.79" height="3.44" fill="#ffd400" />
<rect x="258.22" y="509.1" width="6.79" height="3.44" fill="#ffd400" />
<rect x="326.08" y="509.1" width="6.79" height="3.44" fill="#ff2a2a" />
<rect x="346.44" y="509.1" width="6.79" height="3.44" fill="#ffd400" />
<rect x="400.72" y="509.1" width="6.79" height="3.44" fill="#ff2a2a" />
<rect x="448.23" y="509.1" width="6.79" height="3.44" fill="#ff2a2a" />
<rect x="170" y="512.54" width="6.79" height="3.44" fill="#ff2a2a" />
<rect x="176.79" y="512.54" width="6.79" height="3.44" fill="#ff2a2a" />
<rect x="183.57" y="512.54" width="6.79" height="3.44" fill="#ff2a2a" />
<rect x="190.36" y="512.54" width="6.79" height="3.44" fill="#ff2a2a" />
<rect x="197.14" y="512.54" width="6.79" height="3.44" fill="#ff2a2a" />
<rect x="203.93" y="512.54" width="6.79" height="3.44" fill="#ff2a2a" />
<rect x="210.72" y="512.54" width="6.79" height="3.44" fill="#ff2a2a" />
<rect x="217.5" y="512.54" width="6.79" height="3.44" fill="#ff2a2a" />
<rect x="224.29" y="512.54" width="6.79" height="3.44" fill="#ff2a2a" />
<rect x="231.07" y="512.54" width="6.79" height="3.44" fill="#ff2a2a" />
<rect x="237.86" y="512.54" width="6.79" height="3.44" fill="#f58a48" />
<rect x="244.65" y="512.54" width="6.79" height="3.44" fill="#ffd400" />
<rect x="251.43" y="512.54" width="6.79" height="3.44" fill="#ffd400" />
<rect x="305.72" y="512.54" width="6.79" height="3.44" fill="#ffd400" />
<rect x="319.29" y="512.54" width="6.79" height="3.44" fill="#129a12" />
<rect x="326.08" y="512.54" width="6.79" height="3.44" fill="#ff2a2a" />
<rect x="332.86" y="512.54" width="6.79" height="3.44" fill="#b4f7ea" />
<rect x="339.65" y="512.54" width="6.79" height="3.44" fill="#ffd400" />
<rect x="407.51" y="512.54" width="6.79" height="3.44" fill="#ff2a2a" />
<rect x="414.3" y="512.54" width="6.79" height="3.44" fill="#ff2a2a" />
<rect x="421.08" y="512.54" width="6.79" height="3.44" fill="#ff2a2a" />
<rect x="427.87" y="512.54" width="6.79" height="3.44" fill="#ffd400" />
<rect x="448.23" y="512.54" width="6.79" height="3.44" fill="#ff2a2a" />
<rect x="292.15" y="515.98" width="6.79" height="3.44" fill="#ffd400" />
<rect x="326.08" y="515.98" width="6.79" height="3.44" fill="#ff2a2a" />
<rect x="360.01" y="515.98" width="6.79" height="3.44" fill="#ffd400" />
<rect x="366.79" y="515.98" width="6.79" height="3.44" fill="#88f01e" />
<rect x="380.37" y="515.98" width="6.79" height="3.44" fill="#ffd400" />
<rect x="400.72" y="515.98" width="6.79" height="3.44" fill="#ffd400" />
<rect x="434.65" y="515.98" width="6.79" height="3.44" fill="#1414e0" />
<rect x="448.23" y="515.98" width="6.79" height="3.44" fill="#ffd400" />
<rect x="170" y="519.41" width="6.79" height="3.44" fill="#ffd400" />
<rect x="326.08" y="519.41" width="6.79" height="3.44" fill="#ffd400" />
<rect x="366.79" y="519.41" width="6.79" height="3.44" fill="#129a12" />
<rect x="414.3" y="519.41" width="6.79" height="3.44" fill="#ffd400" />
<rect x="421.08" y="519.41" width="6.79" height="3.44" fill="#ffd400" />
<rect x="176.79" y="522.85" width="6.79" height="3.44" fill="#ffd400" />
<rect x="210.72" y="522.85" width="6.79" height="3.44" fill="#ff55d4" />
<rect x="237.86" y="522.85" width="6.79" height="3.44" fill="#ffd400" />
<rect x="265" y="522.85" width="6.79" height="3.44" fill="#ffd400" />
<rect x="298.93" y="522.85" width="6.79" height="3.44" fill="#ffd400" />
<rect x="305.72" y="522.85" width="6.79" height="3.44" fill="#ffd400" />
<rect x="326.08" y="522.85" width="6.79" height="3.44" fill="#ff2a2a" />
<rect x="170" y="526.28" width="6.79" height="3.44" fill="#ffd400" />
<rect x="298.93" y="526.28" width="6.79" height="3.44" fill="#ffd400" />
<rect x="326.08" y="526.28" width="6.79" height="3.44" fill="#ff2a2a" />
<rect x="400.72" y="526.28" width="6.79" height="3.44" fill="#ffd400" />
<rect x="407.51" y="526.28" width="6.79" height="3.44" fill="#ffd400" />
<rect x="170" y="529.72" width="6.79" height="3.44" fill="#ffd400" />
<rect x="244.65" y="529.72" width="6.79" height="3.44" fill="#ffd400" />
<rect x="360.01" y="529.72" width="6.79" height="3.44" fill="#ffd400" />
<rect x="366.79" y="529.72" width="6.79" height="3.44" fill="#ffd400" />
<rect x="380.37" y="529.72" width="6.79" height="3.44" fill="#ffd400" />
<rect x="421.08" y="529.72" width="6.79" height="3.44" fill="#129a12" />
<rect x="427.87" y="529.72" width="6.79" height="3.44" fill="#ffd400" />
<rect x="366.79" y="533.16" width="6.79" height="3.44" fill="#ff2a2a" />
<rect x="373.58" y="533.16" width="6.79" height="3.44" fill="#ffd400" />
<rect x="380.37" y="533.16" width="6.79" height="3.44" fill="#ffd400" />
<rect x="387.15" y="533.16" width="6.79" height="3.44" fill="#ffd400" />
<rect x="448.23" y="533.16" width="6.79" height="3.44" fill="#44e29c" />
<rect x="224.29" y="536.59" width="6.79" height="3.44" fill="#ffd400" />
<rect x="231.07" y="536.59" width="6.79" height="3.44" fill="#ffd400" />
<rect x="244.65" y="536.59" width="6.79" height="3.44" fill="#ffd400" />
<rect x="258.22" y="536.59" width="6.79" height="3.44" fill="#ffd400" />
<rect x="285.36" y="536.59" width="6.79" height="3.44" fill="#ffd400" />
<rect x="292.15" y="536.59" width="6.79" height="3.44" fill="#ffd400" />
<rect x="305.72" y="536.59" width="6.79" height="3.44" fill="#129a12" />
<rect x="326.08" y="536.59" width="6.79" height="3.44" fill="#ffd400" />
<rect x="339.65" y="536.59" width="6.79" height="3.44" fill="#ffd400" />
<rect x="393.94" y="536.59" width="6.79" height="3.44" fill="#ffd400" />
<rect x="414.3" y="536.59" width="6.79" height="3.44" fill="#ffd400" />
<rect x="434.65" y="536.59" width="6.79" height="3.44" fill="#ffd400" />
<rect x="441.44" y="536.59" width="6.79" height="3.44" fill="#ffd400" />
<rect x="190.36" y="540.03" width="6.79" height="3.44" fill="#ffd400" />
<rect x="265" y="540.03" width="6.79" height="3.44" fill="#88f01e" />
<rect x="271.79" y="540.03" width="6.79" height="3.44" fill="#f58a48" />
<rect x="326.08" y="540.03" width="6.79" height="3.44" fill="#ffd400" />
<rect x="414.3" y="540.03" width="6.79" height="3.44" fill="#ffd400" />
<rect x="421.08" y="540.03" width="6.79" height="3.44" fill="#ffd400" />
<rect x="434.65" y="540.03" width="6.79" height="3.44" fill="#ffd400" />
<rect x="170" y="543.46" width="6.79" height="3.44" fill="#ffd400" />
<rect x="224.29" y="543.46" width="6.79" height="3.44" fill="#129a12" />
<rect x="237.86" y="543.46" width="6.79" height="3.44" fill="#ffd400" />
<rect x="244.65" y="543.46" width="6.79" height="3.44" fill="#ffd400" />
<rect x="271.79" y="543.46" width="6.79" height="3.44" fill="#ffd400" />
<rect x="278.58" y="543.46" width="6.79" height="3.44" fill="#ffd400" />
<rect x="326.08" y="543.46" width="6.79" height="3.44" fill="#ffd400" />
<rect x="346.44" y="543.46" width="6.79" height="3.44" fill="#ffd400" />
<rect x="366.79" y="543.46" width="6.79" height="3.44" fill="#ffd400" />
<rect x="455.01" y="543.46" width="6.79" height="3.44" fill="#ffd400" />
<rect x="278.58" y="546.9" width="6.79" height="3.44" fill="#ffd400" />
<rect x="305.72" y="546.9" width="6.79" height="3.44" fill="#ff55d4" />
<rect x="332.86" y="546.9" width="6.79" height="3.44" fill="#ffd400" />
<rect x="346.44" y="546.9" width="6.79" height="3.44" fill="#129a12" />
<rect x="360.01" y="546.9" width="6.79" height="3.44" fill="#ff2a2a" />
<rect x="407.51" y="546.9" width="6.79" height="3.44" fill="#ffd400" />
<rect x="170" y="550.34" width="6.79" height="3.44" fill="#ffd400" />
<rect x="190.36" y="550.34" width="6.79" height="3.44" fill="#ffd400" />
<rect x="224.29" y="550.34" width="6.79" height="3.44" fill="#ffd400" />
<rect x="244.65" y="550.34" width="6.79" height="3.44" fill="#ffd400" />
<rect x="271.79" y="550.34" width="6.79" height="3.44" fill="#ffd400" />
<rect x="278.58" y="550.34" width="6.79" height="3.44" fill="#ffd400" />
<rect x="285.36" y="550.34" width="6.79" height="3.44" fill="#ffd400" />
<rect x="305.72" y="550.34" width="6.79" height="3.44" fill="#ffd400" />
<rect x="312.51" y="550.34" width="6.79" height="3.44" fill="#ffd400" />
<rect x="319.29" y="550.34" width="6.79" height="3.44" fill="#ffd400" />
<rect x="326.08" y="550.34" width="6.79" height="3.44" fill="#ffd400" />
<rect x="332.86" y="550.34" width="6.79" height="3.44" fill="#ffd400" />
<rect x="346.44" y="550.34" width="6.79" height="3.44" fill="#129a12" />
<rect x="360.01" y="550.34" width="6.79" height="3.44" fill="#ff2a2a" />
<rect x="366.79" y="550.34" width="6.79" height="3.44" fill="#ffd400" />
<rect x="387.15" y="550.34" width="6.79" height="3.44" fill="#ffd400" />
<rect x="407.51" y="550.34" width="6.79" height="3.44" fill="#ffd400" />
<rect x="414.3" y="550.34" width="6.79" height="3.44" fill="#ffd400" />
<rect x="170" y="553.77" width="6.79" height="3.44" fill="#ffd400" />
<rect x="176.79" y="553.77" width="6.79" height="3.44" fill="#ffd400" />
<rect x="183.57" y="553.77" width="6.79" height="3.44" fill="#88f01e" />
<rect x="197.14" y="553.77" width="6.79" height="3.44" fill="#88f01e" />
<rect x="244.65" y="553.77" width="6.79" height="3.44" fill="#44e29c" />
<rect x="326.08" y="553.77" width="6.79" height="3.44" fill="#ff2a2a" />
<rect x="366.79" y="553.77" width="6.79" height="3.44" fill="#ffd400" />
<rect x="380.37" y="553.77" width="6.79" height="3.44" fill="#ffd400" />
<rect x="393.94" y="553.77" width="6.79" height="3.44" fill="#ffd400" />
<rect x="400.72" y="553.77" width="6.79" height="3.44" fill="#ffd400" />
<rect x="448.23" y="553.77" width="6.79" height="3.44" fill="#ff2a2a" />
<rect x="326.08" y="557.21" width="6.79" height="3.44" fill="#ff2a2a" />
<rect x="360.01" y="557.21" width="6.79" height="3.44" fill="#ffd400" />
<rect x="170" y="560.64" width="6.79" height="3.44" fill="#ffd400" />
<rect x="326.08" y="560.64" width="6.79" height="3.44" fill="#ffd400" />
<rect x="360.01" y="560.64" width="6.79" height="3.44" fill="#ffd400" />
<rect x="414.3" y="560.64" width="6.79" height="3.44" fill="#ffd400" />
<rect x="441.44" y="560.64" width="6.79" height="3.44" fill="#ffd400" />
<rect x="448.23" y="560.64" width="6.79" height="3.44" fill="#ffd400" />
<rect x="176.79" y="564.08" width="6.79" height="3.44" fill="#ffd400" />
<rect x="190.36" y="564.08" width="6.79" height="3.44" fill="#ffd400" />
<rect x="271.79" y="564.08" width="6.79" height="3.44" fill="#88f01e" />
<rect x="278.58" y="564.08" width="6.79" height="3.44" fill="#ffd400" />
<rect x="326.08" y="564.08" width="6.79" height="3.44" fill="#ffd400" />
<rect x="346.44" y="564.08" width="6.79" height="3.44" fill="#88f01e" />
<rect x="421.08" y="564.08" width="6.79" height="3.44" fill="#ffd400" />
<rect x="190.36" y="567.52" width="6.79" height="3.44" fill="#ffd400" />
<rect x="251.43" y="567.52" width="6.79" height="3.44" fill="#88f01e" />
<rect x="421.08" y="567.52" width="6.79" height="3.44" fill="#ffd400" />
<rect x="197.14" y="570.95" width="6.79" height="3.44" fill="#ffd400" />
<rect x="237.86" y="570.95" width="6.79" height="3.44" fill="#88f01e" />
<rect x="251.43" y="570.95" width="6.79" height="3.44" fill="#88f01e" />
<rect x="366.79" y="570.95" width="6.79" height="3.44" fill="#88f01e" />
<rect x="448.23" y="570.95" width="6.79" height="3.44" fill="#ffd400" />
<rect x="176.79" y="574.39" width="6.79" height="3.44" fill="#44e29c" />
<rect x="265" y="574.39" width="6.79" height="3.44" fill="#ffd400" />
<rect x="278.58" y="574.39" width="6.79" height="3.44" fill="#ffd400" />
<rect x="298.93" y="574.39" width="6.79" height="3.44" fill="#ffd400" />
<rect x="326.08" y="574.39" width="6.79" height="3.44" fill="#ffd400" />
<rect x="346.44" y="574.39" width="6.79" height="3.44" fill="#ffd400" />
<rect x="353.22" y="574.39" width="6.79" height="3.44" fill="#ffd400" />
<rect x="366.79" y="574.39" width="6.79" height="3.44" fill="#ffd400" />
<rect x="373.58" y="574.39" width="6.79" height="3.44" fill="#ff55d4" />
<rect x="400.72" y="574.39" width="6.79" height="3.44" fill="#ffd400" />
<rect x="427.87" y="574.39" width="6.79" height="3.44" fill="#ffd400" />
<rect x="448.23" y="574.39" width="6.79" height="3.44" fill="#ffd400" />
<rect x="170" y="577.82" width="6.79" height="3.44" fill="#129a12" />
<rect x="360.01" y="577.82" width="6.79" height="3.44" fill="#ffd400" />
<rect x="387.15" y="577.82" width="6.79" height="3.44" fill="#129a12" />
<rect x="448.23" y="577.82" width="6.79" height="3.44" fill="#b4f7ea" />
<rect x="176.79" y="581.26" width="6.79" height="3.44" fill="#ffd400" />
<rect x="183.57" y="581.26" width="6.79" height="3.44" fill="#ffd400" />
<rect x="197.14" y="581.26" width="6.79" height="3.44" fill="#ffd400" />
<rect x="237.86" y="581.26" width="6.79" height="3.44" fill="#ffd400" />
<rect x="298.93" y="581.26" width="6.79" height="3.44" fill="#ffd400" />
<rect x="326.08" y="581.26" width="6.79" height="3.44" fill="#ffd400" />
<rect x="346.44" y="581.26" width="6.79" height="3.44" fill="#ff2a2a" />
<rect x="360.01" y="581.26" width="6.79" height="3.44" fill="#88f01e" />
<rect x="366.79" y="581.26" width="6.79" height="3.44" fill="#ffd400" />
<rect x="373.58" y="581.26" width="6.79" height="3.44" fill="#ffd400" />
<rect x="448.23" y="581.26" width="6.79" height="3.44" fill="#ff2a2a" />
<rect x="265" y="584.7" width="6.79" height="3.44" fill="#ffd400" />
<rect x="292.15" y="584.7" width="6.79" height="3.44" fill="#ffd400" />
<rect x="360.01" y="584.7" width="6.79" height="3.44" fill="#ffd400" />
<rect x="373.58" y="584.7" width="6.79" height="3.44" fill="#ffd400" />
<rect x="414.3" y="584.7" width="6.79" height="3.44" fill="#88f01e" />
<rect x="421.08" y="584.7" width="6.79" height="3.44" fill="#ffd400" />
<rect x="434.65" y="584.7" width="6.79" height="3.44" fill="#ffd400" />
<rect x="448.23" y="584.7" width="6.79" height="3.44" fill="#88f01e" />
<rect x="190.36" y="588.13" width="6.79" height="3.44" fill="#88f01e" />
<rect x="237.86" y="588.13" width="6.79" height="3.44" fill="#b4f7ea" />
<rect x="305.72" y="588.13" width="6.79" height="3.44" fill="#ffd400" />
<rect x="326.08" y="588.13" width="6.79" height="3.44" fill="#ffd400" />
<rect x="339.65" y="588.13" width="6.79" height="3.44" fill="#ffd400" />
<rect x="373.58" y="588.13" width="6.79" height="3.44" fill="#b4f7ea" />
<rect x="400.72" y="588.13" width="6.79" height="3.44" fill="#ffd400" />
<rect x="414.3" y="588.13" width="6.79" height="3.44" fill="#ffd400" />
<rect x="421.08" y="588.13" width="6.79" height="3.44" fill="#ffd400" />
<rect x="434.65" y="588.13" width="6.79" height="3.44" fill="#ffd400" />
<rect x="203.93" y="591.57" width="6.79" height="3.44" fill="#ffd400" />
<rect x="231.07" y="591.57" width="6.79" height="3.44" fill="#ffd400" />
<rect x="285.36" y="591.57" width="6.79" height="3.44" fill="#ffd400" />
<rect x="326.08" y="591.57" width="6.79" height="3.44" fill="#129a12" />
<rect x="366.79" y="591.57" width="6.79" height="3.44" fill="#b4f7ea" />
<rect x="203.93" y="595" width="6.79" height="3.44" fill="#ffd400" />
<rect x="231.07" y="595" width="6.79" height="3.44" fill="#ffd400" />
<rect x="285.36" y="595" width="6.79" height="3.44" fill="#ffd400" />
<rect x="414.3" y="595" width="6.79" height="3.44" fill="#ff55d4" />
<rect x="434.65" y="595" width="6.79" height="3.44" fill="#ffd400" />
<rect x="448.23" y="601.88" width="6.79" height="3.44" fill="#b4f7ea" />
<rect x="176.79" y="605.31" width="6.79" height="3.44" fill="#ffd400" />
<rect x="183.57" y="605.31" width="6.79" height="3.44" fill="#ffd400" />
<rect x="197.14" y="605.31" width="6.79" height="3.44" fill="#ffd400" />
<rect x="244.65" y="605.31" width="6.79" height="3.44" fill="#ffd400" />
<rect x="251.43" y="605.31" width="6.79" height="3.44" fill="#ffd400" />
<rect x="271.79" y="605.31" width="6.79" height="3.44" fill="#ffd400" />
<rect x="278.58" y="605.31" width="6.79" height="3.44" fill="#ffd400" />
<rect x="292.15" y="605.31" width="6.79" height="3.44" fill="#ffd400" />
<rect x="305.72" y="605.31" width="6.79" height="3.44" fill="#ffd400" />
<rect x="326.08" y="605.31" width="6.79" height="3.44" fill="#ffd400" />
<rect x="332.86" y="605.31" width="6.79" height="3.44" fill="#ffd400" />
<rect x="360.01" y="605.31" width="6.79" height="3.44" fill="#ffd400" />
<rect x="387.15" y="605.31" width="6.79" height="3.44" fill="#ffd400" />
<rect x="407.51" y="605.31" width="6.79" height="3.44" fill="#ffd400" />
<rect x="434.65" y="605.31" width="6.79" height="3.44" fill="#ff2a2a" />
<rect x="448.23" y="605.31" width="6.79" height="3.44" fill="#ffd400" />
<rect x="326.08" y="608.75" width="6.79" height="3.44" fill="#b4f7ea" />
<rect x="407.51" y="608.75" width="6.79" height="3.44" fill="#b4f7ea" />
<rect x="448.23" y="608.75" width="6.79" height="3.44" fill="#1414e0" />
<rect x="170" y="612.18" width="6.79" height="3.44" fill="#ffd400" />
<rect x="176.79" y="612.18" width="6.79" height="3.44" fill="#ffd400" />
<rect x="183.57" y="612.18" width="6.79" height="3.44" fill="#ffd400" />
<rect x="190.36" y="612.18" width="6.79" height="3.44" fill="#ffd400" />
<rect x="197.14" y="612.18" width="6.79" height="3.44" fill="#ffd400" />
<rect x="203.93" y="612.18" width="6.79" height="3.44" fill="#ffd400" />
<rect x="210.72" y="612.18" width="6.79" height="3.44" fill="#ffd400" />
<rect x="217.5" y="612.18" width="6.79" height="3.44" fill="#ffd400" />
<rect x="224.29" y="612.18" width="6.79" height="3.44" fill="#ffd400" />
<rect x="231.07" y="612.18" width="6.79" height="3.44" fill="#ffd400" />
<rect x="237.86" y="612.18" width="6.79" height="3.44" fill="#ffd400" />
<rect x="244.65" y="612.18" width="6.79" height="3.44" fill="#ff2a2a" />
<rect x="251.43" y="612.18" width="6.79" height="3.44" fill="#ffd400" />
<rect x="258.22" y="612.18" width="6.79" height="3.44" fill="#ffd400" />
<rect x="265" y="612.18" width="6.79" height="3.44" fill="#ffd400" />
<rect x="271.79" y="612.18" width="6.79" height="3.44" fill="#ffd400" />
<rect x="278.58" y="612.18" width="6.79" height="3.44" fill="#ffd400" />
<rect x="285.36" y="612.18" width="6.79" height="3.44" fill="#ffd400" />
<rect x="292.15" y="612.18" width="6.79" height="3.44" fill="#ffd400" />
<rect x="298.93" y="612.18" width="6.79" height="3.44" fill="#ffd400" />
<rect x="305.72" y="612.18" width="6.79" height="3.44" fill="#ffd400" />
<rect x="319.29" y="612.18" width="6.79" height="3.44" fill="#129a12" />
<rect x="326.08" y="612.18" width="6.79" height="3.44" fill="#ff2a2a" />
<rect x="332.86" y="612.18" width="6.79" height="3.44" fill="#ffd400" />
<rect x="339.65" y="612.18" width="6.79" height="3.44" fill="#ffd400" />
<rect x="346.44" y="612.18" width="6.79" height="3.44" fill="#ffd400" />
<rect x="353.22" y="612.18" width="6.79" height="3.44" fill="#ffd400" />
<rect x="360.01" y="612.18" width="6.79" height="3.44" fill="#ffd400" />
<rect x="366.79" y="612.18" width="6.79" height="3.44" fill="#ffd400" />
<rect x="373.58" y="612.18" width="6.79" height="3.44" fill="#ffd400" />
<rect x="380.37" y="612.18" width="6.79" height="3.44" fill="#ffd400" />
<rect x="407.51" y="612.18" width="6.79" height="3.44" fill="#ffd400" />
<rect x="414.3" y="612.18" width="6.79" height="3.44" fill="#ff2a2a" />
<rect x="448.23" y="612.18" width="6.79" height="3.44" fill="#ffd400" />
<rect x="183.57" y="615.62" width="6.79" height="3.44" fill="#ffd400" />
<rect x="224.29" y="615.62" width="6.79" height="3.44" fill="#ffd400" />
<rect x="237.86" y="615.62" width="6.79" height="3.44" fill="#ffd400" />
<rect x="244.65" y="615.62" width="6.79" height="3.44" fill="#ffd400" />
<rect x="258.22" y="615.62" width="6.79" height="3.44" fill="#ffd400" />
<rect x="278.58" y="615.62" width="6.79" height="3.44" fill="#ffd400" />
<rect x="312.51" y="615.62" width="6.79" height="3.44" fill="#ffd400" />
<rect x="326.08" y="615.62" width="6.79" height="3.44" fill="#ffd400" />
<rect x="339.65" y="615.62" width="6.79" height="3.44" fill="#129a12" />
<rect x="366.79" y="615.62" width="6.79" height="3.44" fill="#ffd400" />
<rect x="373.58" y="615.62" width="6.79" height="3.44" fill="#ffd400" />
<rect x="421.08" y="615.62" width="6.79" height="3.44" fill="#ffd400" />
<rect x="427.87" y="615.62" width="6.79" height="3.44" fill="#ffd400" />
<rect x="285.36" y="619.06" width="6.79" height="3.44" fill="#88f01e" />
<rect x="326.08" y="619.06" width="6.79" height="3.44" fill="#ffd400" />
<rect x="360.01" y="619.06" width="6.79" height="3.44" fill="#129a12" />
<rect x="366.79" y="619.06" width="6.79" height="3.44" fill="#88f01e" />
<rect x="258.22" y="622.49" width="6.79" height="3.44" fill="#ffd400" />
<rect x="380.37" y="622.49" width="6.79" height="3.44" fill="#ffd400" />
<rect x="400.72" y="622.49" width="6.79" height="3.44" fill="#ffd400" />
<rect x="176.79" y="625.93" width="6.79" height="3.44" fill="#88f01e" />
<rect x="190.36" y="625.93" width="6.79" height="3.44" fill="#ff2a2a" />
<rect x="326.08" y="625.93" width="6.79" height="3.44" fill="#ffd400" />
<rect x="332.86" y="625.93" width="6.79" height="3.44" fill="#ffd400" />
<rect x="400.72" y="625.93" width="6.79" height="3.44" fill="#ffd400" />
<rect x="170" y="632.8" width="6.79" height="3.44" fill="#129a12" />
<rect x="271.79" y="632.8" width="6.79" height="3.44" fill="#129a12" />
<rect x="298.93" y="632.8" width="6.79" height="3.44" fill="#129a12" />
<rect x="414.3" y="632.8" width="6.79" height="3.44" fill="#129a12" />
<rect x="427.87" y="632.8" width="6.79" height="3.44" fill="#f58a48" />
<rect x="448.23" y="632.8" width="6.79" height="3.44" fill="#129a12" />
<rect x="58" y="638.1" width="5.81" height="6.1" fill="#66f01a" />
<rect x="63.76" y="638.1" width="5.81" height="6.1" fill="#66f01a" />
<rect x="69.52" y="638.1" width="5.81" height="6.1" fill="#66f01a" />
<rect x="75.28" y="638.1" width="5.81" height="6.1" fill="#66f01a" />
<rect x="81.04" y="638.1" width="5.81" height="6.1" fill="#66f01a" />
<rect x="86.8" y="638.1" width="5.81" height="6.1" fill="#66f01a" />
<rect x="92.56" y="638.1" width="5.81" height="6.1" fill="#66f01a" />
<rect x="98.32" y="638.1" width="5.81" height="6.1" fill="#66f01a" />
<rect x="104.08" y="638.1" width="5.81" height="6.1" fill="#66f01a" />
<rect x="109.84" y="638.1" width="5.81" height="6.1" fill="#66f01a" />
<rect x="115.6" y="638.1" width="5.81" height="6.1" fill="#66f01a" />
<rect x="121.36" y="638.1" width="5.81" height="6.1" fill="#66f01a" />
<rect x="127.12" y="638.1" width="5.81" height="6.1" fill="#66f01a" />
<rect x="132.88" y="638.1" width="5.81" height="6.1" fill="#66f01a" />
<rect x="138.64" y="638.1" width="5.81" height="6.1" fill="#66f01a" />
<line x1="63.76" y1="638.1" x2="63.76" y2="644.2" stroke="#ffffff" stroke-opacity="0.25" stroke-width="0.4"/>
<line x1="69.52" y1="638.1" x2="69.52" y2="644.2" stroke="#ffffff" stroke-opacity="0.25" stroke-width="0.4"/>
<line x1="75.28" y1="638.1" x2="75.28" y2="644.2" stroke="#ffffff" stroke-opacity="0.25" stroke-width="0.4"/>
<line x1="81.04" y1="638.1" x2="81.04" y2="644.2" stroke="#ffffff" stroke-opacity="0.25" stroke-width="0.4"/>
<line x1="86.8" y1="638.1" x2="86.8" y2="644.2" stroke="#ffffff" stroke-opacity="0.25" stroke-width="0.4"/>
<line x1="92.56" y1="638.1" x2="92.56" y2="644.2" stroke="#ffffff" stroke-opacity="0.25" stroke-width="0.4"/>
<line x1="98.32" y1="638.1" x2="98.32" y2="644.2" stroke="#ffffff" stroke-opacity="0.25" stroke-width="0.4"/>
<line x1="104.08" y1="638.1" x2="104.08" y2="644.2" stroke="#ffffff" stroke-opacity="0.25" stroke-width="0.4"/>
<line x1="109.84" y1="638.1" x2="109.84" y2="644.2" stroke="#ffffff" stroke-opacity="0.25" stroke-width="0.4"/>
<line x1="115.6" y1="638.1" x2="115.6" y2="644.2" stroke="#ffffff" stroke-opacity="0.25" stroke-width="0.4"/>
<line x1="121.36" y1="638.1" x2="121.36" y2="644.2" stroke="#ffffff" stroke-opacity="0.25" stroke-width="0.4"/>
<line x1="127.12" y1="638.1" x2="127.12" y2="644.2" stroke="#ffffff" stroke-opacity="0.25" stroke-width="0.4"/>
<line x1="132.88" y1="638.1" x2="132.88" y2="644.2" stroke="#ffffff" stroke-opacity="0.25" stroke-width="0.4"/>
<line x1="138.64" y1="638.1" x2="138.64" y2="644.2" stroke="#ffffff" stroke-opacity="0.25" stroke-width="0.4"/>
<rect x="170" y="638.1" width="6.84" height="6.1" fill="#fb8a0e" />
<rect x="176.79" y="638.1" width="6.84" height="6.1" fill="#fb8a0e" />
<rect x="183.57" y="638.1" width="6.84" height="6.1" fill="#fb8a0e" />
<rect x="190.36" y="638.1" width="6.84" height="6.1" fill="#fb8a0e" />
<rect x="197.14" y="638.1" width="6.84" height="6.1" fill="#fb8a0e" />
<rect x="203.93" y="638.1" width="6.84" height="6.1" fill="#fb8a0e" />
<rect x="210.72" y="638.1" width="6.84" height="6.1" fill="#fb8a0e" />
<rect x="217.5" y="638.1" width="6.84" height="6.1" fill="#fb8a0e" />
<rect x="224.29" y="638.1" width="6.84" height="6.1" fill="#fb8a0e" />
<rect x="231.07" y="638.1" width="6.84" height="6.1" fill="#fb8a0e" />
<rect x="237.86" y="638.1" width="6.84" height="6.1" fill="#fb8a0e" />
<rect x="244.65" y="638.1" width="6.84" height="6.1" fill="#fb8a0e" />
<rect x="251.43" y="638.1" width="6.84" height="6.1" fill="#fb8a0e" />
<rect x="258.22" y="638.1" width="6.84" height="6.1" fill="#fb8a0e" />
<rect x="265" y="638.1" width="6.84" height="6.1" fill="#fb8a0e" />
<rect x="271.79" y="638.1" width="6.84" height="6.1" fill="#fb8a0e" />
<rect x="278.58" y="638.1" width="6.84" height="6.1" fill="#fb8a0e" />
<rect x="285.36" y="638.1" width="6.84" height="6.1" fill="#fb8a0e" />
<rect x="292.15" y="638.1" width="6.84" height="6.1" fill="#fb8a0e" />
<rect x="298.93" y="638.1" width="6.84" height="6.1" fill="#fb8a0e" />
<rect x="305.72" y="638.1" width="6.84" height="6.1" fill="#fb8a0e" />
<rect x="312.51" y="638.1" width="6.84" height="6.1" fill="#fb8a0e" />
<rect x="319.29" y="638.1" width="6.84" height="6.1" fill="#d02458" />
<rect x="326.08" y="638.1" width="6.84" height="6.1" fill="#d02458" />
<rect x="332.86" y="638.1" width="6.84" height="6.1" fill="#d02458" />
<rect x="339.65" y="638.1" width="6.84" height="6.1" fill="#d02458" />
<rect x="346.44" y="638.1" width="6.84" height="6.1" fill="#d02458" />
<rect x="353.22" y="638.1" width="6.84" height="6.1" fill="#d02458" />
<rect x="360.01" y="638.1" width="6.84" height="6.1" fill="#d02458" />
<rect x="366.79" y="638.1" width="6.84" height="6.1" fill="#d02458" />
<rect x="373.58" y="638.1" width="6.84" height="6.1" fill="#d02458" />
<rect x="380.37" y="638.1" width="6.84" height="6.1" fill="#d02458" />
<rect x="387.15" y="638.1" width="6.84" height="6.1" fill="#d02458" />
<rect x="393.94" y="638.1" width="6.84" height="6.1" fill="#d02458" />
<rect x="400.72" y="638.1" width="6.84" height="6.1" fill="#d02458" />
<rect x="407.51" y="638.1" width="6.84" height="6.1" fill="#2c58e6" />
<rect x="414.3" y="638.1" width="6.84" height="6.1" fill="#2c58e6" />
<rect x="421.08" y="638.1" width="6.84" height="6.1" fill="#2c58e6" />
<rect x="427.87" y="638.1" width="6.84" height="6.1" fill="#2c58e6" />
<rect x="434.65" y="638.1" width="6.84" height="6.1" fill="#2c58e6" />
<rect x="441.44" y="638.1" width="6.84" height="6.1" fill="#2c58e6" />
<rect x="448.23" y="638.1" width="6.84" height="6.1" fill="#a6f2c2" />
<rect x="455.01" y="638.1" width="6.84" height="6.1" fill="#a6f2c2" />
<line x1="176.79" y1="638.1" x2="176.79" y2="644.2" stroke="#ffffff" stroke-opacity="0.25" stroke-width="0.4"/>
<line x1="183.57" y1="638.1" x2="183.57" y2="644.2" stroke="#ffffff" stroke-opacity="0.25" stroke-width="0.4"/>
<line x1="190.36" y1="638.1" x2="190.36" y2="644.2" stroke="#ffffff" stroke-opacity="0.25" stroke-width="0.4"/>
<line x1="197.14" y1="638.1" x2="197.14" y2="644.2" stroke="#ffffff" stroke-opacity="0.25" stroke-width="0.4"/>
<line x1="203.93" y1="638.1" x2="203.93" y2="644.2" stroke="#ffffff" stroke-opacity="0.25" stroke-width="0.4"/>
<line x1="210.72" y1="638.1" x2="210.72" y2="644.2" stroke="#ffffff" stroke-opacity="0.25" stroke-width="0.4"/>
<line x1="217.5" y1="638.1" x2="217.5" y2="644.2" stroke="#ffffff" stroke-opacity="0.25" stroke-width="0.4"/>
<line x1="224.29" y1="638.1" x2="224.29" y2="644.2" stroke="#ffffff" stroke-opacity="0.25" stroke-width="0.4"/>
<line x1="231.07" y1="638.1" x2="231.07" y2="644.2" stroke="#ffffff" stroke-opacity="0.25" stroke-width="0.4"/>
<line x1="237.86" y1="638.1" x2="237.86" y2="644.2" stroke="#ffffff" stroke-opacity="0.25" stroke-width="0.4"/>
<line x1="244.65" y1="638.1" x2="244.65" y2="644.2" stroke="#ffffff" stroke-opacity="0.25" stroke-width="0.4"/>
<line x1="251.43" y1="638.1" x2="251.43" y2="644.2" stroke="#ffffff" stroke-opacity="0.25" stroke-width="0.4"/>
<line x1="258.22" y1="638.1" x2="258.22" y2="644.2" stroke="#ffffff" stroke-opacity="0.25" stroke-width="0.4"/>
<line x1="265" y1="638.1" x2="265" y2="644.2" stroke="#ffffff" stroke-opacity="0.25" stroke-width="0.4"/>
<line x1="271.79" y1="638.1" x2="271.79" y2="644.2" stroke="#ffffff" stroke-opacity="0.25" stroke-width="0.4"/>
<line x1="278.58" y1="638.1" x2="278.58" y2="644.2" stroke="#ffffff" stroke-opacity="0.25" stroke-width="0.4"/>
<line x1="285.36" y1="638.1" x2="285.36" y2="644.2" stroke="#ffffff" stroke-opacity="0.25" stroke-width="0.4"/>
<line x1="292.15" y1="638.1" x2="292.15" y2="644.2" stroke="#ffffff" stroke-opacity="0.25" stroke-width="0.4"/>
<line x1="298.93" y1="638.1" x2="298.93" y2="644.2" stroke="#ffffff" stroke-opacity="0.25" stroke-width="0.4"/>
<line x1="305.72" y1="638.1" x2="305.72" y2="644.2" stroke="#ffffff" stroke-opacity="0.25" stroke-width="0.4"/>
<line x1="312.51" y1="638.1" x2="312.51" y2="644.2" stroke="#ffffff" stroke-opacity="0.25" stroke-width="0.4"/>
<line x1="319.29" y1="638.1" x2="319.29" y2="644.2" stroke="#ffffff" stroke-opacity="0.25" stroke-width="0.4"/>
<line x1="326.08" y1="638.1" x2="326.08" y2="644.2" stroke="#ffffff" stroke-opacity="0.25" stroke-width="0.4"/>
<line x1="332.86" y1="638.1" x2="332.86" y2="644.2" stroke="#ffffff" stroke-opacity="0.25" stroke-width="0.4"/>
<line x1="339.65" y1="638.1" x2="339.65" y2="644.2" stroke="#ffffff" stroke-opacity="0.25" stroke-width="0.4"/>
<line x1="346.44" y1="638.1" x2="346.44" y2="644.2" stroke="#ffffff" stroke-opacity="0.25" stroke-width="0.4"/>
<line x1="353.22" y1="638.1" x2="353.22" y2="644.2" stroke="#ffffff" stroke-opacity="0.25" stroke-width="0.4"/>
<line x1="360.01" y1="638.1" x2="360.01" y2="644.2" stroke="#ffffff" stroke-opacity="0.25" stroke-width="0.4"/>
<line x1="366.79" y1="638.1" x2="366.79" y2="644.2" stroke="#ffffff" stroke-opacity="0.25" stroke-width="0.4"/>
<line x1="373.58" y1="638.1" x2="373.58" y2="644.2" stroke="#ffffff" stroke-opacity="0.25" stroke-width="0.4"/>
<line x1="380.37" y1="638.1" x2="380.37" y2="644.2" stroke="#ffffff" stroke-opacity="0.25" stroke-width="0.4"/>
<line x1="387.15" y1="638.1" x2="387.15" y2="644.2" stroke="#ffffff" stroke-opacity="0.25" stroke-width="0.4"/>
<line x1="393.94" y1="638.1" x2="393.94" y2="644.2" stroke="#ffffff" stroke-opacity="0.25" stroke-width="0.4"/>
<line x1="400.72" y1="638.1" x2="400.72" y2="644.2" stroke="#ffffff" stroke-opacity="0.25" stroke-width="0.4"/>
<line x1="407.51" y1="638.1" x2="407.51" y2="644.2" stroke="#ffffff" stroke-opacity="0.25" stroke-width="0.4"/>
<line x1="414.3" y1="638.1" x2="414.3" y2="644.2" stroke="#ffffff" stroke-opacity="0.25" stroke-width="0.4"/>
<line x1="421.08" y1="638.1" x2="421.08" y2="644.2" stroke="#ffffff" stroke-opacity="0.25" stroke-width="0.4"/>
<line x1="427.87" y1="638.1" x2="427.87" y2="644.2" stroke="#ffffff" stroke-opacity="0.25" stroke-width="0.4"/>
<line x1="434.65" y1="638.1" x2="434.65" y2="644.2" stroke="#ffffff" stroke-opacity="0.25" stroke-width="0.4"/>
<line x1="441.44" y1="638.1" x2="441.44" y2="644.2" stroke="#ffffff" stroke-opacity="0.25" stroke-width="0.4"/>
<line x1="448.23" y1="638.1" x2="448.23" y2="644.2" stroke="#ffffff" stroke-opacity="0.25" stroke-width="0.4"/>
<line x1="455.01" y1="638.1" x2="455.01" y2="644.2" stroke="#ffffff" stroke-opacity="0.25" stroke-width="0.4"/>
<rect x="13.3" y="461.25" width="27.5" height="2.94" fill="#ffffff" stroke="#6d8de0" stroke-width="0.55"/>
<rect x="33.6" y="461.5" width="1.65" height="2.44" fill="#f25a12" />
<rect x="35.25" y="461.5" width="5.55" height="2.44" fill="#80ea2c" />
<rect x="13.3" y="464.69" width="27.5" height="2.94" fill="#ffffff" stroke="#6d8de0" stroke-width="0.55"/>
<rect x="35.51" y="464.94" width="1.52" height="2.44" fill="#f25a12" />
<rect x="37.03" y="464.94" width="3.77" height="2.44" fill="#80ea2c" />
<rect x="13.3" y="468.12" width="27.5" height="2.94" fill="#ffffff" stroke="#6d8de0" stroke-width="0.55"/>
<rect x="31.96" y="468.37" width="3.3" height="2.44" fill="#f25a12" />
<rect x="35.25" y="468.37" width="5.55" height="2.44" fill="#80ea2c" />
<rect x="13.3" y="471.56" width="27.5" height="2.94" fill="#ffffff" stroke="#6d8de0" stroke-width="0.55"/>
<rect x="26.38" y="471.81" width="6.85" height="2.44" fill="#f25a12" />
<rect x="33.22" y="471.81" width="7.58" height="2.44" fill="#80ea2c" />
<rect x="13.3" y="474.99" width="27.5" height="2.94" fill="#ffffff" stroke="#6d8de0" stroke-width="0.55"/>
<rect x="24.35" y="475.24" width="16.45" height="2.44" fill="#f25a12" />
<rect x="13.3" y="478.43" width="27.5" height="2.94" fill="#ffffff" stroke="#6d8de0" stroke-width="0.55"/>
<rect x="27.9" y="478.68" width="10.78" height="2.44" fill="#f25a12" />
<rect x="38.68" y="478.68" width="2.12" height="2.44" fill="#80ea2c" />
<rect x="13.3" y="481.87" width="27.5" height="2.94" fill="#ffffff" stroke="#6d8de0" stroke-width="0.55"/>
<rect x="37.41" y="482.12" width="3.39" height="2.44" fill="#f25a12" />
<rect x="13.3" y="485.3" width="27.5" height="2.94" fill="#ffffff" stroke="#6d8de0" stroke-width="0.55"/>
<rect x="33.22" y="485.55" width="7.58" height="2.44" fill="#f25a12" />
<rect x="13.3" y="488.74" width="27.5" height="2.94" fill="#ffffff" stroke="#6d8de0" stroke-width="0.55"/>
<rect x="37.41" y="488.99" width="1.27" height="2.44" fill="#f25a12" />
<rect x="38.68" y="488.99" width="2.12" height="2.44" fill="#80ea2c" />
<rect x="13.3" y="492.17" width="27.5" height="2.94" fill="#ffffff" stroke="#6d8de0" stroke-width="0.55"/>
<rect x="35.51" y="492.42" width="1.52" height="2.44" fill="#f25a12" />
<rect x="37.03" y="492.42" width="3.77" height="2.44" fill="#80ea2c" />
<rect x="13.3" y="495.61" width="27.5" height="2.94" fill="#ffffff" stroke="#6d8de0" stroke-width="0.55"/>
<rect x="28.15" y="495.86" width="10.52" height="2.44" fill="#f25a12" />
<rect x="38.68" y="495.86" width="2.12" height="2.44" fill="#80ea2c" />
<rect x="13.3" y="499.05" width="27.5" height="2.94" fill="#ffffff" stroke="#6d8de0" stroke-width="0.55"/>
<rect x="35.51" y="499.3" width="1.52" height="2.44" fill="#f25a12" />
<rect x="37.03" y="499.3" width="3.77" height="2.44" fill="#80ea2c" />
<rect x="13.3" y="502.48" width="27.5" height="2.94" fill="#ffffff" stroke="#6d8de0" stroke-width="0.55"/>
<rect x="13.31" y="502.73" width="27.49" height="2.44" fill="#f25a12" />
<rect x="13.3" y="505.92" width="27.5" height="2.94" fill="#ffffff" stroke="#6d8de0" stroke-width="0.55"/>
<rect x="35.51" y="506.17" width="5.29" height="2.44" fill="#f25a12" />
<rect x="13.3" y="509.35" width="27.5" height="2.94" fill="#ffffff" stroke="#6d8de0" stroke-width="0.55"/>
<rect x="33.6" y="509.6" width="7.2" height="2.44" fill="#f25a12" />
<rect x="13.3" y="512.79" width="27.5" height="2.94" fill="#ffffff" stroke="#6d8de0" stroke-width="0.55"/>
<rect x="15.22" y="513.04" width="16.48" height="2.44" fill="#f25a12" />
<rect x="31.7" y="513.04" width="9.1" height="2.44" fill="#80ea2c" />
<rect x="13.3" y="516.23" width="27.5" height="2.94" fill="#ffffff" stroke="#6d8de0" stroke-width="0.55"/>
<rect x="26.38" y="516.48" width="12.3" height="2.44" fill="#f25a12" />
<rect x="38.68" y="516.48" width="2.12" height="2.44" fill="#80ea2c" />
<rect x="13.3" y="519.66" width="27.5" height="2.94" fill="#ffffff" stroke="#6d8de0" stroke-width="0.55"/>
<rect x="29.8" y="519.91" width="11" height="2.44" fill="#f25a12" />
<rect x="13.3" y="523.1" width="27.5" height="2.94" fill="#ffffff" stroke="#6d8de0" stroke-width="0.55"/>
<rect x="38.68" y="523.35" width="2.12" height="2.44" fill="#80ea2c" />
<rect x="13.3" y="526.53" width="27.5" height="2.94" fill="#ffffff" stroke="#6d8de0" stroke-width="0.55"/>
<rect x="38.68" y="526.78" width="2.12" height="2.44" fill="#80ea2c" />
<rect x="13.3" y="529.97" width="27.5" height="2.94" fill="#ffffff" stroke="#6d8de0" stroke-width="0.55"/>
<rect x="26.38" y="530.22" width="14.42" height="2.44" fill="#f25a12" />
<rect x="13.3" y="533.41" width="27.5" height="2.94" fill="#ffffff" stroke="#6d8de0" stroke-width="0.55"/>
<rect x="38.68" y="533.66" width="2.12" height="2.44" fill="#f25a12" />
<rect x="13.3" y="536.84" width="27.5" height="2.94" fill="#ffffff" stroke="#6d8de0" stroke-width="0.55"/>
<rect x="24.35" y="537.09" width="14.33" height="2.44" fill="#f25a12" />
<rect x="38.68" y="537.09" width="2.12" height="2.44" fill="#80ea2c" />
<rect x="13.3" y="540.28" width="27.5" height="2.94" fill="#ffffff" stroke="#6d8de0" stroke-width="0.55"/>
<rect x="31.96" y="540.53" width="8.84" height="2.44" fill="#f25a12" />
<rect x="13.3" y="543.71" width="27.5" height="2.94" fill="#ffffff" stroke="#6d8de0" stroke-width="0.55"/>
<rect x="22.57" y="543.96" width="16.1" height="2.44" fill="#f25a12" />
<rect x="38.68" y="543.96" width="2.12" height="2.44" fill="#80ea2c" />
<rect x="13.3" y="547.15" width="27.5" height="2.94" fill="#ffffff" stroke="#6d8de0" stroke-width="0.55"/>
<rect x="27.9" y="547.4" width="12.9" height="2.44" fill="#f25a12" />
<rect x="13.3" y="550.59" width="27.5" height="2.94" fill="#ffffff" stroke="#6d8de0" stroke-width="0.55"/>
<rect x="26.38" y="550.84" width="14.42" height="2.44" fill="#f25a12" />
<rect x="13.3" y="554.02" width="27.5" height="2.94" fill="#ffffff" stroke="#6d8de0" stroke-width="0.55"/>
<rect x="31.96" y="554.27" width="8.84" height="2.44" fill="#f25a12" />
<rect x="13.3" y="557.46" width="27.5" height="2.94" fill="#ffffff" stroke="#6d8de0" stroke-width="0.55"/>
<rect x="35.51" y="557.71" width="5.29" height="2.44" fill="#f25a12" />
<rect x="13.3" y="560.89" width="27.5" height="2.94" fill="#ffffff" stroke="#6d8de0" stroke-width="0.55"/>
<rect x="26.38" y="561.14" width="14.42" height="2.44" fill="#f25a12" />
<rect x="13.3" y="564.33" width="27.5" height="2.94" fill="#ffffff" stroke="#6d8de0" stroke-width="0.55"/>
<rect x="28.15" y="564.58" width="10.52" height="2.44" fill="#f25a12" />
<rect x="38.68" y="564.58" width="2.12" height="2.44" fill="#80ea2c" />
<rect x="13.3" y="567.77" width="27.5" height="2.94" fill="#ffffff" stroke="#6d8de0" stroke-width="0.55"/>
<rect x="38.68" y="568.02" width="2.12" height="2.44" fill="#f25a12" />
<rect x="13.3" y="571.2" width="27.5" height="2.94" fill="#ffffff" stroke="#6d8de0" stroke-width="0.55"/>
<rect x="35.51" y="571.45" width="5.29" height="2.44" fill="#f25a12" />
<rect x="13.3" y="574.64" width="27.5" height="2.94" fill="#ffffff" stroke="#6d8de0" stroke-width="0.55"/>
<rect x="31.96" y="574.89" width="8.84" height="2.44" fill="#f25a12" />
<rect x="13.3" y="578.07" width="27.5" height="2.94" fill="#ffffff" stroke="#6d8de0" stroke-width="0.55"/>
<rect x="38.68" y="578.32" width="2.12" height="2.44" fill="#f25a12" />
<rect x="13.3" y="581.51" width="27.5" height="2.94" fill="#ffffff" stroke="#6d8de0" stroke-width="0.55"/>
<rect x="28.15" y="581.76" width="10.52" height="2.44" fill="#f25a12" />
<rect x="38.68" y="581.76" width="2.12" height="2.44" fill="#80ea2c" />
<rect x="13.3" y="584.95" width="27.5" height="2.94" fill="#ffffff" stroke="#6d8de0" stroke-width="0.55"/>
<rect x="25.11" y="585.2" width="15.69" height="2.44" fill="#f25a12" />
<rect x="13.3" y="588.38" width="27.5" height="2.94" fill="#ffffff" stroke="#6d8de0" stroke-width="0.55"/>
<rect x="35.51" y="588.63" width="5.29" height="2.44" fill="#f25a12" />
<rect x="13.3" y="591.82" width="27.5" height="2.94" fill="#ffffff" stroke="#6d8de0" stroke-width="0.55"/>
<rect x="37.41" y="592.07" width="3.39" height="2.44" fill="#f25a12" />
<rect x="13.3" y="595.25" width="27.5" height="2.94" fill="#ffffff" stroke="#6d8de0" stroke-width="0.55"/>
<rect x="33.22" y="595.5" width="7.58" height="2.44" fill="#f25a12" />
<rect x="13.3" y="598.69" width="27.5" height="2.94" fill="#ffffff" stroke="#6d8de0" stroke-width="0.55"/>
<rect x="38.68" y="598.94" width="2.12" height="2.44" fill="#f25a12" />
<rect x="13.3" y="602.13" width="27.5" height="2.94" fill="#ffffff" stroke="#6d8de0" stroke-width="0.55"/>
<rect x="33.22" y="602.38" width="7.58" height="2.44" fill="#f25a12" />
<rect x="13.3" y="605.56" width="27.5" height="2.94" fill="#ffffff" stroke="#6d8de0" stroke-width="0.55"/>
<rect x="19.02" y="605.81" width="21.78" height="2.44" fill="#f25a12" />
<rect x="13.3" y="609" width="27.5" height="2.94" fill="#ffffff" stroke="#6d8de0" stroke-width="0.55"/>
<rect x="37.41" y="609.25" width="3.39" height="2.44" fill="#f25a12" />
<rect x="13.3" y="612.43" width="27.5" height="2.94" fill="#ffffff" stroke="#6d8de0" stroke-width="0.55"/>
<rect x="19.02" y="612.68" width="19.66" height="2.44" fill="#f25a12" />
<rect x="38.68" y="612.68" width="2.12" height="2.44" fill="#80ea2c" />
<rect x="13.3" y="615.87" width="27.5" height="2.94" fill="#ffffff" stroke="#6d8de0" stroke-width="0.55"/>
<rect x="33.22" y="616.12" width="7.58" height="2.44" fill="#f25a12" />
<rect x="13.3" y="619.31" width="27.5" height="2.94" fill="#ffffff" stroke="#6d8de0" stroke-width="0.55"/>
<rect x="38.68" y="619.56" width="2.12" height="2.44" fill="#f25a12" />
<rect x="13.3" y="622.74" width="27.5" height="2.94" fill="#ffffff" stroke="#6d8de0" stroke-width="0.55"/>
<rect x="35.51" y="622.99" width="5.29" height="2.44" fill="#f25a12" />
<rect x="13.3" y="626.18" width="27.5" height="2.94" fill="#ffffff" stroke="#6d8de0" stroke-width="0.55"/>
<rect x="37.41" y="626.43" width="3.39" height="2.44" fill="#f25a12" />
<rect x="13.3" y="629.61" width="27.5" height="2.94" fill="#ffffff" stroke="#6d8de0" stroke-width="0.55"/>
<rect x="38.68" y="629.86" width="2.12" height="2.44" fill="#80ea2c" />
<rect x="13.3" y="633.05" width="27.5" height="2.94" fill="#ffffff" stroke="#6d8de0" stroke-width="0.55"/>
<rect x="31.96" y="633.3" width="8.84" height="2.44" fill="#f25a12" />
<line x1="13.3" y1="461.0" x2="13.3" y2="636.236" stroke="#5f82dc" stroke-width="0.8"/>
<rect x="477.4" y="461.25" width="27.3" height="2.94" fill="#ffffff" stroke="#6d8de0" stroke-width="0.55"/>
<rect x="477.4" y="461.5" width="10.8" height="2.44" fill="#80ea2c" />
<rect x="488.2" y="461.5" width="1.01" height="2.44" fill="#f25a12" />
<rect x="477.4" y="464.69" width="27.3" height="2.94" fill="#ffffff" stroke="#6d8de0" stroke-width="0.55"/>
<rect x="477.4" y="464.94" width="9.03" height="2.44" fill="#80ea2c" />
<rect x="486.43" y="464.94" width="0.63" height="2.44" fill="#f25a12" />
<rect x="477.4" y="468.12" width="27.3" height="2.94" fill="#ffffff" stroke="#6d8de0" stroke-width="0.55"/>
<rect x="477.4" y="468.37" width="5.22" height="2.44" fill="#80ea2c" />
<rect x="482.62" y="468.37" width="1.27" height="2.44" fill="#f25a12" />
<rect x="477.4" y="471.56" width="27.3" height="2.94" fill="#ffffff" stroke="#6d8de0" stroke-width="0.55"/>
<rect x="477.4" y="471.81" width="1.42" height="2.44" fill="#80ea2c" />
<rect x="478.82" y="471.81" width="7.86" height="2.44" fill="#f25a12" />
<rect x="477.4" y="474.99" width="27.3" height="2.94" fill="#ffffff" stroke="#6d8de0" stroke-width="0.55"/>
<rect x="477.4" y="475.24" width="2.94" height="2.44" fill="#f25a12" />
<rect x="477.4" y="478.43" width="27.3" height="2.94" fill="#ffffff" stroke="#6d8de0" stroke-width="0.55"/>
<rect x="477.4" y="478.68" width="9.28" height="2.44" fill="#f25a12" />
<rect x="477.4" y="481.87" width="27.3" height="2.94" fill="#ffffff" stroke="#6d8de0" stroke-width="0.55"/>
<rect x="477.4" y="482.12" width="1.42" height="2.44" fill="#f25a12" />
<rect x="477.4" y="485.3" width="27.3" height="2.94" fill="#ffffff" stroke="#6d8de0" stroke-width="0.55"/>
<rect x="477.4" y="485.55" width="1.67" height="2.44" fill="#80ea2c" />
<rect x="479.07" y="485.55" width="5.71" height="2.44" fill="#f25a12" />
<rect x="477.4" y="488.74" width="27.3" height="2.94" fill="#ffffff" stroke="#6d8de0" stroke-width="0.55"/>
<rect x="477.4" y="488.99" width="1.42" height="2.44" fill="#f25a12" />
<rect x="477.4" y="492.17" width="27.3" height="2.94" fill="#ffffff" stroke="#6d8de0" stroke-width="0.55"/>
<rect x="477.4" y="492.42" width="1.93" height="2.44" fill="#80ea2c" />
<rect x="479.33" y="492.42" width="1.27" height="2.44" fill="#f25a12" />
<rect x="477.4" y="495.61" width="27.3" height="2.94" fill="#ffffff" stroke="#6d8de0" stroke-width="0.55"/>
<rect x="477.4" y="495.86" width="1.42" height="2.44" fill="#f25a12" />
<rect x="477.4" y="499.05" width="27.3" height="2.94" fill="#ffffff" stroke="#6d8de0" stroke-width="0.55"/>
<rect x="477.4" y="499.3" width="4.21" height="2.44" fill="#f25a12" />
<rect x="477.4" y="502.48" width="27.3" height="2.94" fill="#ffffff" stroke="#6d8de0" stroke-width="0.55"/>
<rect x="477.4" y="502.73" width="10.55" height="2.44" fill="#f25a12" />
<rect x="477.4" y="505.92" width="27.3" height="2.94" fill="#ffffff" stroke="#6d8de0" stroke-width="0.55"/>
<rect x="477.4" y="506.17" width="4.21" height="2.44" fill="#f25a12" />
<rect x="477.4" y="509.35" width="27.3" height="2.94" fill="#ffffff" stroke="#6d8de0" stroke-width="0.55"/>
<rect x="477.4" y="509.6" width="1.42" height="2.44" fill="#80ea2c" />
<rect x="478.82" y="509.6" width="2.79" height="2.44" fill="#f25a12" />
<rect x="477.4" y="512.79" width="27.3" height="2.94" fill="#ffffff" stroke="#6d8de0" stroke-width="0.55"/>
<rect x="477.4" y="513.04" width="3.19" height="2.44" fill="#80ea2c" />
<rect x="480.59" y="513.04" width="12.17" height="2.44" fill="#f25a12" />
<rect x="477.4" y="516.23" width="27.3" height="2.94" fill="#ffffff" stroke="#6d8de0" stroke-width="0.55"/>
<rect x="477.4" y="516.48" width="1.42" height="2.44" fill="#80ea2c" />
<rect x="478.82" y="516.48" width="3.8" height="2.44" fill="#f25a12" />
<rect x="477.4" y="519.66" width="27.3" height="2.94" fill="#ffffff" stroke="#6d8de0" stroke-width="0.55"/>
<rect x="477.4" y="519.91" width="2.94" height="2.44" fill="#f25a12" />
<rect x="477.4" y="523.1" width="27.3" height="2.94" fill="#ffffff" stroke="#6d8de0" stroke-width="0.55"/>
<rect x="477.4" y="523.35" width="0.4" height="2.44" fill="#f25a12" />
<rect x="477.4" y="526.53" width="27.3" height="2.94" fill="#ffffff" stroke="#6d8de0" stroke-width="0.55"/>
<rect x="477.4" y="526.78" width="5.48" height="2.44" fill="#f25a12" />
<rect x="477.4" y="529.97" width="27.3" height="2.94" fill="#ffffff" stroke="#6d8de0" stroke-width="0.55"/>
<rect x="477.4" y="530.22" width="5.48" height="2.44" fill="#f25a12" />
<rect x="477.4" y="533.41" width="27.3" height="2.94" fill="#ffffff" stroke="#6d8de0" stroke-width="0.55"/>
<rect x="477.4" y="533.66" width="1.42" height="2.44" fill="#80ea2c" />
<rect x="478.82" y="533.66" width="1.78" height="2.44" fill="#f25a12" />
<rect x="477.4" y="536.84" width="27.3" height="2.94" fill="#ffffff" stroke="#6d8de0" stroke-width="0.55"/>
<rect x="477.4" y="537.09" width="8.01" height="2.44" fill="#f25a12" />
<rect x="477.4" y="540.28" width="27.3" height="2.94" fill="#ffffff" stroke="#6d8de0" stroke-width="0.55"/>
<rect x="477.4" y="540.53" width="3.19" height="2.44" fill="#f25a12" />
<rect x="477.4" y="543.71" width="27.3" height="2.94" fill="#ffffff" stroke="#6d8de0" stroke-width="0.55"/>
<rect x="477.4" y="543.96" width="6.11" height="2.44" fill="#f25a12" />
<rect x="477.4" y="547.15" width="27.3" height="2.94" fill="#ffffff" stroke="#6d8de0" stroke-width="0.55"/>
<rect x="477.4" y="547.4" width="3.57" height="2.44" fill="#f25a12" />
<rect x="477.4" y="550.59" width="27.3" height="2.94" fill="#ffffff" stroke="#6d8de0" stroke-width="0.55"/>
<rect x="477.4" y="550.84" width="10.8" height="2.44" fill="#f25a12" />
<rect x="477.4" y="554.02" width="27.3" height="2.94" fill="#ffffff" stroke="#6d8de0" stroke-width="0.55"/>
<rect x="477.4" y="554.27" width="1.67" height="2.44" fill="#80ea2c" />
<rect x="479.07" y="554.27" width="5.71" height="2.44" fill="#f25a12" />
<rect x="477.4" y="557.46" width="27.3" height="2.94" fill="#ffffff" stroke="#6d8de0" stroke-width="0.55"/>
<rect x="477.4" y="557.71" width="1.42" height="2.44" fill="#f25a12" />
<rect x="477.4" y="560.89" width="27.3" height="2.94" fill="#ffffff" stroke="#6d8de0" stroke-width="0.55"/>
<rect x="477.4" y="561.14" width="3.57" height="2.44" fill="#f25a12" />
<rect x="477.4" y="564.33" width="27.3" height="2.94" fill="#ffffff" stroke="#6d8de0" stroke-width="0.55"/>
<rect x="477.4" y="564.58" width="1.42" height="2.44" fill="#80ea2c" />
<rect x="478.82" y="564.58" width="3.04" height="2.44" fill="#f25a12" />
<rect x="477.4" y="567.77" width="27.3" height="2.94" fill="#ffffff" stroke="#6d8de0" stroke-width="0.55"/>
<rect x="477.4" y="568.02" width="1.67" height="2.44" fill="#f25a12" />
<rect x="477.4" y="571.2" width="27.3" height="2.94" fill="#ffffff" stroke="#6d8de0" stroke-width="0.55"/>
<rect x="477.4" y="571.45" width="1.42" height="2.44" fill="#80ea2c" />
<rect x="478.82" y="571.45" width="1.52" height="2.44" fill="#f25a12" />
<rect x="477.4" y="574.64" width="27.3" height="2.94" fill="#ffffff" stroke="#6d8de0" stroke-width="0.55"/>
<rect x="477.4" y="574.89" width="7.38" height="2.44" fill="#f25a12" />
<rect x="477.4" y="578.07" width="27.3" height="2.94" fill="#ffffff" stroke="#6d8de0" stroke-width="0.55"/>
<rect x="477.4" y="578.32" width="2.31" height="2.44" fill="#f25a12" />
<rect x="477.4" y="581.51" width="27.3" height="2.94" fill="#ffffff" stroke="#6d8de0" stroke-width="0.55"/>
<rect x="477.4" y="581.76" width="1.67" height="2.44" fill="#80ea2c" />
<rect x="479.07" y="581.76" width="5.33" height="2.44" fill="#f25a12" />
<rect x="477.4" y="584.95" width="27.3" height="2.94" fill="#ffffff" stroke="#6d8de0" stroke-width="0.55"/>
<rect x="477.4" y="585.2" width="1.67" height="2.44" fill="#80ea2c" />
<rect x="479.07" y="585.2" width="3.55" height="2.44" fill="#f25a12" />
<rect x="477.4" y="588.38" width="27.3" height="2.94" fill="#ffffff" stroke="#6d8de0" stroke-width="0.55"/>
<rect x="477.4" y="588.63" width="6.49" height="2.44" fill="#f25a12" />
<rect x="477.4" y="591.82" width="27.3" height="2.94" fill="#ffffff" stroke="#6d8de0" stroke-width="0.55"/>
<rect x="477.4" y="592.07" width="1.42" height="2.44" fill="#f25a12" />
<rect x="477.4" y="595.25" width="27.3" height="2.94" fill="#ffffff" stroke="#6d8de0" stroke-width="0.55"/>
<rect x="477.4" y="595.5" width="3.19" height="2.44" fill="#f25a12" />
<rect x="477.4" y="598.69" width="27.3" height="2.94" fill="#ffffff" stroke="#6d8de0" stroke-width="0.55"/>
<rect x="477.4" y="598.94" width="0.28" height="2.44" fill="#f25a12" />
<rect x="477.4" y="602.13" width="27.3" height="2.94" fill="#ffffff" stroke="#6d8de0" stroke-width="0.55"/>
<rect x="477.4" y="602.38" width="0.66" height="2.44" fill="#f25a12" />
<rect x="477.4" y="605.56" width="27.3" height="2.94" fill="#ffffff" stroke="#6d8de0" stroke-width="0.55"/>
<rect x="477.4" y="605.81" width="9.91" height="2.44" fill="#f25a12" />
<rect x="477.4" y="609" width="27.3" height="2.94" fill="#ffffff" stroke="#6d8de0" stroke-width="0.55"/>
<rect x="477.4" y="609.25" width="1.67" height="2.44" fill="#f25a12" />
<rect x="477.4" y="612.43" width="27.3" height="2.94" fill="#ffffff" stroke="#6d8de0" stroke-width="0.55"/>
<rect x="477.4" y="612.68" width="20.95" height="2.44" fill="#f25a12" />
<rect x="477.4" y="615.87" width="27.3" height="2.94" fill="#ffffff" stroke="#6d8de0" stroke-width="0.55"/>
<rect x="477.4" y="616.12" width="8.01" height="2.44" fill="#f25a12" />
<rect x="477.4" y="619.31" width="27.3" height="2.94" fill="#ffffff" stroke="#6d8de0" stroke-width="0.55"/>
<rect x="477.4" y="619.56" width="1.42" height="2.44" fill="#80ea2c" />
<rect x="478.82" y="619.56" width="0.89" height="2.44" fill="#f25a12" />
<rect x="477.4" y="622.74" width="27.3" height="2.94" fill="#ffffff" stroke="#6d8de0" stroke-width="0.55"/>
<rect x="477.4" y="622.99" width="1.67" height="2.44" fill="#f25a12" />
<rect x="477.4" y="626.18" width="27.3" height="2.94" fill="#ffffff" stroke="#6d8de0" stroke-width="0.55"/>
<rect x="477.4" y="626.43" width="2.94" height="2.44" fill="#f25a12" />
<rect x="477.4" y="629.61" width="27.3" height="2.94" fill="#ffffff" stroke="#6d8de0" stroke-width="0.55"/>
<rect x="477.4" y="629.86" width="0.28" height="2.44" fill="#f25a12" />
<rect x="477.4" y="633.05" width="27.3" height="2.94" fill="#ffffff" stroke="#6d8de0" stroke-width="0.55"/>
<rect x="477.4" y="633.3" width="3.57" height="2.44" fill="#f25a12" />
<line x1="477.4" y1="461.0" x2="477.4" y2="636.236" stroke="#5f82dc" stroke-width="0.8"/>
<text x="505.8" y="479.76" font-size="5.0" text-anchor="start" font-weight="normal" font-style="normal" fill="#f06a28" letter-spacing="-0.6">***</text>
<text x="505.8" y="500.38" font-size="5.0" text-anchor="start" font-weight="normal" font-style="normal" fill="#f06a28" letter-spacing="-0.6">***</text>
<text x="505.8" y="507.25" font-size="5.0" text-anchor="start" font-weight="normal" font-style="normal" fill="#f06a28" letter-spacing="-0.6">***</text>
<text x="505.8" y="517.56" font-size="5.0" text-anchor="start" font-weight="normal" font-style="normal" fill="#f06a28" letter-spacing="-0.6">***</text>
<text x="505.8" y="520.99" font-size="5.0" text-anchor="start" font-weight="normal" font-style="normal" fill="#f06a28" letter-spacing="-0.6">**</text>
<text x="505.8" y="524.43" font-size="5.0" text-anchor="start" font-weight="normal" font-style="normal" fill="#f06a28" letter-spacing="-0.6">*</text>
<text x="505.8" y="534.74" font-size="5.0" text-anchor="start" font-weight="normal" font-style="normal" fill="#f06a28" letter-spacing="-0.6">*</text>
<text x="505.8" y="541.61" font-size="5.0" text-anchor="start" font-weight="normal" font-style="normal" fill="#f06a28" letter-spacing="-0.6">*</text>
<text x="505.8" y="548.48" font-size="5.0" text-anchor="start" font-weight="normal" font-style="normal" fill="#f06a28" letter-spacing="-0.6">***</text>
<text x="505.8" y="551.92" font-size="5.0" text-anchor="start" font-weight="normal" font-style="normal" fill="#f06a28" letter-spacing="-0.6">***</text>
<text x="505.8" y="565.66" font-size="5.0" text-anchor="start" font-weight="normal" font-style="normal" fill="#f06a28" letter-spacing="-0.6">***</text>
<text x="505.8" y="569.1" font-size="5.0" text-anchor="start" font-weight="normal" font-style="normal" fill="#f06a28" letter-spacing="-0.6">**</text>
<text x="505.8" y="589.71" font-size="5.0" text-anchor="start" font-weight="normal" font-style="normal" fill="#f06a28" letter-spacing="-0.6">***</text>
<text x="505.8" y="603.46" font-size="5.0" text-anchor="start" font-weight="normal" font-style="normal" fill="#f06a28" letter-spacing="-0.6">*</text>
<text x="505.8" y="606.89" font-size="5.0" text-anchor="start" font-weight="normal" font-style="normal" fill="#f06a28" letter-spacing="-0.6">***</text>
<text x="505.8" y="610.33" font-size="5.0" text-anchor="start" font-weight="normal" font-style="normal" fill="#f06a28" letter-spacing="-0.6">***</text>
<text x="505.8" y="634.38" font-size="5.0" text-anchor="start" font-weight="normal" font-style="normal" fill="#f06a28" letter-spacing="-0.6">*</text>
<text x="10.2" y="476.33" font-size="5.0" text-anchor="middle" font-weight="normal" font-style="normal" fill="#58d020" letter-spacing="-0.6">**</text>
<text x="10.2" y="503.81" font-size="5.0" text-anchor="middle" font-weight="normal" font-style="normal" fill="#58d020" letter-spacing="-0.6">*</text>
<text x="10.2" y="517.56" font-size="5.0" text-anchor="middle" font-weight="normal" font-style="normal" fill="#58d020" letter-spacing="-0.6">*</text>
<text x="53.9" y="463.92" font-size="4.1" text-anchor="end" font-weight="normal" font-style="italic" fill="#111" >73%</text>
<text x="473.7" y="463.92" font-size="4.1" text-anchor="end" font-weight="normal" font-style="italic" fill="#111" >21%</text>
<text x="167.4" y="463.92" font-size="3.9" text-anchor="end" font-weight="normal" font-style="italic" fill="#000" >KRAS</text>
<text x="53.9" y="467.36" font-size="4.1" text-anchor="end" font-weight="normal" font-style="italic" fill="#111" >87%</text>
<text x="473.7" y="467.36" font-size="4.1" text-anchor="end" font-weight="normal" font-style="italic" fill="#111" >23%</text>
<text x="167.4" y="467.36" font-size="3.9" text-anchor="end" font-weight="normal" font-style="italic" fill="#000" >NRAS</text>
<text x="53.9" y="470.79" font-size="4.1" text-anchor="end" font-weight="normal" font-style="italic" fill="#111" >87%</text>
<text x="473.7" y="470.79" font-size="4.1" text-anchor="end" font-weight="normal" font-style="italic" fill="#111" >45%</text>
<text x="167.4" y="470.79" font-size="3.9" text-anchor="end" font-weight="normal" font-style="italic" fill="#000" >TP53</text>
<text x="53.9" y="474.23" font-size="4.1" text-anchor="end" font-weight="normal" font-style="italic" fill="#111" >87%</text>
<text x="473.7" y="474.23" font-size="4.1" text-anchor="end" font-weight="normal" font-style="italic" fill="#111" >35%</text>
<text x="167.4" y="474.23" font-size="3.9" text-anchor="end" font-weight="normal" font-style="italic" fill="#000" >BRAF</text>
<text x="53.9" y="477.66" font-size="4.1" text-anchor="end" font-weight="normal" font-style="italic" fill="#111" >67%</text>
<text x="473.7" y="477.66" font-size="4.1" text-anchor="end" font-weight="normal" font-style="italic" fill="#111" >12%</text>
<text x="167.4" y="477.66" font-size="3.9" text-anchor="end" font-weight="normal" font-style="italic" fill="#000" >TRAF3</text>
<text x="53.9" y="481.1" font-size="4.1" text-anchor="end" font-weight="normal" font-style="italic" fill="#111" >60%</text>
<text x="473.7" y="481.1" font-size="4.1" text-anchor="end" font-weight="normal" font-style="italic" fill="#111" >42%</text>
<text x="167.4" y="481.1" font-size="3.9" text-anchor="end" font-weight="normal" font-style="italic" fill="#000" >ATM</text>
<text x="53.9" y="484.54" font-size="4.1" text-anchor="end" font-weight="normal" font-style="italic" fill="#111" >33%</text>
<text x="473.7" y="484.54" font-size="4.1" text-anchor="end" font-weight="normal" font-style="italic" fill="#111" >35%</text>
<text x="167.4" y="484.54" font-size="3.9" text-anchor="end" font-weight="normal" font-style="italic" fill="#000" >FGFR3</text>
<text x="53.9" y="487.97" font-size="4.1" text-anchor="end" font-weight="normal" font-style="italic" fill="#111" >13%</text>
<text x="473.7" y="487.97" font-size="4.1" text-anchor="end" font-weight="normal" font-style="italic" fill="#111" >16%</text>
<text x="167.4" y="487.97" font-size="3.9" text-anchor="end" font-weight="normal" font-style="italic" fill="#000" >CDKN2C</text>
<text x="53.9" y="491.41" font-size="4.1" text-anchor="end" font-weight="normal" font-style="italic" fill="#111" >20%</text>
<text x="473.7" y="491.41" font-size="4.1" text-anchor="end" font-weight="normal" font-style="italic" fill="#111" >23%</text>
<text x="167.4" y="491.41" font-size="3.9" text-anchor="end" font-weight="normal" font-style="italic" fill="#000" >MAX</text>
<text x="53.9" y="494.84" font-size="4.1" text-anchor="end" font-weight="normal" font-style="italic" fill="#111" >60%</text>
<text x="473.7" y="494.84" font-size="4.1" text-anchor="end" font-weight="normal" font-style="italic" fill="#111" >45%</text>
<text x="167.4" y="494.84" font-size="3.9" text-anchor="end" font-weight="normal" font-style="italic" fill="#000" >IRF4</text>
<text x="53.9" y="498.28" font-size="4.1" text-anchor="end" font-weight="normal" font-style="italic" fill="#111" >33%</text>
<text x="473.7" y="498.28" font-size="4.1" text-anchor="end" font-weight="normal" font-style="italic" fill="#111" >26%</text>
<text x="167.4" y="498.28" font-size="3.9" text-anchor="end" font-weight="normal" font-style="italic" fill="#000" >ZNF292</text>
<text x="53.9" y="501.72" font-size="4.1" text-anchor="end" font-weight="normal" font-style="italic" fill="#111" >67%</text>
<text x="473.7" y="501.72" font-size="4.1" text-anchor="end" font-weight="normal" font-style="italic" fill="#111" >14%</text>
<text x="167.4" y="501.72" font-size="3.9" text-anchor="end" font-weight="normal" font-style="italic" fill="#000" >KLHL6</text>
<text x="53.9" y="505.15" font-size="4.1" text-anchor="end" font-weight="normal" font-style="italic" fill="#111" >73%</text>
<text x="473.7" y="505.15" font-size="4.1" text-anchor="end" font-weight="normal" font-style="italic" fill="#111" >19%</text>
<text x="167.4" y="505.15" font-size="3.9" text-anchor="end" font-weight="normal" font-style="italic" fill="#000" >KMT2C</text>
<text x="53.9" y="508.59" font-size="4.1" text-anchor="end" font-weight="normal" font-style="italic" fill="#111" >13%</text>
<text x="473.7" y="508.59" font-size="4.1" text-anchor="end" font-weight="normal" font-style="italic" fill="#111" >40%</text>
<text x="167.4" y="508.59" font-size="3.9" text-anchor="end" font-weight="normal" font-style="italic" fill="#000" >SP140</text>
<text x="53.9" y="512.02" font-size="4.1" text-anchor="end" font-weight="normal" font-style="italic" fill="#111" >33%</text>
<text x="473.7" y="512.02" font-size="4.1" text-anchor="end" font-weight="normal" font-style="italic" fill="#111" >26%</text>
<text x="167.4" y="512.02" font-size="3.9" text-anchor="end" font-weight="normal" font-style="italic" fill="#000" >NCOA6</text>
<text x="53.9" y="515.46" font-size="4.1" text-anchor="end" font-weight="normal" font-style="italic" fill="#111" >40%</text>
<text x="473.7" y="515.46" font-size="4.1" text-anchor="end" font-weight="normal" font-style="italic" fill="#111" >16%</text>
<text x="167.4" y="515.46" font-size="3.9" text-anchor="end" font-weight="normal" font-style="italic" fill="#000" >CCND1</text>
<text x="53.9" y="518.9" font-size="4.1" text-anchor="end" font-weight="normal" font-style="italic" fill="#111" >53%</text>
<text x="473.7" y="518.9" font-size="4.1" text-anchor="end" font-weight="normal" font-style="italic" fill="#111" >16%</text>
<text x="167.4" y="518.9" font-size="3.9" text-anchor="end" font-weight="normal" font-style="italic" fill="#000" >DUSP2</text>
<text x="53.9" y="522.33" font-size="4.1" text-anchor="end" font-weight="normal" font-style="italic" fill="#111" >20%</text>
<text x="473.7" y="522.33" font-size="4.1" text-anchor="end" font-weight="normal" font-style="italic" fill="#111" >16%</text>
<text x="167.4" y="522.33" font-size="3.9" text-anchor="end" font-weight="normal" font-style="italic" fill="#000" >CREBBP</text>
<text x="53.9" y="525.77" font-size="4.1" text-anchor="end" font-weight="normal" font-style="italic" fill="#111" >73%</text>
<text x="473.7" y="525.77" font-size="4.1" text-anchor="end" font-weight="normal" font-style="italic" fill="#111" >33%</text>
<text x="167.4" y="525.77" font-size="3.9" text-anchor="end" font-weight="normal" font-style="italic" fill="#000" >EGR1</text>
<text x="53.9" y="529.2" font-size="4.1" text-anchor="end" font-weight="normal" font-style="italic" fill="#111" >60%</text>
<text x="473.7" y="529.2" font-size="4.1" text-anchor="end" font-weight="normal" font-style="italic" fill="#111" >16%</text>
<text x="167.4" y="529.2" font-size="3.9" text-anchor="end" font-weight="normal" font-style="italic" fill="#000" >DIS3</text>
<text x="53.9" y="532.64" font-size="4.1" text-anchor="end" font-weight="normal" font-style="italic" fill="#111" >27%</text>
<text x="473.7" y="532.64" font-size="4.1" text-anchor="end" font-weight="normal" font-style="italic" fill="#111" >12%</text>
<text x="167.4" y="532.64" font-size="3.9" text-anchor="end" font-weight="normal" font-style="italic" fill="#000" >BTG1</text>
<text x="53.9" y="536.08" font-size="4.1" text-anchor="end" font-weight="normal" font-style="italic" fill="#111" >13%</text>
<text x="473.7" y="536.08" font-size="4.1" text-anchor="end" font-weight="normal" font-style="italic" fill="#111" >19%</text>
<text x="167.4" y="536.08" font-size="3.9" text-anchor="end" font-weight="normal" font-style="italic" fill="#000" >FAM46C</text>
<text x="53.9" y="539.51" font-size="4.1" text-anchor="end" font-weight="normal" font-style="italic" fill="#111" >33%</text>
<text x="473.7" y="539.51" font-size="4.1" text-anchor="end" font-weight="normal" font-style="italic" fill="#111" >16%</text>
<text x="167.4" y="539.51" font-size="3.9" text-anchor="end" font-weight="normal" font-style="italic" fill="#000" >KMT2D</text>
<text x="53.9" y="542.95" font-size="4.1" text-anchor="end" font-weight="normal" font-style="italic" fill="#111" >27%</text>
<text x="473.7" y="542.95" font-size="4.1" text-anchor="end" font-weight="normal" font-style="italic" fill="#111" >21%</text>
<text x="167.4" y="542.95" font-size="3.9" text-anchor="end" font-weight="normal" font-style="italic" fill="#000" >PRDM1</text>
<text x="53.9" y="546.38" font-size="4.1" text-anchor="end" font-weight="normal" font-style="italic" fill="#111" >47%</text>
<text x="473.7" y="546.38" font-size="4.1" text-anchor="end" font-weight="normal" font-style="italic" fill="#111" >19%</text>
<text x="167.4" y="546.38" font-size="3.9" text-anchor="end" font-weight="normal" font-style="italic" fill="#000" >TGDS</text>
<text x="53.9" y="549.82" font-size="4.1" text-anchor="end" font-weight="normal" font-style="italic" fill="#111" >67%</text>
<text x="473.7" y="549.82" font-size="4.1" text-anchor="end" font-weight="normal" font-style="italic" fill="#111" >35%</text>
<text x="167.4" y="549.82" font-size="3.9" text-anchor="end" font-weight="normal" font-style="italic" fill="#000" >HIST1H1E</text>
<text x="53.9" y="553.26" font-size="4.1" text-anchor="end" font-weight="normal" font-style="italic" fill="#111" >80%</text>
<text x="473.7" y="553.26" font-size="4.1" text-anchor="end" font-weight="normal" font-style="italic" fill="#111" >19%</text>
<text x="167.4" y="553.26" font-size="3.9" text-anchor="end" font-weight="normal" font-style="italic" fill="#000" >LTB</text>
<text x="53.9" y="556.69" font-size="4.1" text-anchor="end" font-weight="normal" font-style="italic" fill="#111" >27%</text>
<text x="473.7" y="556.69" font-size="4.1" text-anchor="end" font-weight="normal" font-style="italic" fill="#111" >40%</text>
<text x="167.4" y="556.69" font-size="3.9" text-anchor="end" font-weight="normal" font-style="italic" fill="#000" >SAMHD1</text>
<text x="53.9" y="560.13" font-size="4.1" text-anchor="end" font-weight="normal" font-style="italic" fill="#111" >33%</text>
<text x="473.7" y="560.13" font-size="4.1" text-anchor="end" font-weight="normal" font-style="italic" fill="#111" >26%</text>
<text x="167.4" y="560.13" font-size="3.9" text-anchor="end" font-weight="normal" font-style="italic" fill="#000" >KDM6A</text>
<text x="53.9" y="563.56" font-size="4.1" text-anchor="end" font-weight="normal" font-style="italic" fill="#111" >40%</text>
<text x="473.7" y="563.56" font-size="4.1" text-anchor="end" font-weight="normal" font-style="italic" fill="#111" >12%</text>
<text x="167.4" y="563.56" font-size="3.9" text-anchor="end" font-weight="normal" font-style="italic" fill="#000" >NFKBIA</text>
<text x="53.9" y="567" font-size="4.1" text-anchor="end" font-weight="normal" font-style="italic" fill="#111" >47%</text>
<text x="473.7" y="567" font-size="4.1" text-anchor="end" font-weight="normal" font-style="italic" fill="#111" >26%</text>
<text x="167.4" y="567" font-size="3.9" text-anchor="end" font-weight="normal" font-style="italic" fill="#000" >RB1</text>
<text x="53.9" y="570.44" font-size="4.1" text-anchor="end" font-weight="normal" font-style="italic" fill="#111" >27%</text>
<text x="473.7" y="570.44" font-size="4.1" text-anchor="end" font-weight="normal" font-style="italic" fill="#111" >16%</text>
<text x="167.4" y="570.44" font-size="3.9" text-anchor="end" font-weight="normal" font-style="italic" fill="#000" >CYLD</text>
<text x="53.9" y="573.87" font-size="4.1" text-anchor="end" font-weight="normal" font-style="italic" fill="#111" >40%</text>
<text x="473.7" y="573.87" font-size="4.1" text-anchor="end" font-weight="normal" font-style="italic" fill="#111" >14%</text>
<text x="167.4" y="573.87" font-size="3.9" text-anchor="end" font-weight="normal" font-style="italic" fill="#000" >PTPN11</text>
<text x="53.9" y="577.31" font-size="4.1" text-anchor="end" font-weight="normal" font-style="italic" fill="#111" >47%</text>
<text x="473.7" y="577.31" font-size="4.1" text-anchor="end" font-weight="normal" font-style="italic" fill="#111" >21%</text>
<text x="167.4" y="577.31" font-size="3.9" text-anchor="end" font-weight="normal" font-style="italic" fill="#000" >KMT2B</text>
<text x="53.9" y="580.74" font-size="4.1" text-anchor="end" font-weight="normal" font-style="italic" fill="#111" >73%</text>
<text x="473.7" y="580.74" font-size="4.1" text-anchor="end" font-weight="normal" font-style="italic" fill="#111" >33%</text>
<text x="167.4" y="580.74" font-size="3.9" text-anchor="end" font-weight="normal" font-style="italic" fill="#000" >MYC</text>
<text x="53.9" y="584.18" font-size="4.1" text-anchor="end" font-weight="normal" font-style="italic" fill="#111" >13%</text>
<text x="473.7" y="584.18" font-size="4.1" text-anchor="end" font-weight="normal" font-style="italic" fill="#111" >33%</text>
<text x="167.4" y="584.18" font-size="3.9" text-anchor="end" font-weight="normal" font-style="italic" fill="#000" >ACTG1</text>
<text x="53.9" y="587.62" font-size="4.1" text-anchor="end" font-weight="normal" font-style="italic" fill="#111" >80%</text>
<text x="473.7" y="587.62" font-size="4.1" text-anchor="end" font-weight="normal" font-style="italic" fill="#111" >40%</text>
<text x="167.4" y="587.62" font-size="3.9" text-anchor="end" font-weight="normal" font-style="italic" fill="#000" >IRF1</text>
<text x="53.9" y="591.05" font-size="4.1" text-anchor="end" font-weight="normal" font-style="italic" fill="#111" >47%</text>
<text x="473.7" y="591.05" font-size="4.1" text-anchor="end" font-weight="normal" font-style="italic" fill="#111" >14%</text>
<text x="167.4" y="591.05" font-size="3.9" text-anchor="end" font-weight="normal" font-style="italic" fill="#000" >SETD2</text>
<text x="53.9" y="594.49" font-size="4.1" text-anchor="end" font-weight="normal" font-style="italic" fill="#111" >40%</text>
<text x="473.7" y="594.49" font-size="4.1" text-anchor="end" font-weight="normal" font-style="italic" fill="#111" >23%</text>
<text x="167.4" y="594.49" font-size="3.9" text-anchor="end" font-weight="normal" font-style="italic" fill="#000" >PIM1</text>
<text x="53.9" y="597.92" font-size="4.1" text-anchor="end" font-weight="normal" font-style="italic" fill="#111" >40%</text>
<text x="473.7" y="597.92" font-size="4.1" text-anchor="end" font-weight="normal" font-style="italic" fill="#111" >28%</text>
<text x="167.4" y="597.92" font-size="3.9" text-anchor="end" font-weight="normal" font-style="italic" fill="#000" >BCL7A</text>
<text x="53.9" y="601.36" font-size="4.1" text-anchor="end" font-weight="normal" font-style="italic" fill="#111" >87%</text>
<text x="473.7" y="601.36" font-size="4.1" text-anchor="end" font-weight="normal" font-style="italic" fill="#111" >23%</text>
<text x="167.4" y="601.36" font-size="3.9" text-anchor="end" font-weight="normal" font-style="italic" fill="#000" >ARID1A</text>
<text x="53.9" y="604.8" font-size="4.1" text-anchor="end" font-weight="normal" font-style="italic" fill="#111" >27%</text>
<text x="473.7" y="604.8" font-size="4.1" text-anchor="end" font-weight="normal" font-style="italic" fill="#111" >28%</text>
<text x="167.4" y="604.8" font-size="3.9" text-anchor="end" font-weight="normal" font-style="italic" fill="#000" >MAN2A1</text>
<text x="53.9" y="608.23" font-size="4.1" text-anchor="end" font-weight="normal" font-style="italic" fill="#111" >60%</text>
<text x="473.7" y="608.23" font-size="4.1" text-anchor="end" font-weight="normal" font-style="italic" fill="#111" >40%</text>
<text x="167.4" y="608.23" font-size="3.9" text-anchor="end" font-weight="normal" font-style="italic" fill="#000" >TET2</text>
<text x="53.9" y="611.67" font-size="4.1" text-anchor="end" font-weight="normal" font-style="italic" fill="#111" >27%</text>
<text x="473.7" y="611.67" font-size="4.1" text-anchor="end" font-weight="normal" font-style="italic" fill="#111" >12%</text>
<text x="167.4" y="611.67" font-size="3.9" text-anchor="end" font-weight="normal" font-style="italic" fill="#000" >CXCR4</text>
<text x="53.9" y="615.1" font-size="4.1" text-anchor="end" font-weight="normal" font-style="italic" fill="#111" >40%</text>
<text x="473.7" y="615.1" font-size="4.1" text-anchor="end" font-weight="normal" font-style="italic" fill="#111" >12%</text>
<text x="167.4" y="615.1" font-size="3.9" text-anchor="end" font-weight="normal" font-style="italic" fill="#000" >RFTN1</text>
<text x="53.9" y="618.54" font-size="4.1" text-anchor="end" font-weight="normal" font-style="italic" fill="#111" >87%</text>
<text x="473.7" y="618.54" font-size="4.1" text-anchor="end" font-weight="normal" font-style="italic" fill="#111" >23%</text>
<text x="167.4" y="618.54" font-size="3.9" text-anchor="end" font-weight="normal" font-style="italic" fill="#000" >PABPC1</text>
<text x="53.9" y="621.98" font-size="4.1" text-anchor="end" font-weight="normal" font-style="italic" fill="#111" >53%</text>
<text x="473.7" y="621.98" font-size="4.1" text-anchor="end" font-weight="normal" font-style="italic" fill="#111" >12%</text>
<text x="167.4" y="621.98" font-size="3.9" text-anchor="end" font-weight="normal" font-style="italic" fill="#000" >BIRC3</text>
<text x="53.9" y="625.41" font-size="4.1" text-anchor="end" font-weight="normal" font-style="italic" fill="#111" >67%</text>
<text x="473.7" y="625.41" font-size="4.1" text-anchor="end" font-weight="normal" font-style="italic" fill="#111" >42%</text>
<text x="167.4" y="625.41" font-size="3.9" text-anchor="end" font-weight="normal" font-style="italic" fill="#000" >ROBO1</text>
<text x="53.9" y="628.85" font-size="4.1" text-anchor="end" font-weight="normal" font-style="italic" fill="#111" >53%</text>
<text x="473.7" y="628.85" font-size="4.1" text-anchor="end" font-weight="normal" font-style="italic" fill="#111" >23%</text>
<text x="167.4" y="628.85" font-size="3.9" text-anchor="end" font-weight="normal" font-style="italic" fill="#000" >MYD88</text>
<text x="53.9" y="632.28" font-size="4.1" text-anchor="end" font-weight="normal" font-style="italic" fill="#111" >53%</text>
<text x="473.7" y="632.28" font-size="4.1" text-anchor="end" font-weight="normal" font-style="italic" fill="#111" >33%</text>
<text x="167.4" y="632.28" font-size="3.9" text-anchor="end" font-weight="normal" font-style="italic" fill="#000" >TNFAIP3</text>
<text x="53.9" y="635.72" font-size="4.1" text-anchor="end" font-weight="normal" font-style="italic" fill="#111" >13%</text>
<text x="473.7" y="635.72" font-size="4.1" text-anchor="end" font-weight="normal" font-style="italic" fill="#111" >28%</text>
<text x="167.4" y="635.72" font-size="3.9" text-anchor="end" font-weight="normal" font-style="italic" fill="#000" >CACNA1</text>
<text x="8.6" y="454.2" font-size="11.8" text-anchor="start" font-weight="bold" font-style="normal" fill="#000" >G</text>
<text x="73.6" y="455" font-size="9.7" text-anchor="start" font-weight="bold" font-style="normal" fill="#111" >IgM (N = 15)</text>
<text x="258.5" y="455" font-size="9.7" text-anchor="start" font-weight="bold" font-style="normal" fill="#111" >Non-IgM t(11;14) (N = 43)</text>
<rect x="13.5" y="639.5" width="3.6" height="3.9" fill="#80ea2c" />
<text x="20" y="643.6" font-size="5.4" text-anchor="start" font-weight="normal" font-style="normal" fill="#222" >Coding</text>
<rect x="13.5" y="645.1" width="3.6" height="3.9" fill="#f25a12" />
<text x="20" y="649.2" font-size="5.4" text-anchor="start" font-weight="normal" font-style="normal" fill="#222" >Non-coding</text>
<rect x="477.3" y="639.5" width="3.6" height="3.9" fill="#80ea2c" />
<text x="483.4" y="643.6" font-size="5.4" text-anchor="start" font-weight="normal" font-style="normal" fill="#222" >Coding</text>
<rect x="477.3" y="645.1" width="3.6" height="3.9" fill="#f25a12" />
<text x="483.4" y="649.2" font-size="5.4" text-anchor="start" font-weight="normal" font-style="normal" fill="#222" >Non-coding</text>
<rect x="178.8" y="655.5" width="3.8" height="3.8" fill="#66ee22" />
<text x="185.2" y="659.1" font-size="5.4" text-anchor="start" font-weight="normal" font-style="normal" fill="#222" >IgM</text>
<rect x="178.8" y="664.4" width="3.8" height="3.8" fill="#f27d22" />
<text x="185.2" y="668" font-size="5.4" text-anchor="start" font-weight="normal" font-style="normal" fill="#222" >IgG</text>
<rect x="178.8" y="673.3" width="3.8" height="3.8" fill="#2222e0" />
<text x="185.2" y="676.9" font-size="5.4" text-anchor="start" font-weight="normal" font-style="normal" fill="#222" >IgA</text>
<rect x="204.3" y="655.5" width="3.8" height="3.8" fill="#c41434" />
<text x="210.4" y="659.1" font-size="5.4" text-anchor="start" font-weight="normal" font-style="normal" fill="#222" >IGL</text>
<rect x="204.3" y="664.4" width="3.8" height="3.8" fill="#98f0b0" />
<text x="210.4" y="668" font-size="5.4" text-anchor="start" font-weight="normal" font-style="normal" fill="#222" >IgD</text>
<rect x="230.8" y="650.6" width="3.8" height="3.8" fill="#8cee2a" />
<text x="237" y="654.2" font-size="5.3" text-anchor="start" font-weight="normal" font-style="normal" fill="#222" >Missense_mutation</text>
<rect x="230.8" y="656.75" width="3.8" height="3.8" fill="#ffd400" />
<text x="237" y="660.35" font-size="5.3" text-anchor="start" font-weight="normal" font-style="normal" fill="#222" >Intron</text>
<rect x="230.8" y="662.9" width="3.8" height="3.8" fill="#128a12" />
<text x="237" y="666.5" font-size="5.3" text-anchor="start" font-weight="normal" font-style="normal" fill="#222" >5'flank</text>
<rect x="230.8" y="669.05" width="3.8" height="3.8" fill="#f048d0" />
<text x="237" y="672.65" font-size="5.3" text-anchor="start" font-weight="normal" font-style="normal" fill="#222" >Silent</text>
<rect x="230.8" y="675.2" width="3.8" height="3.8" fill="#44e29c" />
<text x="237" y="678.8" font-size="5.3" text-anchor="start" font-weight="normal" font-style="normal" fill="#222" >Nonsense_mutation</text>
<rect x="230.8" y="681.35" width="3.8" height="3.8" fill="#f58a48" />
<text x="237" y="684.95" font-size="5.3" text-anchor="start" font-weight="normal" font-style="normal" fill="#222" >5'UTR</text>
<rect x="296.3" y="650.6" width="3.8" height="3.8" fill="#b4f7ea" />
<text x="303" y="654.2" font-size="5.3" text-anchor="start" font-weight="normal" font-style="normal" fill="#222" >3'flank</text>
<rect x="296.3" y="656.75" width="3.8" height="3.8" fill="#1010a8" />
<text x="303" y="660.35" font-size="5.3" text-anchor="start" font-weight="normal" font-style="normal" fill="#222" >3'UTR</text>
<rect x="296.3" y="662.9" width="3.8" height="3.8" fill="#e4a420" />
<text x="303" y="666.5" font-size="5.3" text-anchor="start" font-weight="normal" font-style="normal" fill="#222" >In_frame_del</text>
<rect x="296.3" y="669.05" width="3.8" height="3.8" fill="#ecd7a6" />
<text x="303" y="672.65" font-size="5.3" text-anchor="start" font-weight="normal" font-style="normal" fill="#222" >Splice_region</text>
<rect x="296.3" y="675.2" width="3.8" height="3.8" fill="#6a2c9a" />
<text x="303" y="678.8" font-size="5.3" text-anchor="start" font-weight="normal" font-style="normal" fill="#222" >Splice_site</text>
<rect x="296.3" y="681.35" width="3.8" height="3.8" fill="#ff2020" />
<text x="303" y="684.95" font-size="5.3" text-anchor="start" font-weight="normal" font-style="normal" fill="#222" >Multi_hit</text>
<circle cx="352.6" cy="661.3" r="0.6" fill="#111"/>
<circle cx="352.0" cy="668.3" r="0.6" fill="#111"/><circle cx="353.4" cy="668.3" r="0.6" fill="#111"/>
<text x="358.6" y="663.2" font-size="5.4" text-anchor="start" font-weight="normal" font-style="normal" fill="#222" >p &lt; 0.05</text>
<text x="358.6" y="670.2" font-size="5.4" text-anchor="start" font-weight="normal" font-style="normal" fill="#222" >p &lt; 0.01</text>
<circle cx="384.6" cy="661.3" r="0.7" fill="#f07030"/>
<circle cx="384.6" cy="668.3" r="0.7" fill="#60d020"/>
<text x="388.2" y="663.2" font-size="5.4" text-anchor="start" font-weight="normal" font-style="normal" fill="#222" >Non-coding</text>
<text x="388.2" y="670.2" font-size="5.4" text-anchor="start" font-weight="normal" font-style="normal" fill="#222" >Coding</text>
<rect x="0.75" y="0.75" width="518.5" height="692.5" fill="none" stroke="#000" stroke-width="1.5"/>
</svg>
</body></html>
